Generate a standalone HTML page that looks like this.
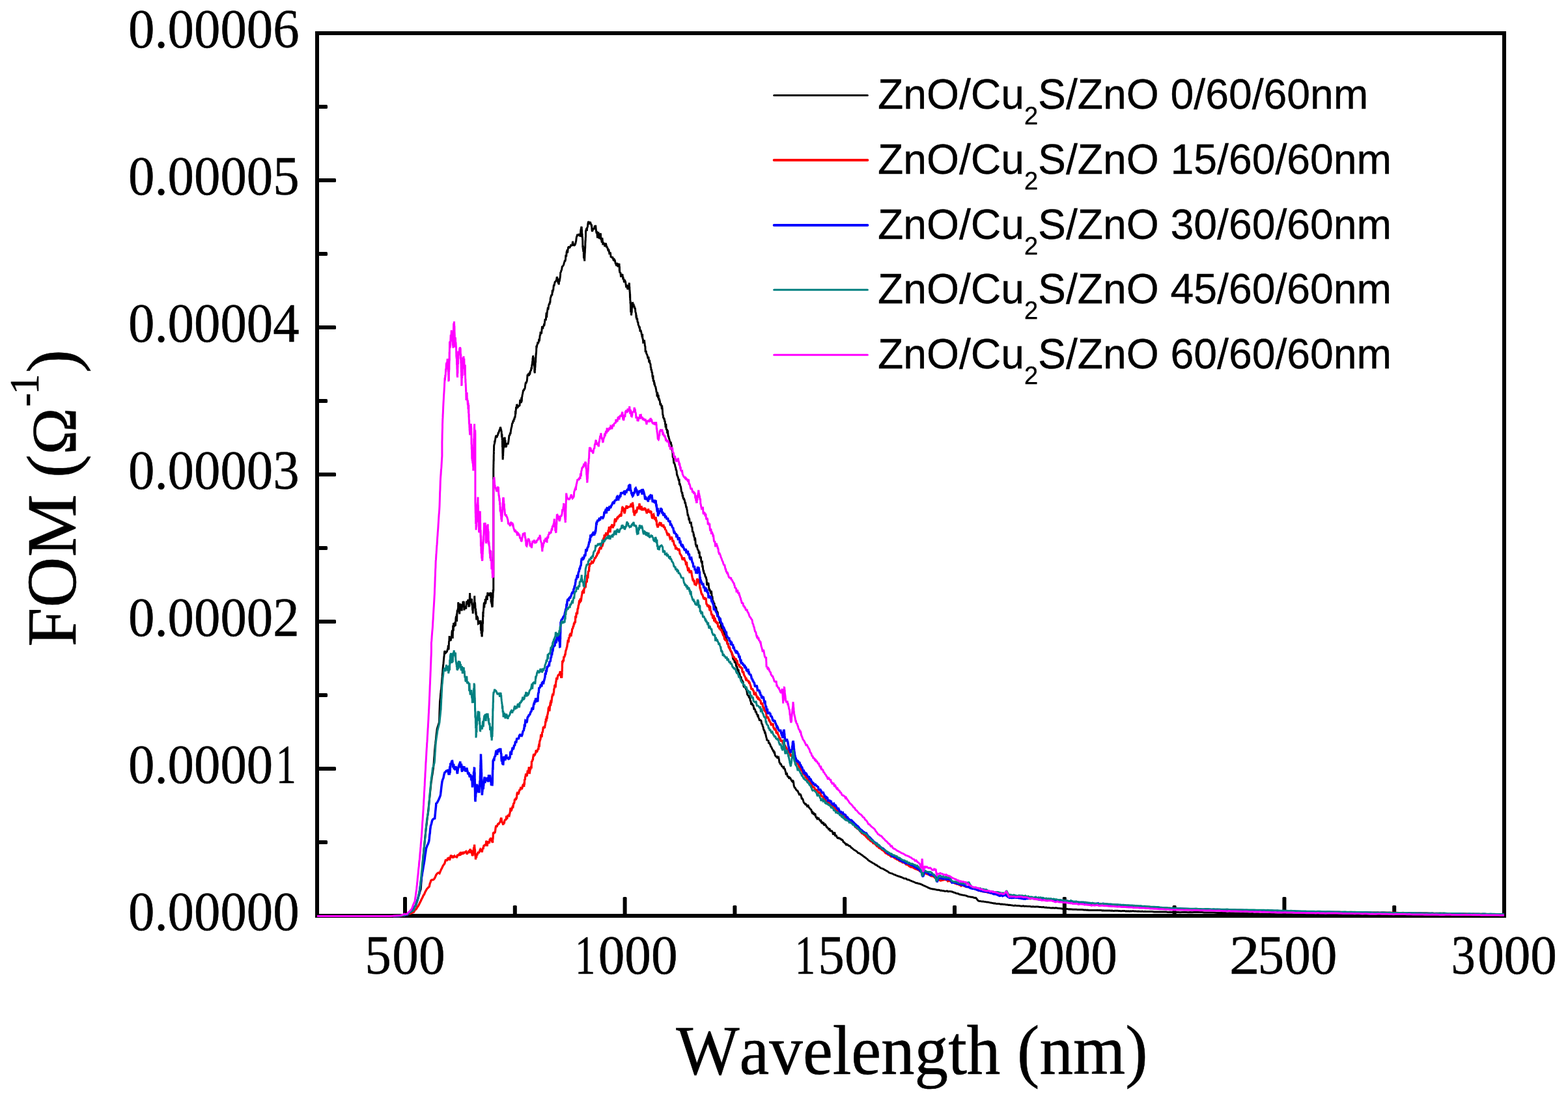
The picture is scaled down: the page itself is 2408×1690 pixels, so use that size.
<!DOCTYPE html>
<html lang="en"><head><meta charset="utf-8"><title>FOM vs Wavelength</title>
<style>html,body{margin:0;padding:0;background:#fff}body{width:2408px;height:1690px}svg{display:block}</style></head>
<body>
<svg width="2408" height="1690" viewBox="0 0 2408 1690">
<rect width="2408" height="1690" fill="#fff"/>
<rect x="487" y="51" width="1823" height="1356" fill="none" stroke="#000" stroke-width="6"/>
<g fill="#000"><rect x="487" y="1291" width="16" height="6" rx="1.6"/><rect x="487" y="1178" width="29" height="6" rx="1.6"/><rect x="487" y="1065" width="16" height="6" rx="1.6"/><rect x="487" y="952" width="29" height="6" rx="1.6"/><rect x="487" y="839" width="16" height="6" rx="1.6"/><rect x="487" y="726" width="29" height="6" rx="1.6"/><rect x="487" y="613" width="16" height="6" rx="1.6"/><rect x="487" y="500" width="29" height="6" rx="1.6"/><rect x="487" y="387" width="16" height="6" rx="1.6"/><rect x="487" y="274" width="29" height="6" rx="1.6"/><rect x="487" y="161" width="16" height="6" rx="1.6"/><rect x="619.0" y="1378" width="6" height="29" rx="1.6"/><rect x="787.8" y="1391" width="6" height="16" rx="1.6"/><rect x="956.6" y="1378" width="6" height="29" rx="1.6"/><rect x="1125.4" y="1391" width="6" height="16" rx="1.6"/><rect x="1294.2" y="1378" width="6" height="29" rx="1.6"/><rect x="1463.0" y="1391" width="6" height="16" rx="1.6"/><rect x="1631.8" y="1378" width="6" height="29" rx="1.6"/><rect x="1800.6" y="1391" width="6" height="16" rx="1.6"/><rect x="1969.4" y="1378" width="6" height="29" rx="1.6"/><rect x="2138.2" y="1391" width="6" height="16" rx="1.6"/></g>
<clipPath id="c"><rect x="487" y="51" width="1824.5" height="1359"/></clipPath>
<g clip-path="url(#c)" fill="none" stroke-linejoin="miter" stroke-miterlimit="2" stroke-linecap="butt">
<path d="M604.0,1407.5 L612.0,1407.5 L613.5,1407.2 L615.1,1406.9 L616.6,1406.7 L618.1,1406.0 L619.7,1406.1 L621.2,1405.4 L622.7,1405.2 L624.2,1404.8 L625.7,1404.0 L627.2,1403.3 L628.7,1401.9 L630.2,1401.5 L631.7,1400.6 L633.2,1399.4 L634.8,1396.8 L636.4,1393.4 L638.1,1391.0 L639.7,1386.8 L640.6,1383.7 L641.6,1381.3 L642.5,1377.9 L643.4,1375.2 L644.4,1371.7 L645.3,1368.9 L646.2,1366.1 L646.5,1362.9 L646.7,1359.4 L647.0,1355.6 L647.2,1353.0 L647.5,1349.5 L647.7,1346.5 L648.0,1343.1 L648.2,1340.2 L648.4,1336.4 L648.7,1333.3 L648.9,1330.2 L649.2,1326.2 L649.4,1323.2 L649.7,1319.9 L649.9,1317.6 L650.2,1313.6 L650.5,1310.6 L650.8,1307.3 L651.1,1303.7 L651.5,1299.9 L651.8,1297.6 L652.1,1293.8 L652.4,1291.0 L652.8,1286.9 L653.1,1284.0 L653.4,1281.4 L653.7,1278.2 L654.1,1274.0 L654.5,1270.7 L654.9,1268.1 L655.3,1265.3 L655.6,1261.9 L656.0,1258.8 L656.4,1255.2 L656.8,1252.7 L657.2,1249.7 L657.6,1246.0 L658.0,1242.6 L658.3,1239.5 L658.6,1236.8 L659.0,1232.5 L659.3,1229.9 L659.6,1226.3 L660.0,1223.4 L660.3,1220.1 L660.6,1216.9 L660.9,1214.2 L661.3,1210.5 L661.6,1207.6 L661.9,1203.8 L662.4,1200.4 L662.9,1197.4 L663.4,1192.9 L663.9,1190.7 L664.4,1187.6 L664.9,1183.7 L665.3,1181.2 L665.8,1177.5 L666.1,1173.4 L666.3,1171.1 L666.5,1167.5 L666.7,1164.4 L667.0,1161.3 L667.2,1158.6 L667.4,1154.9 L667.7,1151.6 L668.0,1148.6 L668.3,1144.6 L668.7,1142.7 L669.0,1138.6 L669.4,1136.1 L669.7,1132.3 L670.0,1129.2 L670.4,1126.3 L670.7,1124.1 L671.1,1120.4 L672.2,1116.5 L673.3,1113.1 L674.5,1109.4 L674.6,1106.6 L674.7,1103.3 L674.8,1100.6 L674.9,1096.7 L675.0,1093.9 L675.1,1090.6 L675.2,1087.5 L675.3,1085.0 L675.4,1081.6 L675.5,1078.6 L675.8,1075.6 L676.2,1072.3 L676.5,1068.0 L676.8,1065.5 L677.1,1061.4 L677.5,1058.8 L677.8,1056.3 L678.1,1052.2 L678.4,1048.9 L678.6,1045.8 L678.9,1042.5 L679.2,1039.2 L679.4,1035.6 L679.7,1033.1 L679.9,1029.8 L680.2,1026.1 L680.5,1023.0 L680.9,1019.9 L681.2,1016.7 L681.5,1013.2 L681.8,1010.1 L682.2,1006.4 L682.5,1002.8 L682.8,999.9 L684.6,1003.0 L686.3,1001.3 L688.0,995.8 L688.3,991.3 L688.6,993.8 L688.9,998.4 L689.2,995.6 L689.5,985.0 L689.8,986.4 L690.1,978.6 L690.4,978.6 L690.7,982.8 L691.2,980.8 L691.8,983.6 L692.3,983.5 L692.9,980.0 L693.5,980.7 L694.0,970.8 L694.6,968.2 L694.9,972.6 L695.2,980.9 L695.5,969.0 L695.7,960.8 L696.0,965.6 L696.3,969.5 L696.6,957.0 L696.9,963.8 L697.2,956.8 L697.8,962.9 L698.3,959.3 L698.9,955.6 L699.4,961.7 L700.0,949.4 L700.6,946.7 L701.1,954.1 L701.4,942.7 L701.6,955.0 L701.9,943.4 L702.2,937.3 L702.4,940.4 L702.7,939.4 L702.9,938.2 L703.2,934.8 L703.5,939.0 L703.7,925.3 L704.4,931.0 L705.0,933.1 L705.7,943.4 L706.3,927.1 L707.0,935.4 L707.6,934.2 L708.0,933.4 L708.4,937.8 L708.8,935.3 L709.2,938.5 L709.5,927.8 L709.9,930.3 L710.3,932.9 L710.7,930.3 L711.0,923.7 L711.7,931.4 L712.3,923.7 L712.9,937.6 L713.6,931.7 L714.2,932.2 L714.7,932.2 L715.2,933.3 L715.7,935.7 L716.3,925.7 L716.8,923.6 L717.6,928.7 L718.4,923.4 L719.1,921.0 L719.9,932.6 L720.4,926.8 L720.8,932.1 L721.2,920.9 L721.6,911.1 L722.1,923.9 L722.5,921.8 L722.9,926.9 L723.3,919.9 L723.6,921.1 L723.8,923.9 L724.0,921.2 L724.3,924.7 L724.5,919.8 L724.8,929.8 L725.0,925.4 L725.2,928.6 L725.5,935.3 L725.7,937.8 L725.9,932.0 L726.2,942.8 L726.5,929.6 L726.8,934.6 L727.1,933.7 L727.4,928.9 L727.7,927.3 L728.0,933.1 L728.3,927.6 L728.6,923.5 L728.7,915.4 L728.9,921.7 L729.1,931.8 L729.3,929.0 L729.5,925.3 L729.7,928.2 L729.9,931.2 L730.0,937.2 L730.2,937.3 L730.4,941.5 L730.6,934.9 L730.8,944.5 L731.0,939.3 L731.2,942.1 L731.7,952.4 L732.2,946.5 L732.7,947.1 L733.3,948.4 L733.8,949.7 L734.4,958.3 L735.1,957.9 L735.7,955.4 L736.4,953.4 L737.0,957.7 L737.7,953.2 L737.9,957.0 L738.1,958.3 L738.3,958.4 L738.4,966.9 L738.6,968.8 L738.8,968.4 L739.0,955.3 L739.2,973.7 L739.4,970.1 L739.6,966.4 L739.8,969.8 L739.9,976.5 L740.1,978.2 L740.3,977.1 L740.4,973.5 L740.5,971.4 L740.6,973.4 L740.6,967.7 L740.7,962.5 L740.8,962.2 L740.9,962.8 L741.0,963.3 L741.1,970.5 L741.1,952.5 L741.2,959.3 L741.3,955.2 L741.4,955.4 L741.5,958.5 L741.6,956.5 L741.6,948.6 L741.7,945.2 L741.8,940.0 L741.9,944.3 L742.0,948.6 L742.1,940.3 L742.2,943.1 L742.2,941.5 L742.3,938.5 L742.4,938.6 L742.8,933.2 L743.1,928.6 L743.4,925.6 L743.8,933.6 L744.1,926.3 L744.5,925.1 L744.8,928.8 L745.2,920.0 L745.5,927.7 L746.2,923.8 L746.8,917.1 L747.5,915.4 L748.2,921.8 L748.8,910.3 L749.5,912.3 L750.1,913.9 L750.8,914.3 L751.4,913.0 L752.1,914.3 L752.7,910.5 L753.4,911.3 L753.6,918.9 L753.8,917.6 L753.9,914.1 L754.1,925.4 L754.3,910.2 L754.5,921.0 L754.7,925.1 L754.9,928.0 L755.1,925.6 L755.2,924.9 L755.4,930.7 L755.6,928.7 L755.8,933.2 L756.0,923.6 L756.1,932.7 L756.2,925.9 L756.3,932.1 L756.3,929.7 L756.4,928.0 L756.5,921.3 L756.6,923.6 L756.7,918.5 L756.8,919.4 L756.9,916.3 L756.9,911.4 L757.0,918.5 L757.1,913.9 L757.2,905.7 L757.3,910.6 L757.8,906.7 L757.8,719.9 L757.9,717.6 L757.9,715.1 L757.9,713.4 L758.0,713.5 L758.0,710.4 L758.1,706.0 L758.1,707.7 L758.2,706.8 L758.2,708.5 L758.2,701.5 L758.3,697.9 L758.3,698.1 L758.4,698.8 L758.4,693.4 L758.4,692.0 L758.5,693.3 L758.5,690.2 L758.6,689.0 L758.6,685.7 L758.9,683.1 L759.1,682.7 L759.4,681.5 L759.6,679.4 L759.9,679.6 L760.2,678.3 L760.4,676.6 L760.7,674.5 L761.4,670.5 L762.2,668.8 L762.9,672.3 L763.7,669.4 L764.4,668.5 L765.1,665.2 L765.8,665.1 L766.4,662.6 L767.1,660.5 L767.8,659.5 L768.4,655.9 L769.1,658.2 L769.3,662.4 L769.6,659.6 L769.8,663.1 L770.1,661.9 L770.4,667.8 L770.6,672.3 L770.9,666.5 L771.1,670.7 L771.2,676.3 L771.3,675.5 L771.3,676.7 L771.4,673.3 L771.4,679.7 L771.5,684.0 L771.5,687.0 L771.6,686.9 L771.6,685.8 L771.7,687.3 L771.8,686.4 L771.8,690.0 L771.9,697.0 L771.9,695.8 L772.0,694.7 L772.0,702.9 L772.1,697.5 L772.1,706.3 L772.2,704.5 L772.3,704.1 L772.4,703.1 L772.5,700.3 L772.6,700.9 L772.7,696.1 L772.9,693.5 L773.0,690.9 L773.1,687.3 L773.2,687.3 L773.3,689.5 L773.4,687.4 L773.5,686.9 L773.6,688.4 L773.7,681.7 L773.8,679.4 L774.0,673.3 L774.1,674.1 L774.2,678.1 L774.3,672.0 L774.6,672.5 L774.9,675.3 L775.2,671.8 L775.4,676.0 L775.7,676.6 L776.0,676.4 L776.3,685.1 L776.6,687.3 L776.9,686.5 L777.6,685.8 L778.2,680.9 L778.9,682.6 L779.5,681.6 L780.2,681.7 L780.8,678.9 L781.2,675.8 L781.6,672.6 L781.9,669.3 L782.3,668.1 L782.7,669.4 L783.1,667.6 L783.4,664.6 L783.9,666.7 L784.4,662.5 L784.9,659.2 L785.4,656.9 L785.9,655.7 L786.4,651.5 L786.9,649.6 L787.3,650.8 L787.8,647.1 L788.3,646.3 L788.8,648.2 L789.3,643.2 L789.8,645.2 L790.3,640.4 L790.8,642.4 L791.3,637.9 L791.6,631.1 L791.9,636.5 L792.2,631.2 L792.6,625.2 L792.9,628.4 L793.2,626.7 L793.6,621.4 L793.9,621.7 L794.7,623.6 L795.5,625.1 L796.3,624.0 L797.1,623.7 L798.0,623.0 L798.8,613.8 L799.6,617.6 L800.4,619.1 L800.7,610.6 L801.0,617.2 L801.3,615.7 L801.6,610.0 L801.9,609.2 L802.2,606.1 L802.4,606.6 L802.7,604.8 L803.0,603.1 L803.7,598.9 L804.3,600.6 L805.0,597.1 L805.6,598.4 L806.3,595.2 L806.9,590.2 L807.4,587.5 L807.8,589.4 L808.3,586.3 L808.7,586.8 L809.1,585.9 L809.6,582.3 L810.0,576.4 L810.4,575.9 L810.9,578.0 L811.6,573.4 L812.4,577.4 L813.1,573.4 L813.9,573.8 L814.6,569.3 L815.3,570.0 L816.1,564.2 L816.3,566.9 L816.5,567.1 L816.7,561.8 L817.0,560.2 L817.2,560.3 L817.4,558.9 L817.6,555.0 L817.8,556.8 L818.1,549.5 L818.3,554.4 L818.5,546.6 L818.7,546.9 L818.9,553.3 L819.1,549.5 L819.3,549.7 L819.5,555.7 L819.7,555.1 L819.9,556.4 L820.1,559.2 L820.3,560.9 L820.5,562.2 L820.7,563.9 L820.9,572.0 L821.1,568.4 L821.3,573.4 L821.4,566.7 L821.6,569.6 L821.7,563.5 L821.8,563.7 L821.9,564.6 L822.1,560.0 L822.2,554.9 L822.3,556.5 L822.4,555.7 L822.6,555.7 L822.7,550.2 L822.8,550.2 L822.9,549.3 L823.1,543.4 L823.2,545.4 L823.3,541.9 L823.4,543.2 L823.6,540.2 L823.7,538.3 L823.8,531.1 L823.9,535.0 L824.4,532.6 L824.9,529.6 L825.4,529.0 L825.8,525.5 L826.3,527.3 L826.8,526.8 L827.3,525.0 L827.7,520.6 L828.2,524.3 L828.7,520.6 L829.2,515.3 L829.7,514.9 L830.1,509.7 L830.6,511.7 L831.1,512.1 L831.6,511.8 L832.1,506.1 L832.6,501.2 L833.1,503.5 L833.7,505.4 L834.2,500.7 L834.8,501.7 L835.4,498.8 L836.0,498.9 L836.6,494.8 L837.1,490.0 L837.7,491.0 L838.3,492.4 L838.7,485.2 L839.2,480.2 L839.6,488.0 L840.0,482.2 L840.5,477.9 L840.9,476.2 L841.4,472.3 L841.8,475.9 L842.2,472.7 L842.7,469.2 L843.1,468.0 L843.5,466.2 L844.0,468.1 L844.4,463.3 L844.8,465.3 L845.3,458.3 L845.7,457.1 L846.1,456.0 L846.6,453.8 L847.0,453.1 L847.5,454.0 L847.9,452.7 L848.3,445.5 L848.8,449.4 L849.2,444.8 L849.6,446.7 L850.1,440.7 L850.5,437.4 L850.9,439.5 L851.4,436.9 L852.2,433.2 L852.9,432.8 L853.7,431.5 L854.5,430.4 L855.3,425.2 L855.8,426.7 L856.3,431.3 L856.9,433.4 L857.4,433.1 L857.9,432.9 L858.2,437.4 L858.6,431.7 L858.9,428.1 L859.2,432.7 L859.5,429.9 L859.9,427.9 L860.2,425.7 L860.5,423.3 L860.8,417.9 L861.2,418.5 L861.5,417.6 L861.8,416.0 L862.6,414.6 L863.3,409.6 L864.1,409.1 L864.8,408.2 L865.6,407.0 L866.3,403.9 L867.1,401.5 L867.4,399.9 L867.8,401.9 L868.2,399.5 L868.5,399.2 L868.9,391.6 L869.3,393.5 L869.7,394.3 L870.2,386.3 L870.6,386.6 L871.1,383.4 L871.6,388.5 L872.1,383.9 L872.6,380.6 L873.1,380.6 L873.6,378.2 L874.3,380.0 L875.1,380.1 L875.8,378.9 L876.6,377.0 L877.3,377.4 L878.1,377.0 L878.8,376.4 L879.6,370.6 L880.4,376.4 L881.2,376.2 L881.9,377.0 L882.7,376.7 L883.2,375.1 L883.7,374.7 L884.2,372.2 L884.7,370.2 L885.2,365.5 L885.7,363.3 L886.2,362.7 L886.7,359.7 L887.4,361.8 L888.2,361.3 L889.0,359.4 L889.8,360.8 L890.2,361.1 L890.6,359.0 L891.1,363.9 L891.5,358.9 L891.9,353.2 L892.3,352.0 L892.8,349.0 L893.2,348.3 L893.3,350.6 L893.4,353.0 L893.6,353.4 L893.7,358.6 L893.8,359.9 L893.9,364.8 L894.1,358.7 L894.2,365.2 L894.3,364.4 L894.4,363.2 L894.6,368.1 L894.7,366.6 L894.8,372.2 L894.9,380.6 L895.1,378.9 L895.2,381.9 L895.3,382.1 L895.4,377.3 L895.5,383.7 L895.7,384.8 L895.8,387.0 L896.0,385.5 L896.3,385.1 L896.5,396.7 L896.7,396.3 L896.9,396.0 L897.2,395.8 L897.4,399.3 L897.6,398.5 L897.7,401.1 L897.8,397.5 L897.9,394.9 L898.0,392.5 L898.0,391.6 L898.1,390.3 L898.2,387.2 L898.3,388.7 L898.4,385.1 L898.5,382.6 L898.5,379.0 L898.6,382.2 L898.7,380.6 L898.8,377.4 L898.9,369.5 L899.0,371.3 L899.0,372.8 L899.1,368.7 L899.2,369.9 L899.3,364.0 L899.4,365.2 L899.5,362.8 L899.6,353.9 L899.6,357.0 L899.7,355.8 L900.2,352.9 L900.8,350.6 L901.3,354.8 L901.8,348.9 L902.3,349.4 L902.9,343.5 L903.7,340.0 L904.5,343.0 L905.4,344.4 L906.2,340.9 L907.0,342.7 L907.4,345.4 L907.8,344.0 L908.2,346.6 L908.6,346.6 L909.0,352.6 L909.4,355.9 L909.8,354.4 L910.2,354.0 L911.0,351.6 L911.7,351.1 L912.5,352.3 L913.3,346.8 L914.1,349.5 L914.6,345.9 L915.1,350.6 L915.6,355.6 L916.1,358.5 L916.5,355.0 L917.0,359.7 L917.5,365.7 L918.0,363.4 L918.8,356.2 L919.6,362.1 L920.4,367.1 L921.1,358.6 L921.9,362.9 L922.4,358.2 L922.9,368.8 L923.4,364.8 L923.9,370.5 L924.4,372.6 L924.9,365.5 L925.4,370.6 L925.9,376.3 L926.6,372.1 L927.3,375.7 L928.1,373.5 L928.8,379.0 L929.6,374.6 L930.3,373.6 L931.1,376.9 L931.7,380.5 L932.4,378.9 L933.0,381.7 L933.7,383.9 L934.3,383.3 L935.0,384.2 L935.8,389.1 L936.6,388.5 L937.3,387.7 L938.1,394.6 L938.9,394.8 L939.7,395.5 L940.5,394.4 L941.3,396.7 L942.1,399.7 L942.8,400.1 L943.6,398.9 L944.4,400.3 L945.2,404.8 L946.0,406.0 L946.8,408.6 L947.5,403.8 L948.3,408.3 L949.1,409.8 L949.9,407.3 L950.7,404.7 L950.8,408.4 L951.0,404.9 L951.1,408.7 L951.3,416.4 L951.4,409.3 L951.5,412.2 L951.7,418.7 L951.8,416.9 L952.0,419.3 L952.8,418.3 L953.6,425.8 L954.3,421.1 L955.1,422.7 L955.9,421.1 L956.6,427.5 L957.2,427.2 L957.9,429.9 L958.5,434.0 L959.2,432.1 L959.8,431.3 L960.5,432.6 L961.1,437.0 L961.8,441.7 L962.4,437.4 L963.1,441.4 L963.7,443.5 L964.3,443.5 L964.8,437.9 L965.3,439.0 L965.8,438.3 L966.4,434.5 L966.5,436.1 L966.5,439.5 L966.6,441.1 L966.7,444.5 L966.8,440.6 L966.9,447.8 L967.0,446.1 L967.1,445.6 L967.2,448.7 L967.3,448.8 L967.4,453.0 L967.5,457.7 L967.6,451.5 L967.7,455.8 L967.8,462.2 L967.9,461.4 L968.0,465.7 L968.1,462.3 L968.2,467.2 L968.3,462.7 L968.4,468.7 L968.5,474.2 L968.6,477.1 L968.8,479.9 L968.9,477.6 L969.0,477.3 L969.1,480.3 L969.2,479.7 L969.5,484.5 L969.7,482.4 L969.9,475.6 L970.2,480.5 L970.4,471.2 L970.6,474.1 L970.9,469.1 L971.1,465.2 L971.3,468.6 L971.6,464.0 L972.2,470.3 L972.9,466.8 L973.5,470.8 L974.2,470.9 L974.8,473.9 L975.5,474.0 L975.8,478.8 L976.1,480.0 L976.4,480.5 L976.7,481.7 L977.0,488.5 L977.2,483.9 L977.5,486.2 L977.8,490.9 L978.1,490.7 L978.6,488.6 L979.0,493.9 L979.4,495.1 L979.9,495.3 L980.3,499.9 L980.7,499.3 L981.5,502.2 L982.3,501.6 L983.1,509.7 L983.9,506.8 L984.6,509.8 L985.0,511.4 L985.3,514.0 L985.6,513.6 L986.0,517.4 L986.3,517.5 L986.6,513.0 L986.9,521.2 L987.3,520.0 L987.8,526.0 L988.3,525.8 L988.8,525.9 L989.4,522.3 L989.9,526.4 L990.2,528.8 L990.5,532.3 L990.9,531.6 L991.2,541.3 L991.5,539.2 L991.8,539.6 L992.2,539.0 L992.5,542.5 L993.2,544.0 L993.8,545.1 L994.5,547.5 L995.2,551.2 L995.9,547.9 L996.4,553.2 L996.9,557.0 L997.5,552.8 L998.0,557.4 L998.5,558.7 L999.0,559.4 L999.3,565.2 L999.7,563.8 L1000.0,569.0 L1000.3,568.8 L1000.7,568.8 L1001.0,571.8 L1001.3,571.9 L1001.6,571.6 L1002.0,579.4 L1002.3,578.5 L1002.6,582.1 L1002.9,576.6 L1003.3,585.1 L1003.6,586.2 L1003.9,585.7 L1004.2,583.9 L1004.7,589.3 L1005.2,589.1 L1005.7,591.9 L1006.2,594.1 L1006.7,593.4 L1007.2,596.9 L1007.7,598.9 L1008.2,603.0 L1008.7,601.9 L1009.1,609.4 L1009.6,602.6 L1010.1,606.7 L1010.6,611.7 L1011.1,606.5 L1011.6,613.4 L1012.1,614.2 L1012.7,613.9 L1013.4,616.5 L1014.0,622.5 L1014.7,619.5 L1015.4,623.0 L1016.0,624.8 L1016.3,628.7 L1016.6,622.6 L1016.9,625.7 L1017.2,627.8 L1017.5,632.1 L1017.7,636.0 L1018.0,638.2 L1018.3,637.3 L1018.6,642.3 L1019.1,641.1 L1019.7,644.5 L1020.2,642.6 L1020.7,648.0 L1021.2,646.3 L1021.6,652.0 L1021.9,652.9 L1022.2,656.9 L1022.5,653.1 L1022.9,652.9 L1023.2,659.3 L1023.5,659.8 L1023.8,659.7 L1024.3,659.0 L1024.8,665.8 L1025.3,660.8 L1025.8,666.0 L1026.3,671.4 L1026.8,669.8 L1027.3,673.2 L1027.8,674.5 L1028.3,676.7 L1028.7,679.5 L1029.2,680.2 L1029.7,679.3 L1030.2,678.9 L1030.7,682.8 L1031.2,683.5 L1031.7,687.4 L1031.9,691.5 L1032.1,692.1 L1032.3,690.3 L1032.6,694.2 L1032.8,695.5 L1033.0,696.1 L1033.2,702.1 L1033.4,702.2 L1033.6,703.3 L1033.9,701.2 L1034.1,699.6 L1034.3,706.4 L1034.9,712.2 L1035.4,710.7 L1036.0,712.9 L1036.5,714.0 L1037.1,717.6 L1037.7,718.2 L1038.2,722.8 L1038.2,720.9 L1038.7,722.4 L1039.1,723.8 L1039.5,729.5 L1040.0,729.7 L1040.4,731.3 L1040.8,732.6 L1041.3,733.0 L1041.7,735.6 L1042.1,737.5 L1042.6,738.6 L1043.0,735.6 L1043.4,745.1 L1043.9,742.4 L1044.3,743.9 L1044.8,746.2 L1045.2,747.0 L1045.6,748.4 L1046.1,752.1 L1046.5,756.1 L1046.9,755.0 L1047.4,758.6 L1047.8,756.0 L1048.2,762.8 L1048.7,760.0 L1049.1,766.1 L1049.5,764.4 L1050.0,766.9 L1050.6,766.7 L1051.3,768.4 L1051.9,772.6 L1052.6,772.6 L1053.2,776.1 L1053.9,780.3 L1054.2,778.0 L1054.6,780.9 L1054.9,783.1 L1055.2,783.4 L1055.5,786.5 L1055.9,788.8 L1056.2,792.3 L1056.5,790.2 L1057.0,792.6 L1057.5,794.3 L1058.0,799.3 L1058.5,795.6 L1059.0,800.0 L1059.5,803.1 L1059.9,804.3 L1060.4,803.3 L1060.9,803.7 L1061.4,803.4 L1061.9,808.1 L1062.4,810.4 L1062.9,809.1 L1063.4,816.4 L1063.9,816.4 L1064.4,817.2 L1064.8,818.1 L1065.2,822.2 L1065.7,822.1 L1066.1,825.8 L1066.5,825.2 L1067.0,830.6 L1067.4,825.9 L1067.8,829.0 L1068.3,836.3 L1068.9,837.5 L1069.6,840.7 L1070.2,836.6 L1070.9,842.0 L1071.5,844.4 L1072.2,845.3 L1072.7,844.9 L1073.2,850.5 L1073.7,849.6 L1074.2,847.2 L1074.6,857.8 L1075.1,853.8 L1075.6,858.2 L1076.1,855.6 L1076.4,856.2 L1076.8,862.2 L1077.1,863.7 L1077.4,861.5 L1077.7,865.6 L1078.1,863.4 L1078.4,863.3 L1078.7,871.7 L1079.2,868.7 L1079.7,874.9 L1080.2,877.3 L1080.7,877.3 L1081.2,881.7 L1081.7,880.5 L1082.2,882.0 L1082.6,882.9 L1083.1,885.6 L1083.6,887.0 L1084.1,885.6 L1084.6,889.3 L1085.1,890.2 L1085.6,899.5 L1086.1,897.3 L1086.6,894.7 L1087.2,899.2 L1087.9,895.3 L1088.5,901.4 L1089.2,907.3 L1089.8,904.9 L1090.5,908.6 L1091.0,907.2 L1091.5,910.8 L1092.0,912.2 L1092.4,907.7 L1092.9,912.7 L1093.4,920.8 L1093.9,915.9 L1094.4,921.5 L1094.9,925.3 L1095.4,922.7 L1095.9,926.8 L1096.4,926.9 L1096.9,926.2 L1097.3,930.7 L1097.8,932.0 L1098.3,930.9 L1099.0,933.3 L1099.6,932.8 L1100.3,937.3 L1100.9,939.5 L1101.6,939.7 L1102.2,940.9 L1102.7,945.7 L1103.2,948.3 L1103.7,946.5 L1104.2,949.7 L1104.7,950.1 L1105.2,948.6 L1105.7,957.8 L1106.2,956.4 L1106.7,955.5 L1107.1,961.4 L1107.6,962.2 L1108.1,964.9 L1108.6,965.4 L1109.1,966.7 L1109.6,969.8 L1110.1,968.9 L1110.7,971.2 L1111.4,970.7 L1112.0,972.2 L1112.7,976.0 L1113.3,977.7 L1114.0,976.4 L1114.7,981.2 L1115.3,983.4 L1116.0,982.0 L1116.6,985.2 L1117.3,990.2 L1117.9,987.8 L1118.6,991.9 L1119.2,993.6 L1120.0,994.8 L1120.7,996.6 L1121.5,999.1 L1122.2,1000.3 L1122.9,1002.0 L1123.5,1001.1 L1124.2,1005.6 L1124.8,1005.7 L1125.5,1011.1 L1126.1,1012.9 L1126.8,1014.0 L1127.4,1010.5 L1128.1,1017.3 L1128.7,1017.6 L1129.4,1017.4 L1130.1,1019.5 L1130.7,1024.3 L1131.4,1023.4 L1132.0,1026.0 L1132.7,1028.0 L1133.3,1031.1 L1134.0,1028.4 L1134.6,1035.1 L1135.3,1033.5 L1135.9,1035.9 L1136.6,1039.3 L1137.2,1040.7 L1137.9,1039.2 L1138.5,1044.5 L1139.2,1045.1 L1139.9,1045.4 L1140.5,1047.8 L1141.2,1048.0 L1141.8,1053.1 L1142.6,1056.1 L1143.3,1054.2 L1144.1,1056.0 L1144.8,1055.9 L1145.5,1058.6 L1146.3,1059.6 L1147.0,1062.7 L1147.7,1067.1 L1148.3,1067.7 L1149.0,1069.2 L1149.7,1067.7 L1150.3,1072.2 L1151.0,1071.4 L1151.6,1072.7 L1152.3,1076.6 L1153.0,1077.1 L1153.8,1082.7 L1154.5,1080.6 L1155.3,1081.3 L1156.0,1084.4 L1156.7,1082.9 L1157.5,1087.0 L1158.2,1090.4 L1159.0,1089.4 L1159.7,1090.5 L1160.5,1094.8 L1161.2,1092.8 L1162.0,1096.9 L1162.7,1097.4 L1163.5,1099.8 L1164.2,1099.4 L1165.0,1102.9 L1165.7,1104.1 L1166.5,1107.3 L1167.2,1105.3 L1167.9,1107.6 L1168.6,1106.1 L1169.3,1109.4 L1169.9,1112.8 L1170.6,1111.9 L1171.2,1115.7 L1171.9,1116.6 L1172.5,1120.1 L1173.2,1122.0 L1173.8,1122.1 L1174.5,1125.6 L1175.1,1125.4 L1175.8,1128.2 L1176.3,1130.7 L1176.8,1132.6 L1177.4,1134.5 L1177.9,1138.1 L1178.4,1136.5 L1179.1,1138.3 L1179.9,1136.9 L1180.6,1142.5 L1181.4,1140.6 L1182.1,1142.8 L1182.9,1144.2 L1183.6,1146.8 L1184.4,1147.4 L1185.1,1148.9 L1185.9,1150.9 L1186.6,1151.8 L1187.4,1153.8 L1188.1,1153.7 L1188.8,1156.2 L1189.6,1156.0 L1190.3,1160.4 L1191.1,1161.6 L1191.8,1162.3 L1192.6,1162.9 L1193.3,1162.5 L1194.1,1165.3 L1194.8,1163.5 L1195.6,1163.2 L1196.3,1166.7 L1197.1,1172.3 L1197.8,1171.6 L1198.6,1175.0 L1199.3,1173.0 L1200.0,1175.8 L1200.8,1177.4 L1201.5,1177.7 L1202.3,1177.8 L1203.0,1179.6 L1203.8,1178.9 L1204.5,1181.7 L1205.1,1180.6 L1205.6,1182.6 L1206.1,1185.0 L1206.6,1185.7 L1207.1,1189.5 L1207.9,1189.8 L1208.6,1189.2 L1209.4,1192.8 L1210.1,1193.4 L1210.9,1192.4 L1211.6,1195.5 L1212.4,1195.6 L1213.1,1194.9 L1213.9,1195.6 L1214.6,1197.3 L1215.4,1198.9 L1216.1,1200.1 L1216.8,1200.8 L1217.6,1199.5 L1218.1,1199.8 L1218.6,1201.7 L1219.2,1207.1 L1219.7,1208.4 L1220.2,1210.0 L1221.0,1210.2 L1221.7,1211.4 L1222.4,1213.0 L1223.2,1214.0 L1223.9,1214.7 L1224.7,1214.7 L1225.4,1215.8 L1226.2,1218.2 L1226.9,1219.0 L1227.7,1221.8 L1228.4,1220.2 L1229.2,1220.3 L1229.9,1221.5 L1230.7,1224.7 L1231.4,1227.9 L1232.2,1227.0 L1232.9,1227.9 L1233.6,1230.4 L1234.4,1233.0 L1235.1,1233.8 L1235.9,1234.6 L1236.7,1235.7 L1237.5,1235.2 L1238.3,1236.4 L1239.2,1237.6 L1240.0,1240.0 L1240.8,1236.4 L1241.6,1239.0 L1242.4,1240.7 L1243.2,1241.3 L1244.1,1242.6 L1244.9,1243.6 L1245.7,1243.9 L1246.5,1246.7 L1247.3,1248.7 L1248.1,1248.0 L1249.0,1249.9 L1249.7,1251.6 L1250.5,1250.4 L1251.3,1251.8 L1252.1,1251.3 L1252.9,1255.2 L1253.7,1256.2 L1254.4,1254.8 L1255.2,1258.0 L1256.0,1257.6 L1256.8,1256.0 L1257.6,1258.7 L1258.4,1259.2 L1259.1,1260.3 L1259.9,1261.3 L1260.7,1260.8 L1261.5,1263.4 L1262.3,1263.2 L1263.1,1265.8 L1263.8,1264.3 L1264.6,1263.3 L1265.4,1268.1 L1266.2,1267.4 L1267.0,1265.6 L1267.8,1267.7 L1268.6,1268.3 L1269.3,1271.0 L1270.1,1270.0 L1270.9,1272.8 L1271.7,1271.7 L1272.5,1273.8 L1273.3,1273.2 L1274.0,1273.3 L1274.8,1276.1 L1275.6,1276.0 L1276.4,1277.6 L1277.2,1276.0 L1278.0,1277.4 L1278.7,1279.0 L1279.5,1282.3 L1280.3,1281.2 L1281.1,1279.7 L1281.9,1278.8 L1282.7,1284.9 L1283.4,1283.9 L1284.2,1282.8 L1285.0,1285.9 L1285.8,1286.4 L1286.6,1288.5 L1287.4,1287.0 L1288.2,1287.1 L1288.9,1289.0 L1289.7,1287.3 L1290.5,1288.9 L1291.3,1289.0 L1292.1,1290.1 L1292.9,1290.0 L1293.6,1290.4 L1294.4,1291.5 L1295.2,1293.8 L1296.0,1294.0 L1296.8,1294.4 L1297.6,1295.6 L1298.3,1296.4 L1299.1,1296.6 L1299.9,1298.9 L1300.7,1297.2 L1301.5,1297.7 L1302.3,1298.1 L1303.0,1299.0 L1303.8,1299.5 L1305.4,1299.8 L1307.0,1302.0 L1308.5,1302.9 L1310.1,1304.5 L1311.7,1305.8 L1313.2,1306.5 L1314.8,1307.5 L1316.4,1308.8 L1317.9,1310.6 L1319.5,1310.8 L1321.1,1311.9 L1322.6,1313.0 L1324.2,1314.0 L1325.8,1315.4 L1327.3,1316.5 L1328.9,1317.5 L1330.5,1318.9 L1332.1,1320.0 L1333.6,1321.8 L1335.2,1322.7 L1336.8,1323.8 L1338.3,1324.6 L1339.9,1325.8 L1341.5,1326.5 L1343.0,1327.3 L1344.6,1328.9 L1346.2,1329.0 L1347.7,1330.5 L1349.3,1331.3 L1350.9,1332.2 L1352.4,1333.7 L1354.0,1334.1 L1355.6,1334.7 L1357.1,1335.3 L1358.7,1336.4 L1360.3,1337.3 L1361.8,1338.1 L1363.4,1339.0 L1365.0,1340.5 L1366.5,1341.1 L1368.1,1341.6 L1369.7,1342.0 L1371.3,1342.7 L1372.8,1343.7 L1374.4,1344.0 L1376.0,1344.9 L1377.5,1345.3 L1379.1,1346.0 L1380.7,1346.5 L1382.2,1347.0 L1383.8,1347.5 L1385.4,1348.1 L1386.9,1348.8 L1388.5,1349.7 L1390.1,1349.8 L1391.6,1350.0 L1393.2,1351.4 L1394.8,1351.5 L1396.3,1352.0 L1397.9,1352.8 L1399.5,1353.4 L1401.0,1354.1 L1402.6,1354.7 L1404.2,1355.3 L1405.7,1356.1 L1407.3,1356.7 L1408.9,1356.8 L1410.5,1357.6 L1412.0,1357.8 L1413.6,1358.2 L1415.2,1358.9 L1416.7,1359.6 L1418.3,1360.6 L1419.9,1360.9 L1421.4,1361.9 L1423.0,1362.3 L1424.6,1363.5 L1426.1,1364.0 L1427.7,1364.8 L1429.3,1365.3 L1430.8,1365.4 L1432.3,1366.1 L1433.7,1366.0 L1435.2,1366.3 L1436.7,1366.6 L1438.2,1367.0 L1439.7,1367.2 L1441.2,1367.2 L1442.7,1367.4 L1444.2,1368.2 L1445.7,1368.1 L1447.2,1368.4 L1448.7,1368.5 L1450.2,1369.1 L1451.7,1369.2 L1453.2,1369.1 L1454.7,1368.9 L1456.1,1369.9 L1457.6,1369.4 L1459.1,1369.4 L1460.6,1369.7 L1462.2,1370.0 L1463.8,1370.8 L1465.3,1371.2 L1466.9,1371.6 L1468.5,1372.5 L1470.0,1372.7 L1471.6,1373.0 L1473.2,1374.0 L1474.7,1374.3 L1476.3,1374.8 L1477.9,1374.9 L1479.4,1375.4 L1481.0,1375.6 L1482.6,1375.9 L1484.1,1376.2 L1485.7,1377.0 L1487.3,1377.4 L1488.8,1377.6 L1490.4,1378.1 L1492.0,1378.3 L1493.6,1378.3 L1495.2,1379.0 L1496.9,1379.5 L1498.5,1379.3 L1499.8,1380.8 L1501.1,1382.5 L1502.4,1384.0 L1503.9,1384.4 L1505.4,1384.4 L1506.9,1384.9 L1508.4,1385.1 L1509.9,1385.1 L1511.4,1385.3 L1512.9,1385.4 L1514.4,1385.8 L1515.9,1386.0 L1517.4,1386.0 L1518.9,1386.4 L1520.4,1386.8 L1521.8,1386.9 L1523.3,1387.3 L1524.8,1387.5 L1526.3,1387.9 L1527.8,1387.8 L1529.3,1388.2 L1530.8,1388.4 L1532.3,1388.6 L1533.8,1388.6 L1535.3,1388.8 L1536.8,1389.3 L1538.3,1389.1 L1539.8,1389.2 L1541.3,1389.5 L1542.8,1389.5 L1544.2,1389.8 L1545.7,1390.0 L1547.2,1390.1 L1548.6,1390.5 L1550.1,1390.3 L1551.5,1390.6 L1553.0,1390.8 L1554.4,1390.9 L1555.9,1391.2 L1557.3,1391.4 L1558.8,1391.1 L1560.2,1391.3 L1561.7,1391.4 L1563.1,1391.5 L1564.6,1391.6 L1566.0,1391.8 L1567.5,1392.1 L1568.9,1392.2 L1570.4,1392.0 L1571.8,1391.8 L1573.3,1392.4 L1574.7,1392.2 L1576.2,1392.3 L1577.6,1392.6 L1579.1,1392.5 L1580.5,1392.6 L1582.0,1392.6 L1583.4,1392.9 L1584.9,1392.9 L1586.3,1392.8 L1587.8,1392.9 L1589.3,1393.2 L1590.7,1393.0 L1592.2,1393.1 L1593.6,1393.1 L1595.1,1393.2 L1596.5,1393.4 L1598.0,1393.4 L1599.4,1393.7 L1600.9,1393.8 L1602.3,1393.6 L1603.8,1394.0 L1605.2,1394.2 L1606.7,1394.1 L1608.1,1394.6 L1609.6,1394.6 L1611.0,1394.6 L1612.5,1394.8 L1613.9,1394.9 L1615.4,1394.9 L1616.8,1394.8 L1618.3,1394.9 L1619.7,1395.3 L1621.2,1394.9 L1622.6,1395.1 L1624.1,1395.3 L1625.5,1395.6 L1627.0,1395.6 L1628.5,1395.7 L1629.9,1395.8 L1631.4,1396.2 L1632.8,1396.1 L1634.3,1396.3 L1635.7,1396.4 L1637.2,1396.6 L1638.6,1396.6 L1640.1,1396.7 L1641.5,1396.9 L1643.0,1396.8 L1644.4,1396.9 L1645.9,1397.0 L1647.3,1397.2 L1648.8,1397.3 L1650.2,1397.2 L1651.7,1397.2 L1653.1,1397.3 L1654.6,1397.4 L1656.0,1397.6 L1657.5,1397.6 L1658.9,1397.6 L1660.4,1397.5 L1661.8,1397.6 L1663.3,1397.8 L1664.7,1398.0 L1666.2,1398.0 L1667.6,1398.0 L1669.1,1398.2 L1670.6,1398.0 L1672.0,1398.5 L1673.5,1398.6 L1674.9,1398.5 L1676.4,1398.5 L1677.8,1398.5 L1679.3,1398.6 L1680.7,1398.4 L1682.2,1398.4 L1683.6,1398.6 L1685.1,1398.3 L1686.5,1398.6 L1688.0,1398.6 L1689.5,1398.6 L1691.0,1398.6 L1692.5,1399.0 L1694.0,1398.7 L1695.5,1398.9 L1697.0,1399.0 L1698.5,1399.0 L1700.0,1399.1 L1701.5,1399.1 L1703.0,1399.1 L1704.5,1399.1 L1706.0,1399.3 L1707.5,1399.1 L1709.0,1399.3 L1710.5,1399.4 L1712.0,1399.2 L1713.5,1399.2 L1715.0,1399.2 L1716.5,1399.3 L1718.0,1399.5 L1719.5,1399.5 L1721.0,1399.7 L1722.5,1399.7 L1724.0,1399.4 L1725.5,1399.6 L1727.0,1399.6 L1728.5,1399.9 L1730.0,1399.8 L1731.5,1399.9 L1733.0,1399.7 L1734.5,1400.1 L1736.0,1399.7 L1737.5,1399.9 L1739.0,1399.8 L1740.5,1399.8 L1742.0,1400.0 L1743.5,1399.9 L1745.0,1400.1 L1746.5,1400.2 L1748.0,1400.1 L1749.5,1400.2 L1751.0,1400.3 L1752.5,1400.4 L1754.0,1400.1 L1755.5,1400.4 L1757.0,1400.4 L1758.5,1400.3 L1760.0,1400.4 L1763.1,1400.6 L1766.2,1400.6 L1769.2,1400.6 L1772.3,1400.9 L1775.4,1400.9 L1778.5,1401.1 L1781.5,1400.9 L1784.6,1401.1 L1787.7,1400.9 L1790.8,1401.1 L1793.8,1401.4 L1796.9,1401.2 L1800.0,1401.4 L1803.1,1401.4 L1806.2,1401.5 L1809.2,1401.6 L1812.3,1401.7 L1815.4,1401.5 L1818.5,1401.5 L1821.5,1401.6 L1824.6,1401.7 L1827.7,1401.5 L1830.8,1401.7 L1833.8,1401.4 L1836.9,1401.6 L1840.0,1401.5 L1843.0,1401.6 L1846.0,1401.6 L1849.0,1402.0 L1852.0,1402.1 L1855.0,1402.0 L1858.0,1402.0 L1861.0,1401.9 L1864.0,1402.0 L1867.0,1402.3 L1870.0,1402.4 L1873.0,1402.4 L1876.0,1402.4 L1879.0,1402.4 L1882.0,1402.6 L1885.0,1402.9 L1888.0,1402.8 L1891.0,1402.8 L1894.0,1402.8 L1897.0,1403.0 L1900.0,1403.0 L1902.9,1402.9 L1905.9,1403.4 L1908.8,1403.3 L1911.8,1403.4 L1914.7,1403.4 L1917.6,1403.7 L1920.6,1403.7 L1923.5,1403.6 L1926.5,1403.9 L1929.4,1403.8 L1932.4,1403.7 L1935.3,1404.2 L1938.2,1404.0 L1941.2,1404.2 L1944.1,1404.2 L1947.1,1404.4 L1950.0,1404.5 L1953.0,1404.5 L1956.1,1404.6 L1959.1,1404.8 L1962.1,1404.7 L1965.2,1404.7 L1968.2,1404.7 L1971.2,1404.8 L1974.2,1404.9 L1977.3,1404.8 L1980.3,1404.7 L1983.3,1404.7 L1986.4,1404.9 L1989.4,1404.9 L1992.4,1404.9 L1995.5,1404.9 L1998.5,1404.9 L2001.5,1405.1 L2004.5,1405.1 L2007.6,1404.9 L2010.6,1405.1 L2013.6,1405.1 L2016.7,1405.1 L2019.7,1405.3 L2022.7,1405.3 L2025.8,1405.3 L2028.8,1405.2 L2031.8,1405.4 L2034.8,1405.4 L2037.9,1405.4 L2040.9,1405.3 L2043.9,1405.6 L2047.0,1405.1 L2050.0,1405.4 L2053.0,1405.3 L2056.0,1405.4 L2059.0,1405.4 L2062.0,1405.5 L2064.9,1405.5 L2067.9,1405.6 L2070.9,1405.8 L2073.9,1405.7 L2076.9,1405.7 L2079.9,1405.7 L2082.9,1405.7 L2085.9,1405.8 L2088.9,1405.6 L2091.8,1406.0 L2094.8,1405.8 L2097.8,1405.9 L2100.8,1405.5 L2103.8,1405.8 L2106.8,1405.8 L2109.8,1406.0 L2112.8,1406.0 L2115.7,1405.9 L2118.7,1406.0 L2121.7,1405.9 L2124.7,1405.8 L2127.7,1406.1 L2130.7,1405.8 L2133.7,1405.9 L2136.7,1405.9 L2139.7,1405.9 L2142.6,1406.0 L2145.6,1406.2 L2148.6,1406.0 L2151.6,1406.2 L2154.6,1405.9 L2157.6,1406.0 L2160.6,1406.0 L2163.6,1406.2 L2166.6,1406.3 L2169.5,1405.9 L2172.5,1406.2 L2175.5,1406.4 L2178.5,1406.2 L2181.5,1406.5 L2184.5,1406.4 L2187.5,1406.3 L2190.5,1406.1 L2193.4,1406.2 L2196.4,1406.5 L2199.4,1406.3 L2202.4,1406.2 L2205.4,1406.3 L2208.4,1406.6 L2211.4,1406.4 L2214.4,1406.3 L2217.4,1406.4 L2220.3,1406.6 L2223.3,1406.6 L2226.3,1406.7 L2229.3,1406.6 L2232.3,1406.6 L2235.3,1406.5 L2238.3,1406.5 L2241.3,1406.4 L2244.3,1406.6 L2247.2,1406.7 L2250.2,1406.7 L2253.2,1406.6 L2256.2,1406.8 L2259.2,1406.8 L2262.2,1406.9 L2265.2,1406.5 L2268.2,1406.5 L2271.1,1406.6 L2274.1,1406.9 L2277.1,1406.9 L2280.1,1406.9 L2283.1,1406.8 L2286.1,1406.9 L2289.1,1406.8 L2292.1,1406.8 L2295.1,1406.8 L2298.0,1407.3 L2301.0,1406.9 L2304.0,1407.0 L2307.0,1407.0 L2310.0,1407.0" stroke="#000" stroke-width="3.0"/>
<path d="M604.0,1407.5 L615.0,1407.5 L616.5,1407.2 L618.0,1406.9 L619.4,1406.7 L620.9,1406.7 L622.4,1405.6 L623.9,1405.7 L625.3,1405.4 L626.8,1404.5 L628.3,1404.0 L629.8,1403.5 L631.3,1402.9 L632.8,1402.0 L634.3,1401.9 L635.8,1401.0 L637.4,1397.6 L639.0,1397.0 L640.7,1394.1 L642.3,1391.8 L643.6,1389.5 L644.9,1386.8 L646.2,1384.2 L647.5,1381.3 L648.8,1379.0 L650.2,1375.7 L651.5,1374.1 L652.8,1370.6 L654.1,1368.4 L655.4,1365.9 L656.7,1364.6 L658.0,1363.1 L659.3,1362.1 L660.2,1357.4 L661.0,1355.7 L661.9,1352.7 L663.7,1351.7 L665.4,1351.6 L667.1,1349.9 L668.4,1347.5 L669.8,1344.1 L671.1,1342.4 L672.4,1341.2 L673.7,1340.8 L675.0,1341.7 L676.3,1338.6 L677.6,1335.7 L678.9,1333.2 L680.2,1330.4 L681.5,1328.4 L682.8,1326.7 L684.6,1320.4 L686.3,1322.6 L688.0,1317.7 L688.8,1319.6 L689.5,1316.9 L690.3,1321.6 L691.0,1319.8 L691.8,1316.5 L692.5,1313.5 L693.3,1315.6 L694.0,1316.3 L694.8,1314.5 L695.5,1316.8 L696.3,1318.0 L697.0,1316.0 L697.8,1315.2 L698.5,1317.0 L699.2,1315.2 L700.0,1317.1 L700.7,1314.8 L701.5,1318.2 L702.2,1314.5 L703.0,1312.9 L703.7,1314.9 L704.5,1313.1 L705.2,1312.2 L706.0,1313.3 L706.7,1314.5 L707.5,1308.8 L708.2,1312.3 L709.0,1311.9 L709.7,1311.4 L710.4,1312.8 L711.2,1308.5 L711.9,1311.8 L712.7,1309.8 L713.4,1310.0 L714.2,1309.2 L714.9,1308.7 L715.7,1308.1 L716.4,1309.6 L717.2,1312.6 L717.9,1310.5 L718.7,1309.9 L719.4,1308.9 L720.1,1306.9 L720.7,1308.4 L721.4,1310.7 L722.0,1304.1 L722.7,1307.5 L723.3,1306.9 L723.8,1307.4 L724.4,1309.6 L724.9,1312.0 L725.4,1314.9 L725.9,1313.8 L726.2,1313.6 L726.5,1309.5 L726.8,1308.9 L727.1,1306.1 L727.4,1304.7 L727.7,1301.7 L728.0,1302.2 L728.3,1302.0 L728.6,1297.6 L728.7,1299.8 L728.8,1301.9 L728.9,1302.3 L729.1,1305.5 L729.2,1305.7 L729.3,1304.6 L729.5,1306.4 L729.6,1311.1 L729.7,1312.4 L729.9,1314.8 L730.0,1314.7 L730.1,1316.1 L730.3,1314.4 L730.4,1320.5 L730.9,1315.8 L731.5,1318.0 L732.1,1312.8 L732.6,1312.3 L733.2,1312.5 L733.8,1310.4 L734.4,1308.8 L735.1,1310.8 L735.7,1309.5 L736.4,1308.2 L737.0,1306.0 L737.7,1304.7 L738.4,1305.5 L739.0,1306.1 L739.7,1307.6 L740.3,1309.3 L740.7,1306.5 L741.2,1303.8 L741.6,1302.6 L742.1,1304.5 L742.5,1301.0 L742.9,1299.5 L743.6,1299.0 L744.2,1299.0 L744.9,1297.5 L745.5,1298.7 L746.2,1297.4 L746.8,1291.7 L747.5,1294.8 L748.2,1300.2 L748.8,1292.3 L749.5,1294.6 L750.1,1296.1 L750.8,1294.0 L751.4,1295.5 L752.1,1289.9 L752.7,1289.1 L753.4,1290.2 L754.0,1288.3 L754.7,1287.4 L755.1,1291.4 L755.6,1292.5 L756.1,1293.7 L756.5,1294.8 L756.6,1294.2 L756.7,1291.9 L756.8,1289.3 L756.9,1289.9 L757.0,1288.3 L757.1,1286.1 L757.2,1286.0 L757.4,1280.1 L757.5,1280.8 L757.6,1278.7 L758.3,1281.2 L759.0,1277.7 L759.8,1280.0 L760.5,1277.1 L761.2,1271.2 L762.0,1268.1 L762.8,1270.8 L763.6,1268.0 L764.4,1267.2 L765.1,1264.8 L765.9,1266.7 L766.7,1264.4 L767.5,1263.6 L768.3,1262.1 L769.1,1258.5 L769.8,1256.3 L770.6,1262.6 L771.4,1263.4 L772.2,1265.7 L772.9,1267.3 L773.6,1263.2 L774.2,1265.5 L774.9,1260.7 L775.6,1259.9 L776.3,1259.2 L777.1,1259.1 L777.8,1253.4 L778.6,1258.3 L779.3,1255.2 L780.1,1251.9 L780.8,1254.5 L781.5,1252.6 L782.1,1253.1 L782.8,1250.0 L783.4,1247.4 L784.1,1240.9 L784.7,1245.8 L785.5,1245.0 L786.3,1241.8 L787.1,1239.4 L787.9,1239.7 L788.7,1233.7 L789.3,1235.1 L790.0,1231.8 L790.6,1227.6 L791.3,1229.1 L791.9,1227.3 L792.6,1227.6 L793.4,1226.0 L794.1,1218.8 L794.9,1216.9 L795.7,1220.4 L796.5,1219.2 L797.3,1215.7 L798.1,1212.9 L798.8,1214.3 L799.6,1210.5 L800.4,1210.5 L801.2,1212.7 L802.0,1210.2 L802.8,1206.7 L803.6,1204.8 L804.3,1206.1 L804.7,1209.0 L805.0,1202.0 L805.3,1205.7 L805.6,1198.0 L806.0,1197.8 L806.3,1198.3 L806.6,1193.2 L806.9,1193.5 L807.7,1188.6 L808.5,1191.8 L809.3,1191.5 L810.1,1185.5 L810.9,1185.9 L811.7,1183.5 L812.4,1178.3 L813.2,1189.0 L814.0,1182.9 L814.8,1181.7 L815.2,1179.5 L815.7,1177.2 L816.1,1180.8 L816.5,1169.0 L817.0,1170.8 L817.4,1168.8 L817.8,1167.6 L818.3,1168.0 L818.7,1163.4 L819.4,1159.7 L820.0,1158.4 L820.7,1160.5 L821.3,1159.9 L822.0,1157.9 L822.6,1156.9 L823.4,1152.4 L824.2,1155.5 L825.0,1154.3 L825.8,1151.7 L826.5,1150.3 L826.9,1152.0 L827.2,1146.7 L827.5,1146.0 L827.9,1142.7 L828.2,1147.6 L828.5,1141.6 L828.8,1138.9 L829.2,1138.1 L829.7,1136.3 L830.1,1135.4 L830.6,1129.5 L831.1,1129.2 L831.6,1131.5 L832.1,1131.3 L832.6,1124.6 L833.1,1125.6 L833.7,1122.3 L834.4,1116.5 L835.0,1119.5 L835.7,1115.9 L836.3,1118.8 L837.0,1114.6 L837.4,1113.2 L837.7,1108.1 L838.1,1110.3 L838.4,1103.7 L838.8,1107.2 L839.1,1108.3 L839.5,1100.4 L839.9,1103.7 L840.2,1103.4 L840.6,1097.9 L840.9,1098.6 L841.4,1095.3 L841.9,1092.2 L842.4,1087.0 L842.9,1087.6 L843.4,1084.9 L843.9,1092.6 L844.4,1085.9 L844.8,1083.3 L845.3,1078.6 L845.7,1084.3 L846.1,1075.6 L846.6,1080.2 L847.0,1077.5 L847.5,1073.3 L847.9,1069.8 L848.3,1069.6 L848.8,1065.7 L849.2,1067.8 L849.6,1068.5 L850.1,1064.9 L850.5,1063.5 L850.9,1057.6 L851.4,1058.2 L851.8,1053.3 L852.2,1052.9 L852.7,1054.0 L853.1,1056.5 L853.6,1048.9 L854.0,1047.1 L854.8,1040.9 L855.6,1044.3 L856.3,1040.1 L857.1,1037.4 L857.9,1036.7 L858.4,1038.0 L859.0,1035.1 L859.5,1036.1 L860.0,1032.4 L860.5,1031.4 L860.8,1036.6 L861.1,1036.7 L861.4,1038.2 L861.7,1041.6 L862.0,1040.3 L862.3,1039.1 L862.6,1041.8 L862.7,1037.6 L862.8,1040.4 L862.8,1036.8 L862.9,1037.3 L863.0,1036.3 L863.1,1030.5 L863.1,1031.1 L863.2,1032.0 L863.3,1027.4 L863.4,1027.6 L863.4,1023.1 L863.5,1019.5 L863.6,1019.5 L863.7,1015.1 L864.2,1018.3 L864.8,1013.6 L865.4,1016.3 L865.9,1008.4 L866.5,1009.9 L867.1,1008.4 L867.6,1005.8 L868.1,1005.6 L868.6,1001.3 L869.1,999.0 L869.7,997.6 L870.0,996.8 L870.3,994.4 L870.6,995.1 L871.0,992.1 L871.4,989.3 L871.8,987.4 L872.3,982.9 L872.7,984.8 L873.2,985.0 L873.6,979.0 L874.0,979.9 L874.5,980.4 L874.9,975.8 L875.5,975.7 L876.2,972.5 L876.9,977.7 L877.5,973.4 L878.2,971.2 L878.8,965.4 L879.5,966.4 L880.1,962.7 L880.8,962.2 L881.4,958.2 L882.1,958.2 L882.7,954.8 L883.1,955.2 L883.4,957.1 L883.7,947.9 L884.0,946.4 L884.4,949.2 L884.7,948.2 L885.0,943.8 L885.3,944.0 L885.8,942.3 L886.2,940.9 L886.7,941.2 L887.1,934.5 L887.5,935.9 L888.0,933.1 L888.4,929.2 L888.8,930.3 L889.3,925.1 L889.9,922.0 L890.6,926.5 L891.2,919.4 L891.9,924.5 L892.5,921.2 L893.2,916.0 L893.8,913.0 L894.5,908.0 L895.1,911.5 L895.8,905.9 L896.5,912.0 L897.1,903.6 L897.6,905.0 L898.1,896.5 L898.6,900.7 L899.1,903.1 L899.6,897.2 L900.0,894.6 L900.5,893.8 L901.0,894.0 L901.3,893.8 L901.6,889.3 L901.9,883.1 L902.2,887.2 L902.5,887.0 L902.8,888.6 L903.1,881.6 L903.3,879.9 L903.6,876.8 L904.1,877.8 L904.5,878.5 L904.9,870.0 L905.4,870.9 L905.8,866.4 L906.3,866.1 L907.0,866.0 L907.8,866.9 L908.6,862.8 L909.4,863.4 L910.2,865.7 L911.0,863.2 L911.7,862.4 L912.5,860.4 L913.3,857.6 L914.1,857.5 L914.9,856.5 L915.7,853.6 L916.4,854.6 L917.2,850.5 L918.0,850.5 L918.8,847.7 L919.6,848.1 L920.4,843.4 L921.1,842.3 L921.9,840.4 L922.7,844.1 L923.5,841.0 L924.3,839.0 L925.1,838.7 L925.9,834.5 L926.2,834.5 L926.5,831.4 L926.8,826.4 L927.2,828.7 L927.5,825.6 L927.8,829.6 L928.1,822.6 L928.5,821.7 L929.2,824.7 L930.0,821.7 L930.8,818.0 L931.6,821.3 L932.4,818.9 L933.2,823.3 L934.0,815.5 L934.7,815.2 L935.5,809.3 L936.3,813.8 L937.0,818.0 L937.6,811.6 L938.3,808.0 L938.9,809.6 L939.6,806.6 L940.2,805.8 L941.0,811.2 L941.7,809.3 L942.5,807.5 L943.2,806.9 L944.0,799.8 L944.7,796.5 L945.4,801.9 L946.2,800.0 L947.0,797.6 L947.8,795.6 L948.6,796.1 L949.4,793.7 L950.2,793.1 L950.9,793.4 L951.7,791.5 L952.5,790.8 L953.3,793.9 L953.7,789.2 L954.0,793.0 L954.4,788.0 L954.8,784.9 L955.2,785.8 L955.5,780.2 L955.9,779.4 L956.7,779.9 L957.5,781.8 L958.3,784.5 L959.0,789.0 L959.8,785.8 L960.6,781.0 L961.4,780.3 L962.2,776.6 L963.0,781.5 L963.7,779.9 L964.5,778.9 L965.3,778.8 L966.1,778.9 L966.9,778.4 L967.7,778.2 L968.4,777.1 L969.2,773.6 L970.0,777.8 L970.8,778.3 L971.6,771.7 L971.8,775.6 L972.1,775.1 L972.4,780.8 L972.6,780.6 L972.9,786.5 L973.1,787.4 L973.4,785.2 L973.7,786.9 L973.9,788.3 L974.2,792.4 L975.0,787.6 L975.8,789.4 L976.5,783.3 L977.3,787.8 L978.1,784.4 L978.9,779.7 L979.7,779.6 L980.5,780.8 L981.3,780.1 L982.0,773.5 L982.8,779.4 L983.5,783.2 L984.3,779.0 L985.0,777.3 L985.8,784.2 L986.5,782.3 L987.3,782.6 L988.0,784.2 L988.8,780.0 L989.5,781.8 L990.2,781.0 L991.0,781.4 L991.7,783.8 L992.5,783.1 L993.2,789.1 L994.0,786.5 L994.7,787.5 L995.5,781.6 L996.2,785.3 L997.0,785.7 L997.7,786.5 L998.5,788.1 L999.2,785.8 L1000.0,786.2 L1000.7,791.6 L1001.4,795.5 L1002.2,795.8 L1002.9,791.0 L1003.7,790.3 L1004.5,793.5 L1005.3,795.0 L1006.1,798.9 L1006.9,795.0 L1007.2,795.3 L1007.6,801.4 L1007.9,798.8 L1008.3,800.2 L1008.6,805.4 L1009.0,805.3 L1009.3,805.0 L1009.6,808.7 L1010.0,810.3 L1010.7,808.9 L1011.4,806.1 L1012.0,807.8 L1012.7,803.9 L1013.4,802.2 L1014.2,806.6 L1015.0,802.5 L1015.7,807.4 L1016.5,807.8 L1017.3,806.6 L1018.1,808.8 L1018.8,805.7 L1019.6,811.1 L1020.3,809.1 L1021.0,810.6 L1021.8,814.5 L1022.5,813.7 L1023.3,816.4 L1024.0,818.2 L1024.8,820.9 L1025.5,820.4 L1026.3,823.1 L1027.0,819.9 L1027.8,822.2 L1028.5,825.5 L1029.3,827.9 L1030.0,827.3 L1030.8,826.0 L1031.5,825.8 L1032.2,827.2 L1033.0,832.6 L1033.8,829.8 L1034.6,833.2 L1035.3,836.9 L1036.1,838.0 L1036.9,837.3 L1037.7,844.3 L1038.4,840.8 L1039.2,842.0 L1039.9,844.2 L1040.6,842.4 L1041.4,845.8 L1042.1,844.8 L1042.8,844.4 L1043.4,845.8 L1044.1,850.5 L1044.8,851.4 L1045.4,852.3 L1046.1,853.4 L1046.8,854.7 L1047.6,858.3 L1048.3,860.2 L1049.0,858.0 L1049.8,860.4 L1050.5,856.4 L1051.3,860.1 L1052.1,861.9 L1052.9,862.9 L1053.6,868.4 L1054.4,863.2 L1055.2,870.7 L1056.0,872.6 L1056.7,877.4 L1057.4,872.0 L1058.2,875.4 L1058.9,879.0 L1059.7,878.8 L1060.4,876.1 L1061.1,878.6 L1061.7,878.4 L1062.4,883.1 L1063.0,886.3 L1063.7,889.7 L1064.4,889.1 L1064.9,892.0 L1065.5,894.1 L1066.0,891.2 L1066.6,896.5 L1067.2,898.9 L1067.7,897.8 L1068.3,898.3 L1068.8,898.6 L1069.4,896.9 L1070.0,896.5 L1070.5,888.9 L1071.1,890.6 L1071.6,894.7 L1072.2,890.3 L1072.5,889.5 L1072.8,890.9 L1073.2,892.7 L1073.5,892.8 L1073.8,895.8 L1074.2,898.5 L1074.5,897.4 L1074.8,901.9 L1075.1,904.5 L1075.5,902.5 L1075.8,906.2 L1076.1,906.4 L1077.0,910.9 L1077.9,913.1 L1078.7,913.4 L1079.5,916.0 L1080.3,918.7 L1081.1,920.6 L1081.9,917.3 L1082.6,921.6 L1083.4,919.8 L1084.1,919.8 L1084.9,927.9 L1085.6,928.4 L1086.4,930.8 L1087.1,930.7 L1087.9,929.1 L1088.5,932.1 L1089.2,931.9 L1089.8,938.1 L1090.5,930.8 L1091.1,939.1 L1091.8,938.4 L1092.4,943.1 L1093.1,945.1 L1093.8,943.0 L1094.6,949.3 L1095.3,950.1 L1096.1,945.2 L1096.8,954.9 L1097.6,949.1 L1098.3,951.2 L1099.1,956.9 L1099.8,954.0 L1100.6,957.2 L1101.3,957.9 L1102.1,957.4 L1102.8,962.8 L1103.5,963.0 L1104.3,962.9 L1105.0,966.8 L1105.8,965.8 L1106.5,967.7 L1107.3,968.3 L1108.0,968.2 L1108.8,971.4 L1109.5,971.7 L1110.3,975.4 L1111.0,976.5 L1111.8,976.8 L1112.5,981.3 L1113.3,981.3 L1114.0,984.3 L1114.7,983.1 L1115.5,984.6 L1116.2,985.5 L1117.0,988.6 L1117.7,989.4 L1118.5,991.2 L1119.2,994.7 L1120.0,995.8 L1120.7,995.3 L1121.5,998.8 L1122.2,999.7 L1123.0,1001.0 L1123.7,1002.6 L1124.5,1004.6 L1125.2,1007.0 L1125.9,1009.1 L1126.7,1009.0 L1127.4,1009.5 L1128.2,1011.6 L1128.9,1012.4 L1129.7,1013.4 L1130.4,1013.0 L1131.2,1015.8 L1131.9,1014.3 L1132.7,1019.7 L1133.4,1020.6 L1134.2,1021.7 L1134.9,1020.2 L1135.7,1023.2 L1136.4,1025.9 L1137.1,1024.7 L1137.9,1024.9 L1138.6,1027.4 L1139.4,1025.5 L1140.1,1032.1 L1140.9,1032.8 L1141.6,1031.4 L1142.4,1036.2 L1143.1,1037.9 L1143.9,1039.2 L1144.7,1040.8 L1145.5,1043.8 L1146.3,1043.2 L1147.0,1046.0 L1147.8,1045.2 L1148.5,1045.6 L1149.3,1047.3 L1150.0,1047.2 L1150.8,1050.7 L1151.5,1050.0 L1152.3,1052.7 L1153.0,1054.3 L1153.8,1057.9 L1154.5,1059.6 L1155.3,1057.4 L1156.0,1059.5 L1156.7,1061.0 L1157.5,1062.0 L1158.2,1066.7 L1159.0,1066.9 L1159.7,1065.7 L1160.5,1065.0 L1161.2,1067.3 L1162.0,1069.5 L1162.7,1072.3 L1163.5,1069.6 L1164.2,1075.1 L1165.0,1071.6 L1165.7,1075.6 L1166.5,1074.3 L1167.2,1076.6 L1167.9,1075.7 L1168.7,1080.9 L1169.4,1081.4 L1170.2,1081.2 L1170.9,1081.0 L1171.7,1085.7 L1172.4,1087.3 L1173.2,1087.2 L1173.8,1091.4 L1174.5,1092.1 L1175.1,1092.2 L1175.8,1094.5 L1176.4,1093.6 L1177.1,1100.1 L1177.9,1102.4 L1178.7,1102.1 L1179.4,1102.0 L1180.2,1103.8 L1181.0,1106.8 L1181.8,1106.8 L1182.5,1109.8 L1183.2,1109.1 L1184.0,1113.0 L1184.7,1114.6 L1185.5,1112.9 L1186.2,1114.1 L1187.0,1111.3 L1187.7,1117.3 L1188.5,1118.9 L1189.2,1117.9 L1190.0,1122.3 L1190.7,1120.6 L1191.5,1121.5 L1192.2,1125.7 L1193.0,1126.7 L1193.8,1124.2 L1194.6,1128.0 L1195.4,1129.2 L1196.2,1131.6 L1197.0,1133.5 L1197.7,1133.8 L1198.5,1136.1 L1199.3,1138.2 L1200.1,1137.9 L1200.9,1137.9 L1201.7,1139.2 L1202.4,1142.3 L1203.2,1143.7 L1204.0,1143.5 L1204.8,1145.4 L1205.6,1145.4 L1206.4,1147.0 L1207.1,1149.7 L1207.9,1149.5 L1208.6,1151.4 L1209.4,1152.4 L1210.1,1154.7 L1210.9,1154.8 L1211.6,1155.6 L1212.4,1156.5 L1213.1,1157.1 L1213.9,1159.8 L1214.6,1161.9 L1215.4,1158.8 L1216.1,1162.6 L1216.8,1161.3 L1217.6,1162.8 L1218.3,1163.9 L1219.1,1164.7 L1219.8,1165.7 L1220.6,1166.4 L1221.3,1169.9 L1222.1,1167.3 L1222.8,1169.3 L1223.6,1170.1 L1224.3,1172.3 L1225.1,1171.8 L1225.8,1174.3 L1226.6,1175.6 L1227.3,1178.7 L1228.0,1178.2 L1228.8,1179.1 L1229.5,1180.8 L1230.3,1184.2 L1231.0,1183.5 L1231.8,1184.4 L1232.5,1186.0 L1233.3,1187.9 L1234.0,1190.0 L1234.8,1188.9 L1235.5,1190.3 L1236.3,1191.8 L1237.0,1191.8 L1237.8,1194.4 L1238.5,1194.4 L1239.2,1196.1 L1240.0,1197.1 L1240.7,1199.1 L1241.5,1200.3 L1242.2,1198.4 L1243.0,1198.8 L1243.7,1200.3 L1244.5,1202.8 L1245.2,1204.0 L1246.0,1204.6 L1246.7,1205.6 L1247.5,1208.5 L1248.2,1208.9 L1249.0,1209.2 L1249.7,1210.5 L1250.5,1209.0 L1251.3,1212.7 L1252.1,1214.4 L1252.9,1213.1 L1253.7,1213.3 L1254.4,1215.9 L1255.2,1214.8 L1256.0,1216.2 L1256.8,1217.4 L1257.6,1217.6 L1258.4,1219.5 L1259.2,1217.5 L1260.1,1217.8 L1260.9,1222.2 L1261.7,1222.9 L1262.5,1223.4 L1263.3,1223.7 L1264.1,1225.0 L1265.0,1226.4 L1265.8,1225.5 L1266.6,1227.9 L1267.4,1227.7 L1268.2,1231.8 L1269.0,1230.8 L1269.9,1231.5 L1270.7,1233.1 L1271.5,1233.8 L1272.3,1234.5 L1273.1,1233.5 L1273.9,1235.1 L1274.8,1236.6 L1275.6,1236.7 L1276.4,1237.3 L1277.2,1237.3 L1278.0,1238.8 L1278.8,1240.9 L1279.7,1238.8 L1280.5,1239.3 L1281.3,1240.2 L1282.1,1240.6 L1282.9,1244.0 L1283.7,1245.8 L1284.6,1245.0 L1285.4,1245.3 L1286.2,1247.5 L1287.0,1247.9 L1287.8,1245.0 L1288.6,1248.1 L1289.5,1251.6 L1290.3,1249.2 L1291.1,1249.6 L1291.9,1250.4 L1292.7,1253.6 L1293.5,1252.1 L1294.4,1253.8 L1295.2,1255.4 L1296.0,1254.9 L1296.8,1255.5 L1297.6,1255.0 L1298.4,1255.4 L1299.3,1258.6 L1300.1,1257.3 L1300.9,1259.3 L1301.7,1260.1 L1302.5,1260.9 L1303.3,1260.6 L1304.2,1260.8 L1305.0,1262.0 L1305.8,1263.4 L1306.6,1263.6 L1307.4,1264.2 L1308.2,1264.5 L1309.1,1265.6 L1310.5,1265.5 L1312.0,1267.4 L1313.4,1270.5 L1314.9,1271.3 L1316.3,1272.9 L1317.8,1272.8 L1319.2,1274.9 L1320.7,1276.6 L1322.1,1278.3 L1323.6,1280.3 L1325.0,1280.6 L1326.5,1282.3 L1327.9,1283.1 L1329.4,1284.7 L1330.8,1286.4 L1332.3,1287.7 L1333.7,1289.4 L1335.2,1289.5 L1336.6,1291.7 L1338.1,1292.7 L1339.5,1293.1 L1341.0,1295.5 L1342.4,1295.5 L1343.9,1296.8 L1345.4,1298.5 L1346.8,1300.2 L1348.3,1300.4 L1349.7,1302.6 L1351.2,1303.1 L1352.6,1303.6 L1354.1,1305.6 L1355.5,1306.4 L1357.0,1307.1 L1358.4,1308.6 L1359.9,1310.6 L1361.3,1311.1 L1362.8,1311.7 L1364.2,1313.2 L1365.7,1312.8 L1367.1,1314.8 L1368.6,1316.1 L1370.0,1315.5 L1371.5,1316.4 L1372.9,1317.4 L1374.4,1318.7 L1375.8,1319.1 L1377.3,1320.3 L1378.7,1320.4 L1380.2,1321.9 L1381.6,1322.8 L1383.1,1323.4 L1384.6,1323.6 L1386.0,1325.1 L1387.5,1324.7 L1388.9,1325.7 L1390.4,1326.8 L1391.8,1328.3 L1393.3,1328.0 L1394.7,1329.3 L1396.2,1330.7 L1397.6,1331.6 L1399.1,1332.2 L1400.5,1331.6 L1402.0,1332.8 L1403.4,1333.6 L1404.9,1334.5 L1406.3,1335.1 L1407.8,1335.4 L1409.2,1336.3 L1410.7,1336.2 L1412.1,1338.1 L1413.6,1338.5 L1415.0,1338.7 L1416.5,1340.6 L1417.9,1340.2 L1419.4,1340.4 L1420.8,1341.7 L1422.3,1342.2 L1423.7,1342.9 L1425.2,1343.0 L1426.7,1344.0 L1428.1,1344.4 L1429.6,1345.8 L1431.0,1346.0 L1432.5,1346.1 L1433.9,1346.7 L1435.4,1348.3 L1436.8,1349.3 L1438.3,1348.6 L1439.7,1350.4 L1441.5,1351.2 L1443.2,1352.4 L1444.9,1353.0 L1446.5,1352.3 L1448.1,1352.2 L1449.6,1351.7 L1451.2,1351.6 L1452.8,1351.5 L1454.2,1352.1 L1455.7,1353.8 L1457.1,1352.7 L1458.6,1353.5 L1460.0,1354.4 L1461.5,1355.3 L1462.9,1354.9 L1464.4,1355.3 L1465.9,1356.8 L1467.3,1357.4 L1468.8,1357.9 L1470.2,1358.4 L1471.7,1357.5 L1473.1,1359.5 L1474.6,1359.3 L1476.0,1361.0 L1477.5,1360.0 L1478.9,1359.7 L1480.4,1361.0 L1481.8,1361.6 L1483.3,1362.1 L1484.7,1362.5 L1486.2,1362.5 L1487.6,1362.3 L1489.1,1363.6 L1490.5,1363.9 L1492.0,1364.3 L1493.6,1365.0 L1495.1,1365.3 L1496.7,1364.7 L1498.3,1365.8 L1499.8,1366.3 L1501.4,1367.1 L1503.0,1368.2 L1504.5,1368.1 L1506.1,1368.7 L1507.7,1368.5 L1509.2,1369.7 L1510.6,1369.4 L1512.1,1370.1 L1513.6,1369.8 L1515.1,1370.5 L1516.6,1371.1 L1518.1,1371.1 L1519.6,1371.5 L1521.1,1371.6 L1522.6,1372.0 L1524.1,1372.7 L1525.6,1372.9 L1527.1,1373.4 L1528.6,1373.5 L1530.1,1373.7 L1531.7,1374.2 L1533.3,1374.6 L1534.8,1374.1 L1536.4,1374.1 L1538.0,1374.5 L1539.5,1374.9 L1541.1,1374.8 L1542.7,1375.2 L1544.2,1375.0 L1545.8,1375.0 L1547.4,1375.0 L1549.0,1376.3 L1550.5,1376.4 L1552.1,1376.5 L1553.7,1377.2 L1555.2,1377.0 L1556.8,1378.1 L1558.4,1378.4 L1559.9,1378.7 L1561.4,1378.4 L1562.9,1379.2 L1564.4,1379.1 L1565.9,1379.5 L1567.4,1378.6 L1568.9,1379.6 L1570.4,1379.8 L1571.8,1379.4 L1573.3,1379.9 L1574.7,1379.7 L1576.2,1380.3 L1577.6,1379.8 L1579.1,1380.0 L1580.5,1379.7 L1582.0,1380.8 L1583.4,1380.0 L1584.9,1380.0 L1586.3,1380.2 L1587.8,1380.7 L1589.3,1380.8 L1590.7,1381.1 L1592.2,1381.6 L1593.6,1381.6 L1595.1,1380.9 L1596.5,1381.6 L1598.0,1381.6 L1599.4,1382.0 L1600.9,1381.8 L1602.3,1382.3 L1603.8,1382.0 L1605.2,1382.7 L1606.7,1381.8 L1608.1,1382.6 L1609.6,1382.5 L1611.0,1382.2 L1612.5,1382.0 L1613.9,1382.4 L1615.4,1382.8 L1616.8,1383.3 L1618.3,1382.3 L1619.7,1382.8 L1621.2,1382.6 L1622.6,1383.3 L1624.1,1383.3 L1625.5,1383.3 L1627.0,1383.7 L1628.5,1383.7 L1629.9,1384.2 L1631.4,1383.7 L1632.8,1383.7 L1634.3,1384.0 L1635.7,1384.1 L1637.2,1384.8 L1638.6,1384.4 L1640.1,1384.5 L1641.5,1384.6 L1643.0,1384.8 L1644.4,1384.5 L1645.9,1385.4 L1647.3,1385.7 L1648.8,1385.8 L1650.2,1385.6 L1651.7,1386.3 L1653.1,1386.3 L1654.6,1386.3 L1656.0,1386.5 L1657.5,1386.4 L1658.9,1386.7 L1660.4,1386.8 L1661.8,1386.5 L1663.3,1386.7 L1664.7,1386.8 L1666.2,1387.3 L1667.6,1386.5 L1669.1,1387.6 L1670.6,1387.6 L1672.0,1387.7 L1673.5,1388.1 L1674.9,1387.7 L1676.4,1388.2 L1677.8,1388.0 L1679.3,1388.1 L1680.7,1388.9 L1682.2,1388.4 L1683.6,1389.0 L1685.1,1388.7 L1686.5,1388.7 L1688.0,1388.8 L1689.5,1388.4 L1691.0,1388.9 L1692.5,1389.1 L1694.0,1389.6 L1695.5,1389.4 L1697.0,1389.5 L1698.5,1389.0 L1700.0,1389.2 L1701.5,1389.5 L1703.0,1389.6 L1704.5,1389.5 L1706.0,1389.9 L1707.5,1389.8 L1709.0,1390.0 L1710.5,1390.0 L1712.0,1390.2 L1713.5,1390.4 L1715.0,1390.5 L1716.5,1390.3 L1718.0,1390.6 L1719.5,1390.9 L1721.0,1390.7 L1722.5,1390.9 L1724.0,1391.0 L1725.5,1391.0 L1727.0,1391.3 L1728.5,1391.4 L1730.0,1391.3 L1731.5,1391.5 L1733.0,1391.8 L1734.5,1391.7 L1736.0,1391.7 L1737.5,1391.9 L1739.0,1392.0 L1740.5,1391.9 L1742.0,1392.0 L1743.5,1392.4 L1745.0,1392.3 L1746.5,1392.4 L1748.0,1392.4 L1749.5,1392.8 L1751.0,1392.6 L1752.5,1392.8 L1754.0,1392.9 L1755.5,1393.0 L1757.0,1393.0 L1758.5,1393.1 L1760.0,1393.3 L1763.1,1393.5 L1766.2,1393.5 L1769.2,1393.9 L1772.3,1394.0 L1775.4,1394.3 L1778.5,1394.5 L1781.5,1394.7 L1784.6,1394.9 L1787.7,1395.2 L1790.8,1395.4 L1793.8,1395.4 L1796.9,1395.5 L1800.0,1395.9 L1803.1,1396.1 L1806.2,1396.0 L1809.2,1396.2 L1812.3,1396.6 L1815.4,1396.4 L1818.5,1396.5 L1821.5,1396.7 L1824.6,1396.8 L1827.7,1396.8 L1830.8,1396.9 L1833.8,1396.8 L1836.9,1397.1 L1840.0,1397.2 L1843.0,1397.1 L1845.9,1397.4 L1848.9,1397.6 L1851.9,1397.1 L1854.9,1397.5 L1857.8,1397.7 L1860.8,1397.7 L1863.8,1397.6 L1866.8,1397.7 L1869.7,1397.8 L1872.7,1398.0 L1875.7,1397.8 L1878.6,1397.8 L1881.6,1398.1 L1884.6,1398.0 L1887.6,1398.4 L1890.5,1398.1 L1893.5,1398.4 L1896.5,1398.4 L1899.5,1398.3 L1902.4,1398.4 L1905.4,1398.3 L1908.4,1398.7 L1911.4,1398.6 L1914.3,1398.6 L1917.3,1398.6 L1920.3,1399.0 L1923.2,1399.0 L1926.2,1398.9 L1929.2,1399.0 L1932.2,1399.2 L1935.1,1399.3 L1938.1,1399.3 L1941.1,1399.1 L1944.1,1399.6 L1947.0,1399.4 L1950.0,1399.6 L1952.9,1399.4 L1955.9,1399.7 L1958.8,1399.9 L1961.8,1399.9 L1964.7,1399.7 L1967.6,1399.9 L1970.6,1400.2 L1973.5,1400.0 L1976.5,1400.3 L1979.4,1400.2 L1982.4,1400.2 L1985.3,1400.5 L1988.2,1400.6 L1991.2,1400.6 L1994.1,1400.7 L1997.1,1400.8 L2000.0,1400.6 L2003.0,1400.8 L2006.0,1401.1 L2008.9,1401.0 L2011.9,1401.1 L2014.9,1400.9 L2017.9,1401.0 L2020.9,1400.9 L2023.8,1401.1 L2026.8,1401.1 L2029.8,1401.1 L2032.8,1401.1 L2035.7,1401.2 L2038.7,1401.2 L2041.7,1401.3 L2044.7,1401.4 L2047.7,1401.1 L2050.6,1401.4 L2053.6,1401.5 L2056.6,1401.3 L2059.6,1401.4 L2062.6,1401.8 L2065.5,1401.4 L2068.5,1401.7 L2071.5,1401.6 L2074.5,1401.4 L2077.4,1401.6 L2080.4,1401.4 L2083.4,1401.7 L2086.4,1401.8 L2089.4,1401.8 L2092.3,1401.8 L2095.3,1401.8 L2098.3,1401.9 L2101.3,1402.0 L2104.3,1402.0 L2107.2,1402.1 L2110.2,1402.0 L2113.2,1402.1 L2116.2,1401.9 L2119.1,1402.3 L2122.1,1402.0 L2125.1,1402.0 L2128.1,1402.1 L2131.1,1402.1 L2134.0,1402.4 L2137.0,1402.2 L2140.0,1402.3 L2143.0,1402.3 L2146.0,1402.4 L2148.9,1402.6 L2151.9,1402.7 L2154.9,1402.5 L2157.9,1402.8 L2160.9,1402.7 L2163.9,1402.7 L2166.8,1402.9 L2169.8,1402.8 L2172.8,1402.9 L2175.8,1402.9 L2178.8,1402.8 L2181.8,1402.8 L2184.7,1402.9 L2187.7,1403.0 L2190.7,1403.0 L2193.7,1403.1 L2196.7,1403.3 L2199.6,1403.2 L2202.6,1403.4 L2205.6,1403.4 L2208.6,1403.3 L2211.6,1403.4 L2214.6,1403.3 L2217.5,1403.3 L2220.5,1403.6 L2223.5,1403.6 L2226.5,1403.7 L2229.5,1403.8 L2232.5,1403.6 L2235.4,1403.8 L2238.4,1403.6 L2241.4,1403.8 L2244.4,1404.0 L2247.4,1403.8 L2250.4,1403.9 L2253.3,1404.1 L2256.3,1404.3 L2259.3,1404.3 L2262.3,1404.2 L2265.3,1404.4 L2268.2,1404.3 L2271.2,1404.3 L2274.2,1404.4 L2277.2,1404.5 L2280.2,1404.5 L2283.2,1404.7 L2286.1,1404.6 L2289.1,1404.8 L2292.1,1404.7 L2295.1,1404.9 L2298.1,1404.9 L2301.1,1404.8 L2304.0,1405.2 L2307.0,1405.0 L2310.0,1405.0" stroke="#f00" stroke-width="3.3"/>
<path d="M604.0,1407.5 L612.0,1407.5 L613.5,1407.2 L615.0,1407.0 L616.4,1406.7 L617.9,1406.4 L619.4,1406.0 L620.9,1406.6 L622.4,1405.7 L623.8,1405.3 L625.3,1405.3 L626.8,1404.0 L628.2,1402.1 L629.7,1400.9 L631.1,1398.9 L632.6,1397.6 L634.0,1396.2 L635.5,1394.4 L636.9,1392.8 L638.4,1391.5 L639.3,1388.8 L640.1,1385.8 L641.0,1382.7 L641.9,1379.8 L642.8,1376.2 L643.6,1373.7 L644.1,1370.5 L644.6,1367.5 L645.1,1363.6 L645.6,1360.5 L646.1,1356.6 L646.6,1353.9 L647.1,1349.9 L647.5,1347.2 L648.1,1344.6 L648.7,1340.0 L649.2,1337.8 L649.8,1334.2 L650.3,1330.6 L650.9,1327.6 L651.5,1324.2 L652.0,1321.0 L652.5,1317.0 L653.0,1313.3 L653.6,1309.9 L654.1,1306.2 L654.6,1303.1 L656.0,1299.3 L657.4,1296.6 L658.8,1292.2 L659.2,1288.9 L659.5,1285.6 L659.9,1281.8 L660.3,1280.0 L660.6,1274.9 L661.0,1272.4 L661.4,1269.0 L662.4,1266.3 L663.5,1261.4 L664.5,1259.0 L666.1,1257.8 L667.7,1257.4 L668.0,1254.0 L668.3,1251.3 L668.6,1247.4 L668.9,1244.7 L669.2,1241.7 L669.5,1239.1 L669.8,1234.5 L671.1,1233.6 L672.4,1231.2 L673.7,1228.5 L675.0,1225.5 L676.3,1222.0 L676.7,1219.3 L677.2,1215.2 L677.6,1211.6 L678.0,1208.1 L678.5,1204.6 L678.9,1201.2 L679.9,1197.6 L680.9,1195.5 L681.8,1190.7 L682.8,1187.1 L684.1,1186.0 L685.4,1184.2 L686.7,1183.8 L687.4,1183.5 L688.0,1185.0 L688.7,1188.0 L689.4,1190.5 L689.6,1185.1 L689.9,1183.9 L690.2,1190.6 L690.5,1184.2 L690.8,1177.4 L691.1,1187.6 L691.4,1180.7 L691.7,1174.5 L692.0,1172.2 L692.6,1175.5 L693.3,1170.9 L693.9,1169.4 L694.6,1169.3 L695.1,1172.3 L695.6,1179.5 L696.1,1175.7 L696.7,1173.7 L697.2,1182.0 L697.8,1179.9 L698.5,1182.0 L699.2,1182.6 L699.8,1177.3 L700.3,1178.8 L700.9,1180.7 L701.4,1178.4 L701.9,1186.3 L702.4,1188.9 L702.9,1184.7 L703.4,1181.8 L703.9,1180.2 L704.4,1176.9 L704.9,1175.4 L705.4,1175.3 L705.9,1172.3 L706.3,1172.7 L706.8,1169.8 L707.2,1178.1 L707.6,1178.5 L708.1,1175.8 L708.5,1173.4 L709.0,1182.9 L709.6,1185.8 L710.3,1178.4 L710.9,1178.3 L711.6,1177.6 L712.2,1181.9 L712.9,1177.1 L713.5,1184.4 L714.2,1180.6 L714.8,1185.5 L715.5,1183.0 L716.1,1183.0 L716.8,1179.5 L717.4,1183.1 L718.1,1185.5 L718.8,1189.6 L719.4,1188.8 L720.1,1186.6 L720.7,1191.3 L721.4,1194.2 L722.0,1191.1 L722.7,1191.0 L723.3,1192.4 L723.6,1197.7 L723.9,1198.2 L724.2,1194.5 L724.5,1200.5 L724.8,1199.0 L725.1,1199.5 L725.4,1207.9 L725.6,1207.9 L725.9,1204.7 L726.1,1205.2 L726.2,1205.1 L726.4,1199.6 L726.6,1199.9 L726.7,1201.1 L726.9,1191.0 L727.0,1196.8 L727.2,1196.7 L727.3,1194.4 L727.5,1186.4 L727.6,1190.7 L727.8,1185.0 L727.9,1188.5 L728.1,1187.0 L728.2,1184.1 L728.4,1179.2 L728.6,1178.9 L728.6,1184.8 L728.6,1180.2 L728.7,1186.6 L728.7,1188.2 L728.8,1186.9 L728.8,1197.8 L728.8,1191.2 L728.9,1200.0 L728.9,1186.9 L729.0,1187.6 L729.0,1200.4 L729.1,1200.7 L729.1,1198.9 L729.1,1201.4 L729.2,1196.4 L729.2,1202.4 L729.3,1202.5 L729.3,1206.8 L729.4,1212.2 L729.4,1210.8 L729.4,1213.5 L729.5,1211.3 L729.5,1213.7 L729.6,1217.1 L729.6,1217.3 L729.6,1224.2 L729.7,1218.2 L729.7,1229.4 L729.8,1220.9 L729.8,1229.5 L729.9,1225.5 L730.0,1231.6 L730.2,1224.8 L730.4,1224.2 L730.6,1223.9 L730.7,1217.5 L730.9,1214.6 L731.1,1209.6 L731.3,1219.4 L731.4,1211.2 L731.6,1210.0 L731.8,1210.5 L731.9,1213.9 L732.6,1204.6 L733.2,1213.1 L733.8,1212.4 L734.5,1217.2 L735.1,1212.5 L735.3,1214.1 L735.6,1216.9 L735.8,1218.0 L736.0,1216.7 L736.2,1206.6 L736.5,1208.4 L736.7,1206.3 L736.9,1200.5 L737.2,1200.3 L737.2,1204.9 L737.3,1201.6 L737.3,1198.7 L737.4,1201.9 L737.4,1192.6 L737.5,1196.4 L737.5,1193.1 L737.5,1191.3 L737.6,1191.7 L737.6,1189.0 L737.7,1187.8 L737.7,1186.3 L737.8,1190.6 L737.8,1181.2 L737.9,1184.3 L737.9,1181.3 L738.0,1176.4 L738.0,1178.9 L738.1,1171.6 L738.1,1177.1 L738.2,1168.7 L738.2,1168.2 L738.2,1169.5 L738.3,1169.8 L738.3,1168.5 L738.4,1166.9 L738.4,1161.5 L738.5,1158.4 L738.5,1164.2 L738.6,1164.9 L738.6,1162.0 L738.7,1170.3 L738.7,1169.1 L738.8,1166.6 L738.8,1173.1 L738.9,1168.5 L738.9,1171.6 L739.0,1177.6 L739.0,1172.3 L739.1,1179.4 L739.1,1176.1 L739.2,1185.0 L739.2,1181.4 L739.3,1186.1 L739.3,1181.8 L739.3,1187.4 L739.4,1193.4 L739.4,1193.3 L739.5,1186.8 L739.5,1198.0 L739.6,1199.4 L739.6,1196.5 L739.7,1204.4 L739.7,1197.2 L739.8,1202.2 L739.8,1207.9 L739.9,1210.2 L739.9,1211.6 L740.0,1204.8 L740.0,1204.0 L740.1,1213.1 L740.1,1208.3 L740.2,1214.4 L740.2,1211.9 L740.3,1221.7 L740.3,1221.5 L740.5,1219.9 L740.7,1216.5 L741.0,1215.1 L741.2,1212.4 L741.4,1213.2 L741.6,1211.2 L741.8,1210.4 L742.1,1205.8 L742.3,1212.4 L742.5,1205.3 L742.7,1207.6 L742.9,1204.5 L743.6,1197.3 L744.2,1193.6 L744.9,1203.0 L745.5,1196.4 L746.2,1197.1 L746.8,1195.4 L747.5,1197.8 L748.2,1194.4 L748.8,1199.5 L749.5,1200.1 L750.0,1199.9 L750.5,1190.4 L751.0,1200.2 L751.5,1197.2 L752.1,1190.5 L752.6,1193.6 L753.1,1197.7 L753.5,1201.3 L754.0,1200.6 L754.5,1206.9 L755.0,1203.6 L755.5,1201.5 L756.0,1204.8 L756.0,1207.5 L756.1,1201.2 L756.1,1204.7 L756.2,1203.7 L756.3,1200.7 L756.3,1200.6 L756.4,1194.9 L756.4,1193.9 L756.5,1190.3 L756.5,1188.6 L756.6,1183.7 L756.6,1185.7 L756.7,1182.3 L756.7,1179.5 L756.8,1183.4 L756.8,1182.9 L756.9,1178.6 L756.9,1183.0 L757.0,1179.9 L757.0,1177.6 L757.1,1172.1 L757.1,1168.4 L757.2,1171.7 L757.2,1169.6 L757.3,1168.5 L758.1,1166.7 L758.9,1167.1 L759.6,1161.9 L760.4,1162.6 L761.2,1157.9 L762.0,1152.8 L762.8,1156.2 L763.6,1159.9 L764.4,1151.2 L765.1,1155.9 L766.0,1151.6 L766.8,1151.3 L767.7,1151.3 L768.5,1150.6 L768.8,1149.7 L769.0,1154.0 L769.3,1156.6 L769.5,1159.2 L769.8,1157.2 L770.0,1164.4 L770.2,1167.0 L770.5,1170.0 L770.7,1162.7 L771.0,1168.1 L771.2,1165.0 L771.5,1172.1 L771.7,1174.2 L771.9,1171.9 L772.2,1173.7 L772.5,1175.2 L772.8,1174.5 L773.1,1169.5 L773.4,1169.0 L773.7,1161.9 L774.0,1164.6 L774.3,1164.9 L775.1,1165.0 L775.9,1168.4 L776.7,1161.9 L777.6,1159.2 L778.4,1165.7 L779.2,1163.2 L780.0,1165.3 L780.8,1165.8 L781.6,1164.5 L782.4,1165.0 L783.2,1163.2 L784.0,1154.4 L784.7,1156.7 L785.3,1160.0 L785.8,1152.7 L786.3,1154.4 L786.8,1150.4 L787.3,1148.2 L788.1,1151.4 L788.9,1148.8 L789.7,1144.4 L790.5,1145.9 L791.3,1140.2 L791.9,1139.2 L792.6,1141.5 L793.2,1137.9 L793.9,1133.8 L794.5,1135.9 L795.2,1133.8 L795.9,1135.6 L796.7,1134.1 L797.4,1130.4 L798.2,1129.1 L798.9,1129.2 L799.7,1128.2 L800.4,1130.5 L801.2,1130.6 L802.0,1128.7 L802.8,1125.0 L803.6,1122.2 L804.3,1123.0 L804.7,1119.0 L805.1,1118.7 L805.5,1112.5 L805.8,1113.8 L806.2,1116.6 L806.6,1109.0 L806.9,1107.2 L807.7,1107.8 L808.5,1110.6 L809.3,1108.5 L810.1,1102.6 L810.9,1101.1 L811.7,1100.6 L812.4,1097.6 L813.2,1098.9 L814.0,1097.0 L814.8,1094.2 L815.4,1093.6 L816.1,1092.6 L816.7,1089.4 L817.4,1087.0 L818.1,1090.2 L818.7,1089.4 L819.3,1083.9 L819.8,1081.9 L820.4,1082.4 L820.9,1079.0 L821.5,1076.0 L822.1,1079.5 L822.6,1072.7 L823.5,1074.5 L824.4,1076.4 L825.2,1078.2 L825.4,1077.4 L825.6,1077.7 L825.8,1078.0 L826.0,1074.5 L826.2,1071.2 L826.4,1066.4 L826.6,1067.6 L826.8,1063.8 L827.1,1064.1 L827.3,1065.0 L827.5,1061.4 L827.7,1058.7 L827.9,1056.2 L828.6,1056.7 L829.4,1056.2 L830.2,1052.9 L831.0,1053.1 L831.8,1055.1 L832.4,1048.1 L833.1,1049.5 L833.7,1046.2 L834.4,1051.2 L835.0,1047.4 L835.7,1045.3 L836.1,1043.6 L836.6,1041.6 L837.0,1039.9 L837.4,1033.7 L837.9,1036.3 L838.3,1035.4 L838.7,1028.8 L839.2,1032.5 L839.6,1029.9 L840.4,1023.5 L841.2,1024.5 L842.0,1023.3 L842.8,1021.2 L843.5,1021.6 L844.0,1016.1 L844.4,1016.9 L844.8,1016.2 L845.3,1015.7 L845.7,1012.3 L846.1,1009.9 L846.6,1010.4 L847.0,1002.2 L847.5,1006.8 L848.0,1002.7 L848.6,998.6 L849.1,998.8 L849.7,993.7 L850.3,991.4 L850.8,993.7 L851.4,991.4 L851.9,992.8 L852.5,987.2 L853.1,984.5 L853.6,983.7 L854.2,988.4 L854.7,982.7 L855.3,979.9 L856.2,977.2 L857.0,975.7 L857.9,976.7 L858.1,979.9 L858.3,983.4 L858.5,985.2 L858.7,985.0 L859.0,984.6 L859.2,985.9 L859.4,984.3 L859.6,989.2 L859.8,994.5 L860.0,994.7 L860.0,994.4 L860.1,988.6 L860.1,992.2 L860.2,989.0 L860.2,986.7 L860.3,985.8 L860.3,977.7 L860.4,980.0 L860.4,977.5 L860.5,982.2 L860.5,975.7 L860.6,973.2 L860.6,974.7 L860.7,968.4 L860.7,972.6 L860.8,965.7 L860.8,965.5 L860.9,961.7 L860.9,964.1 L861.0,955.2 L861.0,959.9 L861.6,955.0 L862.2,955.3 L862.7,950.7 L863.3,952.3 L863.9,950.4 L864.4,949.2 L865.2,947.4 L866.0,946.6 L866.8,945.9 L867.6,941.1 L868.4,938.4 L868.7,935.6 L868.9,938.6 L869.2,934.3 L869.5,936.0 L869.8,931.8 L870.1,927.5 L870.4,930.4 L870.7,931.1 L871.0,924.4 L871.7,921.4 L872.5,920.5 L873.2,923.5 L874.0,918.9 L874.7,918.2 L875.5,919.7 L876.2,916.9 L877.0,915.6 L877.8,912.5 L878.6,910.7 L879.3,911.0 L880.1,909.3 L880.6,908.7 L881.0,904.4 L881.4,904.7 L881.9,903.2 L882.3,900.5 L882.7,900.0 L883.2,899.3 L883.6,895.6 L884.0,893.5 L884.5,889.4 L885.0,890.9 L885.5,888.3 L886.0,886.1 L886.5,883.2 L887.0,885.0 L887.5,888.1 L888.0,881.0 L888.6,878.8 L889.3,877.9 L889.9,873.7 L890.6,873.6 L891.2,870.0 L891.9,868.8 L892.1,868.7 L892.3,866.9 L892.5,864.4 L892.7,861.0 L893.0,861.8 L893.2,857.6 L893.9,860.5 L894.7,857.1 L895.4,857.2 L896.2,858.3 L896.9,857.0 L897.7,851.8 L898.4,853.8 L898.9,853.4 L899.4,848.3 L899.9,843.5 L900.4,847.5 L900.9,845.9 L901.4,845.4 L901.8,842.9 L902.3,841.3 L902.8,840.1 L903.3,841.1 L903.8,837.4 L904.3,835.9 L904.8,832.0 L905.3,834.0 L905.8,829.2 L906.3,829.3 L906.9,821.5 L907.6,825.6 L908.2,823.2 L908.9,820.8 L909.5,823.5 L910.2,819.6 L911.0,818.3 L911.7,817.1 L912.5,822.6 L913.3,819.6 L914.1,818.7 L914.4,814.0 L914.7,817.2 L915.0,813.7 L915.3,810.0 L915.5,808.6 L915.8,803.2 L916.1,807.0 L916.4,801.0 L916.7,803.3 L917.5,800.1 L918.2,798.9 L918.9,800.6 L919.7,799.4 L920.4,795.5 L921.2,797.3 L921.9,797.7 L922.7,796.1 L923.5,793.5 L924.3,796.1 L925.1,794.4 L925.9,795.7 L926.4,795.1 L927.0,793.2 L927.5,791.1 L928.1,786.0 L928.7,789.1 L929.2,786.1 L929.8,784.2 L930.5,784.9 L931.3,788.8 L932.0,780.7 L932.8,779.6 L933.5,784.9 L934.3,780.8 L935.0,784.5 L935.8,778.7 L936.6,778.5 L937.3,780.4 L938.1,779.3 L938.9,776.5 L939.7,775.9 L940.4,773.6 L941.2,771.9 L941.9,771.6 L942.6,774.2 L943.4,771.9 L944.1,769.3 L944.9,768.7 L945.7,768.6 L946.5,768.2 L947.3,763.7 L948.1,762.6 L948.8,763.5 L949.6,768.9 L950.4,763.3 L951.2,765.7 L952.0,760.2 L952.7,763.8 L953.5,757.5 L954.2,757.3 L955.0,757.5 L955.7,757.7 L956.5,757.5 L957.2,756.8 L958.0,756.2 L958.7,754.0 L959.4,760.7 L960.2,754.9 L960.9,755.0 L961.7,757.6 L962.4,753.9 L963.2,752.8 L964.0,751.3 L964.8,754.1 L965.6,746.2 L966.4,745.6 L967.1,747.3 L967.6,743.9 L968.0,748.6 L968.5,754.8 L968.9,752.7 L969.4,755.9 L969.8,758.9 L970.2,756.2 L970.7,761.3 L971.1,760.8 L971.6,762.2 L972.1,761.7 L972.6,760.6 L973.1,758.2 L973.5,755.9 L974.0,758.1 L974.5,757.0 L975.0,753.9 L975.5,750.8 L976.3,750.0 L977.1,752.1 L977.9,753.0 L978.6,757.7 L979.4,760.3 L980.2,760.0 L980.9,756.9 L981.7,755.1 L982.4,755.5 L983.2,754.4 L983.9,754.6 L984.6,754.7 L985.4,751.9 L986.1,759.9 L986.9,751.2 L987.6,753.3 L988.4,755.2 L989.1,757.7 L989.9,761.0 L990.7,767.6 L991.4,762.4 L992.2,768.0 L993.0,765.8 L993.8,768.2 L994.5,764.4 L995.3,771.1 L996.0,764.5 L996.8,762.0 L997.5,767.7 L998.3,761.7 L999.0,760.8 L999.7,761.3 L1000.3,761.2 L1001.0,761.3 L1001.6,765.8 L1002.3,771.6 L1002.9,770.0 L1003.7,769.1 L1004.5,772.3 L1005.3,767.8 L1006.1,773.6 L1006.9,770.5 L1007.2,770.4 L1007.6,775.7 L1007.9,777.1 L1008.3,776.9 L1008.6,780.0 L1009.0,783.6 L1009.4,786.4 L1009.7,782.8 L1010.1,780.3 L1010.4,793.2 L1010.8,789.7 L1011.6,787.6 L1012.3,788.0 L1013.1,784.4 L1013.9,786.4 L1014.7,780.2 L1015.4,782.9 L1016.2,781.6 L1016.9,789.3 L1017.7,786.2 L1018.4,790.5 L1019.2,792.3 L1019.9,788.2 L1020.7,790.6 L1021.4,793.7 L1022.2,793.1 L1022.9,793.6 L1023.7,796.8 L1024.4,797.9 L1025.2,795.7 L1025.9,797.5 L1026.6,800.5 L1027.4,800.6 L1028.1,801.5 L1028.9,799.6 L1029.6,807.6 L1030.4,804.1 L1031.0,806.7 L1031.7,807.5 L1032.3,809.3 L1033.0,811.0 L1033.6,810.2 L1034.3,814.3 L1035.1,817.8 L1035.9,817.2 L1036.7,819.3 L1037.4,820.1 L1038.2,820.3 L1039.0,825.8 L1039.7,821.2 L1040.5,825.0 L1041.2,827.9 L1042.0,827.4 L1042.7,825.5 L1043.4,827.5 L1044.1,834.8 L1044.8,830.6 L1045.4,834.6 L1046.1,837.6 L1046.7,838.3 L1047.4,836.8 L1048.1,836.2 L1048.9,841.4 L1049.6,840.8 L1050.4,842.9 L1051.1,844.7 L1051.8,845.8 L1052.6,844.1 L1053.3,843.3 L1054.1,850.4 L1054.8,847.6 L1055.6,847.3 L1056.3,846.3 L1057.1,853.2 L1057.8,850.8 L1058.5,851.9 L1059.1,857.4 L1059.8,858.2 L1060.4,860.3 L1061.1,857.5 L1061.7,857.2 L1062.5,861.2 L1063.3,864.4 L1064.1,865.1 L1064.9,870.4 L1065.7,870.5 L1066.3,869.1 L1067.0,874.7 L1067.6,874.7 L1068.3,875.7 L1068.9,881.2 L1069.6,877.5 L1070.2,881.2 L1070.8,879.8 L1071.5,870.7 L1072.1,873.6 L1072.7,872.2 L1073.0,871.5 L1073.3,874.6 L1073.6,875.8 L1073.8,879.6 L1074.1,879.8 L1074.4,877.8 L1074.7,887.5 L1075.0,888.6 L1075.3,886.2 L1075.5,892.0 L1075.8,896.5 L1076.1,890.8 L1076.9,893.7 L1077.7,894.8 L1078.5,898.6 L1079.2,897.9 L1080.0,897.6 L1080.8,903.9 L1081.5,901.0 L1082.3,904.5 L1083.0,909.1 L1083.8,902.8 L1084.5,904.5 L1085.3,908.0 L1086.0,907.7 L1086.8,910.7 L1087.5,910.9 L1088.2,919.1 L1089.0,915.4 L1089.7,916.2 L1090.5,917.1 L1091.1,919.5 L1091.8,916.3 L1092.4,921.1 L1093.1,925.2 L1093.7,922.2 L1094.4,926.8 L1095.1,928.1 L1095.7,929.1 L1096.4,937.7 L1097.0,935.2 L1097.7,936.0 L1098.3,935.0 L1099.0,938.9 L1099.6,939.9 L1100.4,941.3 L1101.2,942.9 L1102.0,947.6 L1102.8,946.7 L1103.5,947.6 L1104.2,949.6 L1104.9,953.6 L1105.5,949.8 L1106.2,950.6 L1106.8,954.7 L1107.5,956.4 L1108.3,957.7 L1109.0,958.2 L1109.8,961.9 L1110.6,965.1 L1111.4,964.2 L1112.0,965.2 L1112.7,969.1 L1113.3,968.4 L1114.0,969.9 L1114.7,972.6 L1115.3,970.1 L1116.0,978.4 L1116.6,976.9 L1117.4,979.0 L1118.1,979.8 L1118.9,981.0 L1119.6,979.3 L1120.3,985.4 L1121.1,984.6 L1121.8,985.2 L1122.6,991.4 L1123.3,985.8 L1124.1,990.5 L1124.8,990.7 L1125.6,989.9 L1126.3,996.9 L1127.1,993.6 L1127.6,997.1 L1128.2,998.3 L1128.7,1000.2 L1129.5,999.2 L1130.2,1003.7 L1131.0,1002.7 L1131.7,1001.0 L1132.5,1001.8 L1133.2,1004.9 L1134.0,1003.9 L1134.5,1007.8 L1135.0,1009.4 L1135.5,1009.8 L1136.1,1009.5 L1136.6,1012.9 L1137.3,1015.9 L1138.1,1015.4 L1138.8,1020.2 L1139.6,1017.4 L1140.3,1019.7 L1141.1,1021.1 L1141.8,1021.0 L1142.6,1022.5 L1143.4,1024.6 L1144.2,1023.8 L1144.9,1025.6 L1145.7,1025.7 L1146.5,1030.9 L1147.3,1029.6 L1148.1,1032.2 L1148.9,1027.6 L1149.7,1033.4 L1150.4,1033.2 L1151.2,1036.1 L1152.0,1036.4 L1152.8,1036.5 L1153.6,1038.9 L1154.2,1042.0 L1154.9,1044.0 L1155.5,1042.9 L1156.2,1047.0 L1156.8,1045.8 L1157.5,1049.0 L1158.2,1048.1 L1159.0,1052.3 L1159.7,1055.4 L1160.5,1052.4 L1161.2,1055.9 L1162.0,1052.7 L1162.7,1055.5 L1163.5,1062.0 L1164.3,1059.2 L1165.1,1061.7 L1165.9,1059.9 L1166.6,1064.0 L1167.4,1064.1 L1168.2,1068.6 L1169.0,1067.1 L1169.8,1073.3 L1170.6,1069.3 L1171.3,1072.4 L1172.1,1070.0 L1172.9,1073.8 L1173.7,1077.7 L1174.5,1077.0 L1174.9,1076.7 L1175.2,1081.2 L1175.6,1083.7 L1176.0,1084.5 L1176.3,1087.1 L1176.7,1084.9 L1177.1,1090.9 L1177.7,1091.6 L1178.4,1088.7 L1179.0,1096.8 L1179.7,1094.9 L1180.5,1097.0 L1181.3,1093.8 L1182.1,1096.7 L1182.8,1095.6 L1183.6,1100.2 L1184.4,1100.5 L1185.2,1101.0 L1186.0,1103.4 L1186.8,1107.4 L1187.5,1106.3 L1188.3,1109.1 L1189.1,1107.3 L1189.9,1107.6 L1190.7,1110.5 L1191.5,1112.0 L1192.2,1114.2 L1193.0,1117.0 L1193.8,1116.4 L1194.6,1118.1 L1195.4,1121.1 L1196.2,1121.9 L1197.0,1122.2 L1197.7,1123.7 L1198.5,1120.9 L1199.3,1124.8 L1199.8,1124.4 L1200.3,1128.2 L1200.9,1131.1 L1201.4,1129.9 L1201.9,1134.0 L1202.2,1131.0 L1202.5,1129.7 L1202.8,1127.7 L1203.1,1127.3 L1203.4,1124.1 L1203.7,1120.9 L1204.0,1121.8 L1204.2,1123.0 L1204.4,1125.6 L1204.6,1127.3 L1204.7,1127.0 L1204.9,1130.2 L1205.1,1131.8 L1205.3,1133.3 L1205.5,1135.2 L1205.7,1137.1 L1205.8,1138.1 L1206.7,1137.5 L1207.6,1137.8 L1208.4,1135.1 L1208.9,1137.5 L1209.3,1138.3 L1209.8,1139.9 L1210.2,1142.4 L1210.6,1144.8 L1211.1,1147.5 L1211.5,1147.9 L1211.9,1150.9 L1212.4,1152.2 L1212.8,1153.4 L1213.2,1151.6 L1213.7,1156.9 L1214.5,1155.1 L1215.4,1152.2 L1216.3,1151.7 L1216.5,1151.4 L1216.7,1146.7 L1217.0,1145.6 L1217.2,1145.4 L1217.4,1140.6 L1217.7,1139.7 L1217.9,1139.3 L1218.1,1137.9 L1218.3,1140.2 L1218.4,1141.4 L1218.6,1144.8 L1218.7,1144.4 L1218.9,1144.3 L1219.1,1147.2 L1219.2,1149.8 L1219.4,1151.2 L1219.5,1150.4 L1219.7,1154.5 L1220.0,1155.0 L1220.3,1157.4 L1220.6,1161.0 L1220.9,1161.0 L1221.2,1162.2 L1221.5,1164.5 L1222.3,1165.0 L1223.1,1169.0 L1223.9,1168.7 L1224.7,1169.8 L1225.4,1169.3 L1226.2,1170.2 L1227.0,1172.2 L1227.8,1170.6 L1228.6,1175.2 L1229.4,1174.1 L1230.1,1176.8 L1230.9,1178.6 L1231.7,1178.9 L1232.5,1181.7 L1233.3,1183.5 L1234.0,1185.9 L1234.8,1185.2 L1235.5,1187.7 L1236.3,1187.2 L1237.0,1187.4 L1237.8,1189.5 L1238.5,1189.1 L1239.2,1190.6 L1240.0,1192.0 L1240.7,1193.5 L1241.5,1193.5 L1242.2,1192.5 L1243.0,1196.5 L1243.7,1196.1 L1244.5,1196.8 L1245.2,1197.3 L1246.0,1200.0 L1246.7,1200.8 L1247.5,1202.3 L1248.2,1202.6 L1249.0,1205.0 L1249.7,1204.1 L1250.4,1205.4 L1251.2,1205.7 L1251.9,1207.2 L1252.7,1205.9 L1253.4,1206.9 L1254.2,1207.6 L1254.9,1208.0 L1255.7,1208.9 L1256.4,1209.2 L1257.2,1212.3 L1257.9,1214.1 L1258.7,1212.3 L1259.4,1214.9 L1260.2,1213.8 L1260.9,1214.9 L1261.6,1216.2 L1262.4,1217.4 L1263.1,1218.5 L1263.9,1216.6 L1264.6,1218.5 L1265.4,1220.7 L1266.1,1221.5 L1266.9,1225.2 L1267.6,1223.7 L1268.4,1224.4 L1269.1,1227.6 L1269.9,1225.3 L1270.7,1226.0 L1271.5,1231.6 L1272.3,1228.6 L1273.1,1230.0 L1273.9,1230.4 L1274.8,1230.3 L1275.6,1231.8 L1276.4,1231.6 L1277.2,1234.4 L1278.0,1235.1 L1278.8,1235.8 L1279.7,1234.8 L1280.5,1234.5 L1281.3,1236.9 L1282.1,1237.1 L1282.9,1239.4 L1283.7,1238.1 L1284.6,1239.7 L1285.4,1241.7 L1286.2,1242.8 L1287.0,1243.3 L1287.8,1242.6 L1288.6,1244.1 L1289.5,1247.2 L1290.3,1247.3 L1291.1,1246.0 L1291.9,1249.7 L1292.7,1248.1 L1293.5,1248.9 L1294.4,1248.6 L1295.2,1251.9 L1296.0,1250.9 L1296.8,1251.6 L1297.6,1251.5 L1298.4,1251.9 L1299.3,1254.3 L1300.1,1255.0 L1300.9,1256.7 L1301.7,1256.0 L1302.5,1257.2 L1304.2,1259.0 L1305.8,1259.8 L1307.4,1259.9 L1309.1,1261.9 L1310.7,1263.2 L1312.3,1265.1 L1314.0,1266.4 L1315.6,1268.3 L1317.2,1269.2 L1318.9,1271.0 L1320.5,1273.4 L1322.1,1274.6 L1323.8,1275.9 L1325.4,1277.7 L1327.0,1278.4 L1328.7,1279.8 L1330.3,1279.9 L1331.9,1282.6 L1333.6,1285.0 L1335.2,1285.8 L1336.8,1287.6 L1338.5,1289.5 L1340.1,1291.0 L1341.7,1293.0 L1343.4,1294.3 L1345.0,1295.2 L1346.6,1297.2 L1348.3,1297.8 L1349.9,1298.8 L1351.5,1300.7 L1353.2,1302.2 L1354.8,1303.1 L1356.4,1303.8 L1358.1,1305.4 L1359.7,1307.2 L1361.3,1308.6 L1363.0,1310.7 L1364.6,1310.9 L1366.2,1312.1 L1367.9,1312.7 L1369.5,1315.1 L1371.1,1315.7 L1372.8,1315.9 L1374.4,1316.4 L1376.0,1316.0 L1377.7,1318.9 L1379.3,1318.8 L1380.9,1320.7 L1382.6,1321.6 L1384.2,1322.8 L1385.8,1323.0 L1387.5,1324.5 L1389.1,1323.8 L1390.7,1326.2 L1392.4,1326.0 L1394.0,1326.2 L1395.6,1327.2 L1397.3,1327.6 L1398.9,1329.2 L1400.5,1329.5 L1402.2,1329.9 L1403.8,1331.3 L1405.4,1332.2 L1407.1,1333.3 L1408.8,1334.5 L1410.5,1335.7 L1412.3,1336.0 L1413.6,1338.7 L1414.9,1338.7 L1415.8,1342.3 L1416.6,1345.5 L1417.5,1347.0 L1418.4,1344.4 L1419.2,1341.6 L1420.1,1337.8 L1421.8,1339.0 L1423.4,1340.7 L1425.0,1341.2 L1426.7,1343.0 L1428.3,1344.4 L1429.9,1343.6 L1431.6,1343.6 L1433.2,1344.9 L1434.5,1345.5 L1435.8,1345.8 L1437.1,1347.4 L1438.0,1351.2 L1438.9,1355.2 L1440.0,1352.7 L1441.0,1349.3 L1442.5,1349.3 L1444.1,1349.1 L1445.6,1349.8 L1447.1,1349.7 L1448.6,1350.1 L1450.2,1349.8 L1451.7,1348.5 L1453.2,1351.1 L1454.7,1350.5 L1456.3,1350.7 L1457.8,1351.2 L1459.3,1351.5 L1460.6,1353.3 L1461.9,1356.0 L1463.6,1355.8 L1465.2,1356.2 L1466.8,1355.8 L1468.5,1356.7 L1470.0,1357.5 L1471.6,1357.7 L1473.2,1358.5 L1474.7,1358.2 L1476.3,1359.5 L1477.9,1359.2 L1479.4,1360.1 L1481.0,1360.4 L1482.6,1361.5 L1484.1,1362.4 L1485.7,1362.6 L1487.3,1362.5 L1488.8,1363.6 L1490.4,1364.6 L1492.0,1364.8 L1493.6,1365.4 L1495.1,1364.9 L1496.7,1365.8 L1498.3,1366.2 L1499.8,1367.0 L1501.4,1367.6 L1503.0,1367.9 L1504.5,1368.1 L1506.1,1368.8 L1507.7,1368.8 L1509.2,1369.2 L1510.6,1369.6 L1512.1,1369.4 L1513.6,1369.9 L1515.1,1370.0 L1516.6,1370.4 L1518.1,1371.0 L1519.6,1371.4 L1521.1,1371.9 L1522.6,1372.3 L1524.1,1372.2 L1525.6,1373.6 L1527.1,1373.8 L1528.6,1373.4 L1530.2,1374.1 L1531.8,1374.8 L1533.5,1375.7 L1535.1,1376.5 L1536.6,1376.1 L1538.1,1375.0 L1539.7,1376.6 L1541.2,1375.7 L1542.7,1375.5 L1544.2,1374.8 L1546.0,1376.3 L1547.7,1377.9 L1549.5,1378.8 L1551.0,1379.3 L1552.5,1378.9 L1554.0,1379.5 L1555.4,1378.9 L1556.9,1379.4 L1558.4,1378.4 L1559.9,1379.3 L1561.4,1379.3 L1562.9,1379.2 L1564.4,1379.8 L1565.9,1379.6 L1567.4,1380.1 L1568.9,1380.4 L1570.4,1380.5 L1571.8,1381.0 L1573.3,1380.7 L1574.7,1381.1 L1576.2,1380.5 L1577.6,1380.3 L1579.1,1380.4 L1580.5,1380.2 L1582.0,1379.8 L1583.4,1380.3 L1584.9,1380.0 L1586.3,1380.4 L1587.8,1380.6 L1589.3,1380.6 L1590.7,1380.6 L1592.2,1381.1 L1593.6,1381.2 L1595.1,1381.9 L1596.5,1381.7 L1598.0,1381.9 L1599.4,1381.5 L1600.9,1381.7 L1602.3,1381.4 L1603.8,1381.7 L1605.2,1382.3 L1606.7,1382.1 L1608.1,1382.2 L1609.6,1382.2 L1611.0,1382.9 L1612.5,1382.5 L1613.9,1383.0 L1615.4,1382.6 L1616.8,1383.1 L1618.3,1382.5 L1619.7,1382.5 L1621.2,1383.4 L1622.6,1383.0 L1624.1,1383.3 L1625.5,1383.6 L1627.0,1383.7 L1628.5,1383.7 L1629.9,1383.3 L1631.4,1383.6 L1632.8,1383.9 L1634.3,1384.2 L1635.7,1384.3 L1637.2,1384.4 L1638.6,1384.2 L1640.1,1384.7 L1641.5,1385.2 L1643.0,1384.7 L1644.4,1385.0 L1645.9,1385.7 L1647.3,1386.1 L1648.8,1385.8 L1650.2,1385.8 L1651.7,1385.6 L1653.1,1386.0 L1654.6,1385.9 L1656.0,1386.3 L1657.5,1386.7 L1658.9,1386.7 L1660.4,1387.1 L1661.8,1386.5 L1663.3,1386.5 L1664.7,1387.5 L1666.2,1387.6 L1667.6,1387.0 L1669.1,1387.5 L1670.6,1387.3 L1672.0,1387.8 L1673.5,1388.0 L1674.9,1388.3 L1676.4,1387.8 L1677.8,1387.8 L1679.3,1388.5 L1680.7,1388.3 L1682.2,1389.0 L1683.6,1388.2 L1685.1,1388.4 L1686.5,1387.8 L1688.0,1389.1 L1689.5,1389.4 L1691.0,1389.1 L1692.5,1388.9 L1694.0,1388.4 L1695.5,1388.7 L1697.0,1389.1 L1698.5,1390.0 L1700.0,1389.6 L1701.5,1389.4 L1703.0,1389.6 L1704.5,1389.7 L1706.0,1389.8 L1707.5,1389.8 L1709.0,1389.9 L1710.5,1390.2 L1712.0,1390.2 L1713.5,1390.2 L1715.0,1390.6 L1716.5,1390.5 L1718.0,1390.5 L1719.5,1390.8 L1721.0,1390.8 L1722.5,1390.8 L1724.0,1391.2 L1725.5,1391.2 L1727.0,1391.1 L1728.5,1391.3 L1730.0,1391.4 L1731.5,1391.4 L1733.0,1391.6 L1734.5,1391.6 L1736.0,1391.7 L1737.5,1391.9 L1739.0,1391.8 L1740.5,1392.0 L1742.0,1392.0 L1743.5,1392.3 L1745.0,1392.2 L1746.5,1392.6 L1748.0,1392.7 L1749.5,1392.5 L1751.0,1392.7 L1752.5,1392.8 L1754.0,1392.9 L1755.5,1393.1 L1757.0,1393.3 L1758.5,1393.5 L1760.0,1393.5 L1763.1,1393.4 L1766.2,1393.7 L1769.2,1393.9 L1772.3,1394.1 L1775.4,1394.4 L1778.5,1394.6 L1781.5,1394.7 L1784.6,1394.9 L1787.7,1395.5 L1790.8,1395.5 L1793.8,1395.8 L1796.9,1395.7 L1800.0,1396.1 L1803.1,1396.3 L1806.2,1396.3 L1809.2,1396.2 L1812.3,1396.4 L1815.4,1396.4 L1818.5,1396.4 L1821.5,1396.6 L1824.6,1396.8 L1827.7,1396.8 L1830.8,1396.9 L1833.8,1397.1 L1836.9,1397.0 L1840.0,1397.2 L1843.0,1397.4 L1845.9,1397.4 L1848.9,1397.5 L1851.9,1397.3 L1854.9,1397.5 L1857.8,1397.5 L1860.8,1397.7 L1863.8,1397.5 L1866.8,1397.8 L1869.7,1397.6 L1872.7,1398.0 L1875.7,1397.9 L1878.6,1398.0 L1881.6,1398.2 L1884.6,1398.3 L1887.6,1398.1 L1890.5,1398.3 L1893.5,1398.1 L1896.5,1398.4 L1899.5,1398.4 L1902.4,1398.6 L1905.4,1398.6 L1908.4,1398.6 L1911.4,1398.6 L1914.3,1398.7 L1917.3,1398.7 L1920.3,1398.9 L1923.2,1398.8 L1926.2,1399.0 L1929.2,1399.2 L1932.2,1399.4 L1935.1,1399.4 L1938.1,1399.4 L1941.1,1399.4 L1944.1,1399.6 L1947.0,1399.4 L1950.0,1399.5 L1952.9,1399.4 L1955.9,1399.6 L1958.8,1399.9 L1961.8,1399.6 L1964.7,1399.9 L1967.6,1400.0 L1970.6,1400.0 L1973.5,1400.2 L1976.5,1400.2 L1979.4,1400.1 L1982.4,1400.3 L1985.3,1400.2 L1988.2,1400.7 L1991.2,1400.6 L1994.1,1400.8 L1997.1,1400.6 L2000.0,1401.0 L2003.0,1401.0 L2006.0,1400.9 L2008.9,1401.0 L2011.9,1401.0 L2014.9,1400.9 L2017.9,1401.1 L2020.9,1401.1 L2023.8,1401.2 L2026.8,1401.4 L2029.8,1401.4 L2032.8,1401.3 L2035.7,1401.4 L2038.7,1401.3 L2041.7,1401.4 L2044.7,1401.3 L2047.7,1401.4 L2050.6,1401.4 L2053.6,1401.6 L2056.6,1401.6 L2059.6,1401.7 L2062.6,1401.9 L2065.5,1401.9 L2068.5,1401.8 L2071.5,1401.8 L2074.5,1401.9 L2077.4,1402.0 L2080.4,1401.9 L2083.4,1401.9 L2086.4,1402.1 L2089.4,1402.3 L2092.3,1402.3 L2095.3,1402.3 L2098.3,1402.0 L2101.3,1402.3 L2104.3,1402.4 L2107.2,1402.5 L2110.2,1402.7 L2113.2,1402.4 L2116.2,1402.6 L2119.1,1402.4 L2122.1,1402.6 L2125.1,1402.6 L2128.1,1402.8 L2131.1,1402.8 L2134.0,1402.6 L2137.0,1402.8 L2140.0,1402.9 L2143.0,1403.1 L2146.0,1402.9 L2148.9,1402.9 L2151.9,1403.0 L2154.9,1403.2 L2157.9,1403.1 L2160.9,1403.2 L2163.9,1403.2 L2166.8,1403.1 L2169.8,1403.4 L2172.8,1403.1 L2175.8,1403.6 L2178.8,1403.3 L2181.8,1403.3 L2184.7,1403.4 L2187.7,1403.4 L2190.7,1403.4 L2193.7,1403.5 L2196.7,1403.5 L2199.6,1403.6 L2202.6,1403.7 L2205.6,1403.6 L2208.6,1403.8 L2211.6,1403.7 L2214.6,1403.8 L2217.5,1403.8 L2220.5,1403.8 L2223.5,1403.9 L2226.5,1403.9 L2229.5,1403.9 L2232.5,1404.0 L2235.4,1404.1 L2238.4,1404.0 L2241.4,1404.1 L2244.4,1404.3 L2247.4,1404.2 L2250.4,1404.4 L2253.3,1404.6 L2256.3,1404.2 L2259.3,1404.4 L2262.3,1404.4 L2265.3,1404.6 L2268.2,1404.6 L2271.2,1404.4 L2274.2,1404.7 L2277.2,1404.6 L2280.2,1404.6 L2283.2,1404.7 L2286.1,1404.7 L2289.1,1404.6 L2292.1,1404.7 L2295.1,1405.0 L2298.1,1404.7 L2301.1,1404.8 L2304.0,1405.0 L2307.0,1404.9 L2310.0,1405.0" stroke="#00f" stroke-width="3.5"/>
<path d="M604.0,1407.5 L612.0,1407.5 L613.5,1407.2 L615.0,1407.0 L616.4,1406.7 L617.9,1406.4 L619.4,1406.3 L620.9,1406.5 L622.4,1405.2 L623.8,1405.3 L625.3,1404.9 L626.8,1403.6 L628.3,1402.7 L629.8,1401.8 L631.3,1400.7 L632.8,1399.7 L634.3,1399.2 L635.8,1397.5 L637.1,1393.3 L638.4,1390.8 L639.7,1387.2 L641.0,1384.0 L641.7,1381.6 L642.3,1378.0 L643.0,1374.2 L643.6,1372.1 L644.3,1368.8 L644.9,1365.5 L645.3,1362.2 L645.6,1359.1 L645.9,1356.0 L646.2,1352.6 L646.6,1349.5 L646.9,1347.0 L647.2,1342.7 L647.5,1339.4 L647.9,1336.4 L648.2,1333.6 L648.5,1329.6 L648.8,1327.1 L649.2,1322.9 L649.5,1319.7 L649.8,1316.8 L650.2,1313.2 L650.5,1310.1 L650.8,1307.2 L651.1,1304.1 L651.5,1300.6 L651.8,1297.1 L652.1,1294.5 L652.4,1290.9 L652.8,1287.4 L653.1,1284.7 L653.4,1280.6 L653.7,1277.7 L654.1,1274.7 L654.4,1271.1 L654.7,1267.6 L655.1,1264.7 L655.4,1261.2 L655.9,1257.9 L656.4,1254.6 L657.0,1252.4 L657.5,1248.6 L658.0,1246.0 L658.3,1242.7 L658.5,1239.3 L658.8,1236.5 L659.0,1233.2 L659.3,1230.0 L659.6,1226.3 L659.8,1223.7 L660.1,1220.9 L660.3,1217.6 L660.6,1214.6 L660.9,1211.8 L661.2,1208.4 L661.5,1205.9 L661.8,1201.5 L662.1,1198.9 L662.4,1195.3 L662.9,1193.2 L663.3,1189.8 L663.7,1187.3 L664.1,1183.3 L664.5,1179.7 L665.4,1178.2 L666.3,1174.5 L667.1,1172.1 L667.4,1169.3 L667.6,1166.5 L667.8,1162.9 L668.0,1160.0 L668.2,1156.0 L668.4,1154.3 L668.6,1150.5 L668.8,1147.4 L669.0,1144.5 L669.2,1141.2 L669.7,1138.1 L670.1,1134.6 L670.5,1131.9 L671.0,1129.1 L671.4,1126.3 L671.8,1122.8 L672.6,1119.6 L673.4,1116.4 L674.2,1113.3 L675.0,1109.8 L675.3,1106.2 L675.7,1102.6 L676.0,1099.8 L676.4,1095.9 L676.7,1092.3 L677.1,1089.8 L677.2,1085.9 L677.4,1082.5 L677.6,1078.9 L677.7,1075.1 L677.9,1072.7 L678.1,1068.9 L678.2,1065.6 L678.4,1062.7 L678.6,1059.3 L678.7,1055.7 L678.9,1052.3 L679.3,1049.7 L679.6,1045.8 L680.0,1041.8 L680.4,1039.1 L680.8,1035.5 L681.1,1032.1 L681.5,1028.9 L682.8,1026.2 L684.1,1031.5 L685.4,1021.5 L686.0,1023.4 L686.6,1028.5 L687.1,1023.1 L687.7,1030.9 L688.2,1028.1 L688.8,1034.6 L689.4,1029.0 L689.5,1031.5 L689.7,1021.8 L689.9,1024.9 L690.1,1025.2 L690.2,1025.5 L690.4,1029.8 L690.6,1027.7 L690.7,1013.5 L690.9,1014.2 L691.1,1020.7 L691.3,1015.9 L691.4,1007.1 L691.6,1012.9 L691.8,1004.9 L692.0,1005.4 L692.6,1003.5 L693.3,1008.1 L693.9,1018.8 L694.6,1011.5 L695.0,1008.5 L695.3,1017.5 L695.7,1004.1 L696.1,1003.9 L696.4,1001.9 L696.8,1003.2 L697.2,999.1 L697.5,1007.3 L697.8,1001.7 L698.1,1006.6 L698.4,1006.7 L698.6,1003.8 L698.9,1004.8 L699.2,1010.0 L699.5,1002.5 L699.8,1013.1 L700.1,1015.0 L700.3,1016.8 L700.6,1017.5 L700.9,1020.8 L701.1,1019.5 L701.4,1025.0 L701.6,1017.5 L701.9,1029.3 L702.2,1023.7 L702.4,1030.1 L702.7,1025.4 L703.1,1024.1 L703.4,1021.2 L703.7,1028.2 L704.1,1017.1 L704.4,1015.1 L704.7,1019.3 L705.0,1017.7 L705.5,1018.6 L706.0,1016.1 L706.5,1018.8 L707.0,1026.5 L707.5,1020.2 L708.0,1028.2 L708.5,1030.2 L709.0,1029.1 L709.6,1023.3 L710.3,1035.0 L710.9,1027.3 L711.6,1026.7 L711.9,1026.2 L712.2,1025.4 L712.5,1029.7 L712.9,1033.0 L713.2,1030.4 L713.5,1035.8 L713.9,1041.4 L714.2,1040.1 L714.5,1039.5 L714.8,1045.6 L715.2,1046.6 L715.5,1046.9 L716.1,1042.1 L716.8,1038.9 L717.4,1050.2 L718.1,1048.2 L718.8,1047.3 L719.4,1051.0 L719.8,1049.4 L720.2,1050.3 L720.6,1061.6 L721.0,1049.6 L721.4,1060.8 L721.8,1063.1 L722.2,1067.7 L722.5,1063.2 L722.9,1065.8 L723.3,1062.8 L723.6,1066.9 L723.9,1059.9 L724.2,1067.4 L724.5,1071.0 L724.8,1072.2 L725.1,1072.1 L725.4,1080.1 L725.6,1070.6 L725.9,1078.8 L726.1,1075.3 L726.3,1075.5 L726.4,1074.0 L726.6,1079.9 L726.8,1066.4 L726.9,1074.4 L727.1,1073.1 L727.2,1065.5 L727.4,1062.0 L727.6,1058.0 L727.7,1057.9 L727.9,1067.9 L728.1,1049.6 L728.2,1058.5 L728.4,1052.4 L728.6,1058.9 L728.6,1056.4 L728.6,1051.3 L728.7,1056.1 L728.7,1060.5 L728.8,1061.8 L728.8,1059.1 L728.9,1063.2 L728.9,1064.1 L729.0,1069.4 L729.0,1070.1 L729.1,1071.4 L729.1,1069.7 L729.2,1076.7 L729.2,1072.9 L729.3,1073.4 L729.3,1076.5 L729.3,1078.5 L729.4,1080.1 L729.4,1075.2 L729.5,1089.8 L729.5,1088.4 L729.6,1092.7 L729.6,1087.4 L729.7,1093.5 L729.7,1092.9 L729.8,1093.7 L729.8,1102.3 L729.9,1095.0 L729.9,1100.5 L730.0,1092.9 L730.1,1103.6 L730.1,1102.3 L730.2,1100.5 L730.3,1103.7 L730.3,1099.2 L730.4,1105.0 L730.4,1111.5 L730.5,1101.9 L730.6,1118.2 L730.6,1119.4 L730.7,1114.1 L730.8,1112.7 L730.8,1114.6 L730.9,1116.7 L731.0,1120.4 L731.0,1133.6 L731.1,1122.0 L731.2,1130.2 L731.3,1131.5 L731.4,1121.1 L731.5,1122.3 L731.7,1124.5 L731.8,1117.6 L731.9,1123.6 L732.0,1125.6 L732.1,1115.3 L732.3,1110.7 L732.4,1114.7 L732.5,1112.1 L732.6,1106.3 L732.8,1107.1 L732.9,1106.4 L733.0,1105.9 L733.3,1107.6 L733.6,1099.7 L733.9,1095.0 L734.2,1092.3 L734.4,1104.7 L734.7,1094.2 L735.0,1092.7 L735.3,1102.7 L735.6,1094.6 L735.7,1102.0 L735.8,1093.9 L735.9,1093.4 L736.0,1095.6 L736.1,1101.9 L736.2,1102.5 L736.3,1104.0 L736.4,1113.0 L736.5,1111.0 L736.7,1102.8 L736.8,1110.5 L736.9,1112.7 L737.0,1108.9 L737.1,1122.7 L737.2,1118.6 L737.3,1122.6 L737.4,1116.0 L737.5,1115.1 L737.6,1124.3 L737.7,1122.3 L738.1,1119.0 L738.4,1119.5 L738.8,1119.2 L739.2,1117.4 L739.6,1114.5 L739.9,1115.7 L740.3,1120.5 L741.0,1115.8 L741.6,1107.7 L742.3,1116.6 L742.9,1105.8 L743.7,1100.3 L744.5,1100.3 L745.3,1097.0 L746.1,1107.8 L746.7,1098.8 L747.4,1096.2 L748.0,1098.3 L748.7,1098.7 L749.0,1095.9 L749.4,1100.1 L749.7,1104.0 L750.0,1108.1 L750.4,1103.3 L750.7,1110.9 L751.1,1111.3 L751.4,1114.0 L751.7,1111.2 L752.1,1111.7 L752.5,1120.4 L752.9,1120.4 L753.2,1117.0 L753.6,1118.1 L754.0,1125.6 L754.4,1132.4 L754.8,1127.4 L755.2,1137.6 L755.6,1130.3 L756.0,1131.6 L756.0,1131.0 L756.1,1131.9 L756.1,1120.0 L756.1,1125.1 L756.2,1128.0 L756.2,1115.1 L756.3,1120.8 L756.3,1121.3 L756.3,1123.7 L756.4,1121.6 L756.4,1113.6 L756.5,1120.5 L756.5,1106.2 L756.5,1103.5 L756.6,1112.9 L756.6,1108.7 L756.6,1099.9 L756.7,1107.3 L756.7,1104.9 L756.8,1102.8 L756.8,1096.6 L756.8,1091.7 L756.9,1088.5 L756.9,1092.9 L757.0,1091.6 L757.0,1088.6 L757.0,1087.8 L757.1,1089.8 L757.1,1083.3 L757.1,1082.7 L757.2,1087.8 L757.2,1079.9 L757.3,1078.4 L757.3,1080.2 L757.4,1072.3 L757.5,1078.9 L757.5,1070.2 L757.6,1069.6 L757.7,1066.8 L757.8,1065.9 L757.8,1064.7 L757.9,1067.0 L758.0,1062.9 L758.1,1063.7 L758.8,1063.5 L759.6,1058.8 L760.3,1062.1 L761.0,1060.8 L761.8,1061.4 L762.5,1062.9 L763.4,1065.3 L764.3,1067.2 L765.1,1064.3 L765.9,1067.0 L766.7,1065.8 L767.5,1070.8 L768.3,1065.2 L769.1,1065.3 L769.3,1067.2 L769.5,1070.9 L769.7,1068.0 L769.9,1072.3 L770.1,1074.2 L770.3,1076.2 L770.5,1077.5 L770.7,1078.6 L770.9,1082.0 L771.1,1081.4 L771.4,1089.3 L771.6,1087.1 L771.8,1084.4 L772.0,1089.9 L772.2,1094.6 L772.4,1093.6 L772.6,1095.4 L772.8,1092.0 L773.0,1101.7 L773.8,1099.7 L774.5,1095.0 L775.3,1099.0 L776.1,1103.9 L776.9,1101.2 L777.6,1096.8 L778.4,1098.9 L779.1,1100.6 L779.9,1104.8 L780.6,1100.2 L781.4,1101.2 L782.1,1098.7 L782.9,1098.3 L783.7,1094.8 L784.5,1093.0 L785.3,1091.8 L786.0,1093.1 L786.8,1095.5 L787.6,1090.8 L788.4,1092.2 L789.2,1089.6 L790.0,1086.5 L790.7,1084.3 L791.5,1089.9 L792.2,1086.7 L792.9,1086.2 L793.7,1088.5 L794.4,1085.4 L795.2,1081.4 L796.0,1082.2 L796.8,1082.9 L797.5,1087.2 L798.3,1079.6 L799.1,1079.2 L799.7,1079.5 L800.2,1079.0 L800.8,1075.9 L801.3,1077.8 L801.9,1075.4 L802.5,1072.1 L803.0,1070.7 L803.8,1074.6 L804.5,1074.3 L805.3,1073.1 L806.0,1067.4 L806.8,1070.7 L807.5,1064.4 L808.3,1063.5 L809.0,1070.0 L809.8,1067.2 L810.6,1065.9 L811.4,1067.0 L812.2,1065.5 L813.0,1061.8 L813.7,1060.3 L814.5,1059.5 L815.3,1058.5 L816.1,1055.2 L816.8,1050.5 L817.6,1058.7 L818.3,1049.7 L819.1,1049.0 L819.8,1050.7 L820.6,1048.1 L821.3,1048.0 L821.8,1051.2 L822.2,1047.0 L822.6,1040.7 L823.1,1040.9 L823.5,1038.2 L823.9,1038.7 L824.7,1033.5 L825.4,1032.4 L826.2,1029.8 L826.9,1034.1 L827.7,1032.9 L828.4,1032.8 L829.2,1031.5 L829.9,1027.2 L830.7,1029.2 L831.4,1027.5 L832.1,1033.1 L832.9,1032.2 L833.6,1026.6 L834.4,1031.0 L835.0,1028.6 L835.7,1026.9 L836.3,1026.6 L837.0,1021.7 L837.7,1020.6 L838.3,1018.5 L838.8,1016.2 L839.3,1013.5 L839.8,1017.1 L840.3,1013.9 L840.8,1010.1 L841.2,1004.9 L841.7,1012.6 L842.2,1005.3 L843.0,1004.3 L843.8,1003.9 L844.6,1005.0 L845.4,998.7 L846.1,994.0 L846.6,995.6 L847.1,994.7 L847.6,991.7 L848.1,995.0 L848.6,988.7 L849.1,988.9 L849.6,984.6 L850.1,986.2 L850.6,981.5 L851.2,983.5 L851.7,980.2 L852.3,978.6 L852.9,977.3 L853.4,971.0 L854.0,972.4 L854.8,973.9 L855.6,972.7 L856.3,976.8 L857.1,976.3 L857.9,973.2 L858.3,975.5 L858.8,970.4 L859.2,970.6 L859.6,970.4 L860.1,963.1 L860.5,962.6 L861.0,962.0 L861.6,959.8 L862.1,954.5 L862.6,958.3 L863.1,955.1 L863.9,955.6 L864.7,956.1 L865.5,957.4 L866.3,953.9 L867.1,956.7 L867.3,953.3 L867.6,951.3 L867.8,948.6 L868.1,951.8 L868.4,941.1 L868.6,943.5 L868.9,945.0 L869.1,940.7 L869.4,938.1 L869.7,939.6 L870.5,934.8 L871.2,935.6 L872.0,936.5 L872.8,933.5 L873.6,933.0 L874.3,932.8 L875.1,933.7 L875.8,927.8 L876.6,930.0 L877.3,927.2 L878.1,925.3 L878.8,922.5 L879.4,927.2 L880.0,922.7 L880.6,920.2 L881.1,917.1 L881.7,920.0 L882.3,912.8 L882.9,910.2 L883.5,909.0 L884.0,909.0 L884.8,908.4 L885.5,901.3 L886.3,905.3 L887.0,903.8 L887.8,904.2 L888.5,899.4 L889.3,901.1 L889.8,901.8 L890.2,894.1 L890.7,893.1 L891.2,894.5 L891.7,893.4 L892.2,888.9 L892.7,890.0 L893.2,883.0 L893.6,889.6 L894.1,890.1 L894.5,893.0 L894.9,893.7 L895.4,895.9 L895.8,895.0 L896.2,901.1 L896.7,894.5 L897.1,901.7 L897.3,898.0 L897.4,902.4 L897.6,893.2 L897.8,894.4 L897.9,892.2 L898.1,892.4 L898.2,888.7 L898.4,884.3 L898.6,884.8 L898.7,886.1 L898.9,883.3 L899.1,878.0 L899.2,874.9 L899.4,873.0 L899.6,874.1 L899.7,872.2 L900.4,869.9 L901.0,867.8 L901.7,867.8 L902.3,868.7 L903.0,866.2 L903.6,861.3 L904.4,862.4 L905.2,858.3 L906.0,860.5 L906.8,858.3 L907.6,855.8 L908.3,858.8 L909.1,855.2 L909.9,854.1 L910.7,854.5 L911.5,848.6 L912.1,847.8 L912.8,846.0 L913.4,847.2 L914.1,843.5 L914.7,838.6 L915.4,838.6 L916.1,839.0 L916.9,838.0 L917.6,837.7 L918.4,834.9 L919.1,838.3 L919.9,834.5 L920.6,836.6 L921.4,835.4 L922.1,835.8 L922.9,839.6 L923.6,834.7 L924.4,834.4 L925.1,829.0 L925.9,833.1 L926.6,833.9 L927.3,831.3 L928.1,832.6 L928.8,828.7 L929.6,830.0 L930.3,827.4 L931.1,827.3 L931.8,824.8 L932.6,827.7 L933.3,824.4 L934.1,823.6 L934.8,828.2 L935.6,822.2 L936.3,823.9 L937.0,828.7 L937.8,824.4 L938.5,824.2 L939.3,823.1 L940.0,821.7 L940.8,825.8 L941.5,820.3 L942.3,823.0 L943.0,818.8 L943.8,816.4 L944.5,816.6 L945.3,816.7 L946.0,822.0 L946.8,814.0 L947.5,816.6 L948.3,812.4 L949.1,818.0 L949.9,816.8 L950.7,818.3 L951.3,816.3 L952.0,813.5 L952.6,813.2 L953.3,811.6 L953.9,812.5 L954.6,808.4 L955.3,808.6 L956.1,806.1 L956.8,811.7 L957.6,809.6 L958.3,808.2 L959.1,813.6 L959.8,812.7 L960.6,810.0 L961.4,809.2 L962.2,804.8 L963.0,801.3 L963.7,806.1 L964.5,803.1 L965.3,809.0 L966.1,807.4 L966.9,809.6 L967.7,808.9 L968.4,809.5 L969.2,809.1 L970.0,806.2 L970.8,806.4 L971.6,804.5 L972.4,804.2 L973.1,801.8 L973.9,808.7 L974.7,807.0 L975.5,808.0 L976.3,806.9 L977.1,808.7 L977.9,817.7 L978.6,820.3 L979.4,819.9 L980.1,821.0 L980.7,810.0 L981.4,814.9 L982.0,808.2 L982.7,806.5 L983.3,809.5 L984.1,812.0 L984.8,808.9 L985.6,808.4 L986.3,809.9 L987.1,814.5 L987.8,818.4 L988.6,821.0 L989.3,819.4 L990.1,816.6 L990.8,817.2 L991.6,820.7 L992.3,822.9 L993.0,817.2 L993.8,823.3 L994.5,821.1 L995.3,824.4 L996.0,818.2 L996.8,824.4 L997.5,825.3 L998.3,825.1 L999.0,824.1 L999.8,822.9 L1000.5,824.0 L1001.3,822.2 L1002.0,825.9 L1002.8,825.2 L1003.5,829.7 L1004.2,830.6 L1005.0,828.7 L1005.8,832.5 L1006.6,825.1 L1007.4,827.1 L1007.8,833.9 L1008.1,830.9 L1008.5,834.9 L1008.9,828.9 L1009.3,840.3 L1009.6,836.8 L1010.0,838.6 L1010.4,844.3 L1010.8,843.8 L1011.5,838.8 L1012.3,845.4 L1013.0,839.2 L1013.8,839.8 L1014.5,838.4 L1015.3,838.1 L1016.0,837.8 L1016.8,839.2 L1017.6,840.4 L1018.4,849.2 L1019.1,845.4 L1019.9,847.3 L1020.7,846.0 L1021.4,852.8 L1022.2,850.9 L1022.9,851.0 L1023.7,850.6 L1024.4,854.9 L1025.2,851.3 L1025.9,853.2 L1026.6,854.8 L1027.4,857.2 L1028.1,857.5 L1028.9,854.3 L1029.6,860.0 L1030.4,858.6 L1031.1,859.6 L1031.9,862.7 L1032.6,863.1 L1033.4,864.3 L1034.1,865.9 L1034.9,869.9 L1035.6,869.9 L1036.4,871.5 L1037.1,870.5 L1037.8,876.0 L1038.6,874.6 L1039.3,873.6 L1040.1,879.1 L1040.8,875.4 L1041.6,877.1 L1042.3,881.8 L1043.1,880.0 L1043.8,881.4 L1044.6,882.4 L1045.3,884.4 L1046.1,886.3 L1046.8,888.4 L1047.6,886.9 L1048.3,888.8 L1049.0,886.7 L1049.8,891.8 L1050.5,895.6 L1051.3,896.0 L1052.0,899.9 L1052.8,897.5 L1053.5,899.9 L1054.3,902.5 L1055.0,898.8 L1055.8,905.9 L1056.5,901.5 L1057.3,904.6 L1058.0,902.4 L1058.8,907.6 L1059.5,907.4 L1060.2,913.5 L1061.0,907.9 L1061.7,915.0 L1062.4,916.7 L1063.0,918.7 L1063.7,921.3 L1064.4,922.5 L1065.0,919.9 L1065.7,925.1 L1066.3,923.4 L1067.0,925.2 L1067.6,927.7 L1068.3,929.1 L1069.1,927.4 L1069.8,930.3 L1070.6,926.9 L1071.4,921.2 L1072.2,923.4 L1072.6,925.2 L1073.1,933.6 L1073.5,930.5 L1073.9,930.4 L1074.4,934.5 L1074.8,929.7 L1075.2,940.5 L1075.7,937.8 L1076.1,938.8 L1076.9,943.4 L1077.7,940.6 L1078.5,940.9 L1079.2,946.5 L1080.0,948.9 L1080.8,946.2 L1081.5,948.4 L1082.3,949.8 L1083.0,952.5 L1083.8,952.1 L1084.5,954.9 L1085.3,954.8 L1086.0,956.9 L1086.8,960.2 L1087.5,955.8 L1088.2,962.2 L1089.0,965.7 L1089.7,961.2 L1090.5,963.3 L1091.2,965.7 L1092.0,966.8 L1092.7,965.8 L1093.5,971.8 L1094.2,972.9 L1095.0,975.3 L1095.7,975.5 L1096.5,974.0 L1097.2,976.2 L1097.9,976.2 L1098.7,985.0 L1099.4,979.0 L1100.2,982.5 L1100.9,983.9 L1101.7,983.5 L1102.4,985.6 L1103.2,987.3 L1103.9,990.7 L1104.7,987.8 L1105.4,991.6 L1106.2,993.2 L1106.6,995.2 L1107.0,995.1 L1107.4,999.6 L1107.8,1000.5 L1108.6,1000.0 L1109.4,1001.5 L1110.2,1007.8 L1111.0,1005.3 L1111.8,1006.1 L1112.5,1009.2 L1113.3,1007.6 L1114.0,1010.0 L1114.7,1011.6 L1115.5,1010.1 L1116.2,1010.1 L1117.0,1015.1 L1117.7,1011.9 L1118.5,1013.1 L1119.2,1015.8 L1120.0,1017.5 L1120.7,1017.6 L1121.5,1017.2 L1122.2,1020.6 L1123.0,1018.8 L1123.7,1020.2 L1124.5,1023.4 L1125.2,1024.9 L1125.9,1025.0 L1126.7,1026.6 L1127.4,1026.6 L1128.2,1028.7 L1129.0,1027.6 L1129.8,1028.9 L1130.6,1032.2 L1131.4,1033.8 L1132.1,1033.3 L1132.9,1034.1 L1133.7,1036.3 L1134.5,1039.6 L1135.3,1039.1 L1135.9,1040.3 L1136.6,1042.0 L1137.2,1043.3 L1137.9,1046.1 L1138.5,1046.2 L1139.2,1048.5 L1140.0,1049.0 L1140.8,1049.2 L1141.6,1051.5 L1142.3,1053.0 L1143.1,1051.7 L1143.9,1055.0 L1144.7,1056.0 L1145.5,1056.5 L1146.3,1056.1 L1147.0,1058.1 L1147.8,1061.2 L1148.6,1060.0 L1149.4,1064.3 L1150.2,1063.4 L1151.0,1065.7 L1151.7,1061.9 L1152.5,1068.8 L1153.3,1069.5 L1154.1,1068.0 L1154.9,1073.0 L1155.6,1072.0 L1156.4,1071.9 L1157.1,1076.8 L1157.9,1077.8 L1158.6,1078.2 L1159.4,1078.8 L1160.1,1079.7 L1160.9,1076.8 L1161.6,1080.4 L1162.3,1084.0 L1163.1,1083.8 L1163.8,1084.2 L1164.6,1084.7 L1165.3,1085.9 L1166.1,1086.2 L1166.8,1088.3 L1167.6,1085.2 L1168.3,1092.4 L1169.1,1091.9 L1169.8,1088.4 L1170.6,1094.1 L1171.3,1096.0 L1172.1,1097.0 L1172.9,1099.9 L1173.7,1101.6 L1174.5,1102.6 L1174.9,1101.0 L1175.3,1102.0 L1175.8,1105.9 L1176.2,1110.3 L1176.7,1107.7 L1177.1,1111.8 L1177.9,1112.7 L1178.7,1114.7 L1179.4,1113.8 L1180.2,1118.5 L1181.0,1118.6 L1181.8,1121.3 L1182.5,1121.0 L1183.2,1121.6 L1184.0,1124.2 L1184.7,1125.6 L1185.5,1125.3 L1186.2,1124.6 L1187.0,1126.9 L1187.7,1129.0 L1188.5,1129.5 L1189.2,1131.7 L1190.0,1132.0 L1190.7,1130.5 L1191.5,1134.3 L1192.2,1134.4 L1193.0,1135.7 L1193.8,1136.2 L1194.6,1135.3 L1195.4,1136.3 L1196.2,1140.9 L1197.0,1142.7 L1197.7,1145.1 L1198.5,1142.4 L1199.3,1144.9 L1199.8,1146.1 L1200.3,1149.4 L1200.9,1149.7 L1201.4,1151.5 L1201.9,1153.1 L1202.1,1152.2 L1202.3,1151.6 L1202.5,1147.4 L1202.8,1146.4 L1203.0,1146.6 L1203.2,1142.4 L1203.4,1139.1 L1203.6,1138.5 L1203.8,1138.6 L1204.0,1135.9 L1204.1,1136.6 L1204.3,1138.6 L1204.4,1142.4 L1204.6,1141.2 L1204.7,1146.0 L1204.9,1145.7 L1205.0,1148.5 L1205.1,1148.4 L1205.3,1150.3 L1205.4,1155.6 L1205.6,1154.5 L1205.7,1155.3 L1205.8,1158.5 L1206.7,1156.0 L1207.6,1154.4 L1208.4,1153.5 L1209.0,1155.2 L1209.5,1158.8 L1210.0,1157.1 L1210.5,1160.9 L1211.1,1160.8 L1211.4,1164.4 L1211.8,1165.0 L1212.2,1167.9 L1212.6,1168.7 L1212.9,1171.8 L1213.3,1173.2 L1213.7,1174.7 L1214.1,1176.7 L1214.5,1177.4 L1214.7,1175.4 L1215.0,1173.1 L1215.2,1172.7 L1215.5,1170.6 L1215.8,1168.2 L1216.0,1165.3 L1216.3,1164.6 L1216.5,1163.5 L1216.8,1162.1 L1217.1,1158.9 L1217.3,1158.7 L1217.6,1154.9 L1217.9,1154.1 L1218.1,1152.1 L1218.3,1154.9 L1218.5,1155.5 L1218.7,1157.5 L1218.9,1161.2 L1219.1,1163.0 L1219.3,1161.8 L1219.5,1166.6 L1219.7,1167.9 L1220.2,1170.0 L1220.7,1170.3 L1221.3,1174.0 L1221.8,1174.9 L1222.3,1174.5 L1222.8,1176.1 L1223.6,1177.5 L1224.3,1180.1 L1225.1,1184.1 L1225.8,1180.0 L1226.6,1182.9 L1227.3,1183.5 L1228.0,1184.4 L1228.8,1186.3 L1229.6,1188.0 L1230.4,1188.3 L1231.2,1191.4 L1232.0,1191.4 L1232.8,1193.4 L1233.5,1194.7 L1234.3,1193.7 L1235.1,1197.8 L1235.9,1196.6 L1236.6,1198.2 L1237.4,1198.5 L1238.1,1198.6 L1238.9,1200.2 L1239.6,1199.4 L1240.4,1202.4 L1241.1,1202.5 L1241.9,1202.9 L1242.6,1205.0 L1243.4,1206.3 L1244.1,1206.9 L1244.8,1206.1 L1245.6,1209.7 L1246.3,1210.6 L1247.1,1213.3 L1247.9,1214.5 L1248.7,1214.0 L1249.5,1214.1 L1250.3,1214.6 L1251.0,1214.9 L1251.8,1216.0 L1252.6,1216.5 L1253.4,1217.7 L1254.2,1218.8 L1254.9,1221.8 L1255.7,1223.3 L1256.4,1219.2 L1257.2,1223.2 L1257.9,1221.9 L1258.7,1223.5 L1259.4,1225.9 L1260.2,1226.4 L1261.0,1230.8 L1261.8,1228.1 L1262.5,1227.7 L1263.3,1227.6 L1264.1,1230.5 L1264.9,1229.7 L1265.7,1230.8 L1266.5,1230.4 L1267.2,1233.5 L1268.0,1233.7 L1268.8,1235.2 L1269.6,1233.9 L1270.4,1235.3 L1271.2,1235.4 L1271.9,1235.4 L1272.7,1237.8 L1273.5,1235.8 L1274.3,1237.7 L1275.1,1238.1 L1275.9,1239.8 L1276.7,1238.8 L1277.4,1240.9 L1278.2,1240.8 L1279.0,1241.8 L1279.8,1242.5 L1280.6,1245.8 L1281.4,1243.3 L1282.1,1246.4 L1282.9,1245.3 L1283.7,1249.5 L1284.5,1247.2 L1285.3,1248.7 L1286.1,1246.7 L1286.8,1250.6 L1287.6,1249.5 L1288.4,1249.4 L1289.2,1250.9 L1290.0,1253.3 L1290.8,1251.7 L1291.5,1253.1 L1292.3,1254.8 L1293.1,1255.3 L1293.9,1253.7 L1294.7,1253.8 L1295.5,1257.2 L1296.3,1257.3 L1297.0,1258.3 L1297.8,1259.2 L1298.6,1258.8 L1299.4,1260.0 L1300.2,1259.4 L1301.0,1260.1 L1301.7,1260.9 L1302.5,1261.0 L1303.3,1261.7 L1304.1,1263.4 L1304.9,1262.8 L1305.7,1263.9 L1306.4,1264.0 L1308.0,1264.5 L1309.6,1267.0 L1311.1,1266.7 L1312.7,1269.4 L1314.3,1270.4 L1315.9,1271.3 L1317.4,1273.5 L1319.0,1274.1 L1320.6,1276.9 L1322.1,1276.2 L1323.7,1278.9 L1325.3,1279.7 L1326.8,1280.4 L1328.4,1280.5 L1330.0,1281.7 L1331.5,1282.5 L1333.1,1285.5 L1334.7,1286.8 L1336.2,1289.0 L1337.8,1290.2 L1339.4,1291.7 L1340.9,1291.7 L1342.5,1294.1 L1344.1,1295.5 L1345.6,1297.1 L1347.2,1296.1 L1348.8,1299.4 L1350.3,1298.6 L1351.9,1300.8 L1353.5,1301.9 L1355.1,1304.4 L1356.6,1304.8 L1358.2,1305.8 L1359.8,1306.6 L1361.3,1308.0 L1362.9,1308.3 L1364.5,1309.8 L1366.0,1310.2 L1367.6,1312.2 L1369.2,1311.8 L1370.7,1313.5 L1372.3,1313.7 L1373.9,1314.1 L1375.4,1315.5 L1377.0,1315.4 L1378.6,1317.2 L1380.1,1317.8 L1381.7,1318.2 L1383.3,1319.5 L1384.8,1320.4 L1386.4,1321.5 L1388.0,1321.7 L1389.5,1322.2 L1391.1,1323.6 L1392.7,1323.3 L1394.2,1325.7 L1395.8,1325.1 L1397.4,1326.2 L1399.0,1327.5 L1400.5,1326.9 L1402.1,1327.6 L1403.7,1328.7 L1405.2,1328.7 L1406.8,1330.6 L1408.4,1329.8 L1410.1,1331.6 L1411.8,1333.4 L1413.6,1334.6 L1414.4,1337.1 L1415.2,1341.3 L1415.9,1344.2 L1416.7,1346.3 L1417.4,1343.7 L1418.1,1339.4 L1418.8,1337.5 L1420.4,1337.8 L1421.9,1338.6 L1423.5,1339.1 L1425.1,1339.4 L1426.7,1339.7 L1428.2,1339.6 L1429.8,1340.2 L1431.4,1341.3 L1432.9,1343.3 L1434.5,1343.7 L1435.8,1346.7 L1437.1,1350.2 L1438.4,1354.4 L1439.3,1351.4 L1440.2,1349.8 L1441.0,1346.1 L1442.5,1345.8 L1444.1,1345.4 L1445.6,1346.4 L1447.1,1347.3 L1448.6,1346.4 L1450.2,1347.8 L1451.7,1348.1 L1453.2,1347.2 L1454.7,1348.4 L1456.3,1347.6 L1457.8,1348.7 L1459.3,1348.6 L1460.6,1351.8 L1461.9,1353.6 L1463.6,1354.1 L1465.2,1354.8 L1466.8,1354.3 L1468.5,1354.7 L1470.0,1354.8 L1471.6,1356.2 L1473.2,1356.1 L1474.7,1356.8 L1476.3,1357.0 L1477.9,1357.2 L1479.4,1357.4 L1481.0,1357.1 L1482.6,1357.7 L1484.1,1358.2 L1485.4,1356.4 L1486.8,1355.7 L1488.1,1355.7 L1489.4,1358.6 L1490.7,1360.1 L1492.0,1361.9 L1493.5,1363.2 L1495.0,1363.3 L1496.5,1363.9 L1498.0,1363.9 L1499.4,1363.9 L1500.9,1364.5 L1502.4,1364.9 L1503.9,1365.3 L1505.4,1364.7 L1506.9,1366.2 L1508.4,1365.9 L1509.9,1366.0 L1511.4,1366.3 L1512.9,1367.2 L1514.4,1366.7 L1515.9,1367.5 L1517.4,1368.3 L1518.9,1368.9 L1520.4,1369.6 L1521.8,1369.4 L1523.3,1369.6 L1524.8,1369.7 L1526.3,1370.4 L1527.8,1370.4 L1529.3,1370.6 L1530.8,1370.4 L1532.3,1370.6 L1533.8,1370.9 L1535.3,1371.3 L1536.8,1371.6 L1538.3,1372.1 L1539.8,1372.0 L1541.3,1372.0 L1542.8,1372.6 L1544.2,1372.0 L1545.6,1368.3 L1546.9,1370.8 L1548.2,1373.1 L1549.5,1375.0 L1551.0,1374.6 L1552.5,1374.7 L1554.0,1375.4 L1555.4,1375.6 L1556.9,1374.9 L1558.4,1375.5 L1559.9,1375.8 L1561.4,1376.2 L1562.9,1376.3 L1564.4,1375.8 L1565.9,1375.7 L1567.4,1376.1 L1568.9,1376.0 L1570.4,1376.1 L1571.8,1376.7 L1573.3,1376.7 L1574.7,1376.0 L1576.2,1377.1 L1577.6,1377.5 L1579.1,1377.0 L1580.5,1378.2 L1582.0,1378.0 L1583.4,1378.1 L1584.9,1378.1 L1586.3,1378.8 L1587.8,1378.9 L1589.3,1378.4 L1590.7,1378.0 L1592.2,1379.4 L1593.6,1379.1 L1595.1,1378.6 L1596.5,1379.7 L1598.0,1378.7 L1599.4,1379.5 L1600.9,1379.3 L1602.3,1379.5 L1603.8,1380.2 L1605.2,1381.1 L1606.7,1380.1 L1608.1,1381.0 L1609.6,1380.5 L1611.0,1380.5 L1612.5,1381.1 L1613.9,1380.5 L1615.4,1381.9 L1616.8,1381.2 L1618.3,1381.1 L1619.7,1381.7 L1621.2,1381.8 L1622.6,1381.8 L1624.1,1382.3 L1625.5,1382.9 L1627.0,1382.5 L1628.5,1382.5 L1629.9,1383.2 L1631.4,1383.4 L1632.8,1383.0 L1634.3,1383.4 L1635.7,1383.4 L1637.2,1383.2 L1638.6,1384.2 L1640.1,1384.2 L1641.5,1384.7 L1643.0,1385.0 L1644.4,1383.5 L1645.9,1384.2 L1647.3,1384.7 L1648.8,1385.4 L1650.2,1385.0 L1651.7,1385.5 L1653.1,1385.0 L1654.6,1385.8 L1656.0,1386.0 L1657.5,1386.1 L1658.9,1386.0 L1660.4,1385.7 L1661.8,1386.4 L1663.3,1385.9 L1664.7,1385.9 L1666.2,1386.1 L1667.6,1386.6 L1669.1,1387.1 L1670.6,1386.8 L1672.0,1387.2 L1673.5,1387.1 L1674.9,1387.4 L1676.4,1387.4 L1677.8,1387.1 L1679.3,1388.5 L1680.7,1388.0 L1682.2,1388.2 L1683.6,1388.2 L1685.1,1387.9 L1686.5,1388.1 L1688.0,1388.5 L1689.5,1388.8 L1691.0,1388.6 L1692.5,1388.3 L1694.0,1388.5 L1695.5,1388.3 L1697.0,1388.6 L1698.5,1388.7 L1700.0,1388.7 L1701.5,1389.0 L1703.0,1389.3 L1704.5,1389.0 L1706.0,1389.0 L1707.5,1389.2 L1709.0,1389.5 L1710.5,1389.4 L1712.0,1389.7 L1713.5,1389.8 L1715.0,1389.7 L1716.5,1389.7 L1718.0,1390.0 L1719.5,1389.9 L1721.0,1390.1 L1722.5,1390.4 L1724.0,1390.3 L1725.5,1390.2 L1727.0,1390.5 L1728.5,1390.4 L1730.0,1390.9 L1731.5,1390.8 L1733.0,1390.8 L1734.5,1391.0 L1736.0,1391.0 L1737.5,1391.0 L1739.0,1391.1 L1740.5,1391.3 L1742.0,1391.3 L1743.5,1391.4 L1745.0,1391.6 L1746.5,1391.8 L1748.0,1391.7 L1749.5,1391.9 L1751.0,1391.8 L1752.5,1391.8 L1754.0,1392.3 L1755.5,1392.4 L1757.0,1392.2 L1758.5,1392.3 L1760.0,1392.4 L1763.1,1392.7 L1766.2,1393.0 L1769.2,1393.2 L1772.3,1393.2 L1775.4,1393.6 L1778.5,1393.6 L1781.5,1394.0 L1784.6,1394.3 L1787.7,1394.5 L1790.8,1394.4 L1793.8,1394.8 L1796.9,1395.1 L1800.0,1395.3 L1803.1,1395.3 L1806.2,1395.5 L1809.2,1395.7 L1812.3,1395.5 L1815.4,1395.8 L1818.5,1396.1 L1821.5,1396.0 L1824.6,1396.0 L1827.7,1396.3 L1830.8,1396.3 L1833.8,1396.3 L1836.9,1396.1 L1840.0,1396.5 L1843.0,1396.6 L1845.9,1396.7 L1848.9,1396.8 L1851.9,1396.5 L1854.9,1396.6 L1857.8,1396.8 L1860.8,1397.0 L1863.8,1396.8 L1866.8,1396.9 L1869.7,1397.1 L1872.7,1397.1 L1875.7,1397.2 L1878.6,1397.2 L1881.6,1397.3 L1884.6,1397.1 L1887.6,1397.4 L1890.5,1397.5 L1893.5,1397.4 L1896.5,1397.4 L1899.5,1397.8 L1902.4,1397.7 L1905.4,1397.7 L1908.4,1397.8 L1911.4,1398.0 L1914.3,1397.8 L1917.3,1398.1 L1920.3,1398.0 L1923.2,1398.0 L1926.2,1398.0 L1929.2,1398.3 L1932.2,1398.3 L1935.1,1398.3 L1938.1,1398.2 L1941.1,1398.3 L1944.1,1398.4 L1947.0,1398.3 L1950.0,1398.4 L1952.9,1398.5 L1955.9,1398.7 L1958.8,1398.8 L1961.8,1398.8 L1964.7,1399.0 L1967.6,1399.2 L1970.6,1399.0 L1973.5,1399.3 L1976.5,1399.2 L1979.4,1399.5 L1982.4,1399.2 L1985.3,1399.6 L1988.2,1399.4 L1991.2,1399.7 L1994.1,1399.8 L1997.1,1399.9 L2000.0,1400.1 L2003.0,1399.9 L2006.0,1400.1 L2008.9,1400.2 L2011.9,1400.2 L2014.9,1400.3 L2017.9,1400.3 L2020.9,1400.4 L2023.8,1400.3 L2026.8,1400.3 L2029.8,1400.4 L2032.8,1400.7 L2035.7,1400.7 L2038.7,1400.6 L2041.7,1400.6 L2044.7,1400.9 L2047.7,1400.9 L2050.6,1400.9 L2053.6,1401.0 L2056.6,1401.0 L2059.6,1401.2 L2062.6,1401.0 L2065.5,1401.1 L2068.5,1401.2 L2071.5,1401.3 L2074.5,1401.2 L2077.4,1401.2 L2080.4,1401.5 L2083.4,1401.6 L2086.4,1401.4 L2089.4,1401.5 L2092.3,1401.7 L2095.3,1401.6 L2098.3,1401.8 L2101.3,1401.8 L2104.3,1401.8 L2107.2,1402.1 L2110.2,1401.9 L2113.2,1401.9 L2116.2,1402.1 L2119.1,1402.2 L2122.1,1402.0 L2125.1,1402.1 L2128.1,1402.1 L2131.1,1402.3 L2134.0,1402.1 L2137.0,1402.4 L2140.0,1402.5 L2143.0,1402.4 L2146.0,1402.4 L2148.9,1402.5 L2151.9,1402.4 L2154.9,1402.6 L2157.9,1402.6 L2160.9,1402.6 L2163.9,1402.9 L2166.8,1402.7 L2169.8,1402.7 L2172.8,1402.5 L2175.8,1402.9 L2178.8,1402.9 L2181.8,1403.0 L2184.7,1402.9 L2187.7,1403.0 L2190.7,1403.0 L2193.7,1403.3 L2196.7,1403.2 L2199.6,1402.9 L2202.6,1403.4 L2205.6,1403.4 L2208.6,1403.2 L2211.6,1403.1 L2214.6,1403.2 L2217.5,1403.1 L2220.5,1403.3 L2223.5,1403.5 L2226.5,1403.5 L2229.5,1403.4 L2232.5,1403.6 L2235.4,1403.6 L2238.4,1403.6 L2241.4,1403.7 L2244.4,1403.9 L2247.4,1403.8 L2250.4,1403.9 L2253.3,1403.9 L2256.3,1403.8 L2259.3,1404.0 L2262.3,1403.9 L2265.3,1403.9 L2268.2,1404.0 L2271.2,1404.1 L2274.2,1404.2 L2277.2,1404.1 L2280.2,1404.0 L2283.2,1404.2 L2286.1,1404.2 L2289.1,1404.3 L2292.1,1404.3 L2295.1,1404.3 L2298.1,1404.4 L2301.1,1404.5 L2304.0,1404.5 L2307.0,1404.5 L2310.0,1404.5" stroke="#008080" stroke-width="3.0"/>
<path d="M487.0,1407.5 L600.0,1407.5 L614.9,1406.4 L616.4,1406.0 L617.9,1405.6 L619.4,1405.2 L620.9,1404.0 L622.3,1404.9 L623.8,1404.2 L625.3,1404.1 L627.0,1401.9 L628.6,1400.6 L630.2,1398.7 L631.9,1397.0 L633.2,1394.0 L634.5,1390.2 L635.8,1387.3 L637.1,1384.3 L637.5,1381.1 L638.0,1377.9 L638.4,1375.9 L638.8,1372.0 L639.3,1368.7 L639.7,1365.9 L640.0,1362.4 L640.4,1359.2 L640.7,1355.9 L641.0,1353.6 L641.3,1349.5 L641.7,1346.3 L642.0,1343.3 L642.3,1340.3 L642.6,1336.4 L643.0,1332.9 L643.3,1330.9 L643.6,1326.1 L643.9,1323.2 L644.3,1320.4 L644.6,1317.8 L644.9,1313.3 L645.2,1309.5 L645.5,1307.6 L645.7,1304.0 L646.0,1300.9 L646.2,1298.1 L646.5,1294.9 L646.8,1291.8 L647.0,1288.3 L647.3,1285.9 L647.5,1282.6 L647.8,1279.0 L648.0,1275.5 L648.2,1272.7 L648.4,1269.4 L648.6,1265.5 L648.8,1262.4 L649.1,1259.8 L649.3,1256.1 L649.5,1252.7 L649.7,1249.6 L649.9,1246.3 L650.2,1243.0 L650.3,1238.9 L650.5,1236.9 L650.7,1232.9 L650.9,1229.1 L651.1,1226.4 L651.3,1222.8 L651.4,1219.3 L651.6,1216.3 L651.8,1213.4 L652.0,1209.2 L652.2,1206.4 L652.3,1203.4 L652.5,1198.8 L652.7,1195.8 L652.9,1193.0 L653.0,1188.8 L653.2,1186.1 L653.4,1183.4 L653.6,1180.1 L653.7,1176.6 L653.9,1172.4 L654.1,1170.5 L654.3,1166.7 L654.5,1163.4 L654.7,1159.9 L654.9,1155.6 L655.1,1152.3 L655.3,1149.0 L655.5,1146.8 L655.7,1142.3 L656.0,1139.2 L656.2,1135.8 L656.3,1133.0 L656.5,1129.8 L656.7,1126.6 L656.9,1122.8 L657.1,1119.0 L657.3,1117.1 L657.4,1114.0 L657.6,1111.3 L657.8,1107.6 L658.0,1104.4 L658.1,1101.4 L658.3,1097.4 L658.5,1094.3 L658.6,1091.1 L658.8,1088.3 L658.9,1085.8 L659.1,1082.0 L659.2,1078.9 L659.4,1075.2 L659.5,1072.0 L659.7,1068.4 L659.8,1065.3 L660.0,1061.1 L660.1,1058.3 L660.2,1055.0 L660.3,1052.6 L660.5,1049.3 L660.6,1046.2 L660.7,1043.1 L660.9,1039.1 L661.0,1036.4 L661.1,1033.4 L661.3,1029.4 L661.4,1026.4 L661.5,1022.8 L661.7,1019.0 L661.8,1016.4 L661.9,1012.7 L662.0,1009.8 L662.2,1006.3 L662.3,1003.4 L662.4,999.4 L662.4,987.5 L662.7,985.0 L663.0,981.5 L663.2,977.5 L663.5,974.0 L663.7,971.1 L664.0,968.1 L664.3,964.8 L664.5,961.4 L664.7,957.1 L664.9,954.0 L665.1,951.6 L665.3,947.7 L665.5,943.6 L665.7,940.5 L665.9,936.8 L666.1,933.6 L666.3,931.0 L666.5,927.1 L666.7,924.2 L666.9,920.4 L667.1,916.5 L667.3,913.4 L667.4,911.4 L667.5,906.9 L667.6,903.6 L667.8,901.3 L667.9,897.6 L668.0,894.3 L668.1,891.7 L668.2,887.1 L668.4,884.8 L668.5,881.0 L668.6,877.6 L668.7,874.6 L668.9,872.2 L669.0,868.4 L669.1,864.5 L669.2,861.7 L669.5,859.4 L669.7,855.9 L669.9,851.8 L670.1,849.9 L670.4,845.5 L670.6,841.9 L670.8,839.1 L671.1,836.2 L671.3,833.3 L671.5,829.8 L671.7,825.9 L672.0,822.6 L672.2,819.0 L672.4,816.3 L672.7,812.8 L672.9,809.8 L673.1,806.1 L673.3,803.3 L673.5,800.0 L673.7,796.7 L673.9,793.6 L674.1,790.5 L674.4,787.3 L674.6,784.9 L674.8,781.6 L675.0,778.0 L675.1,775.3 L675.2,772.0 L675.3,769.2 L675.4,765.3 L675.5,762.0 L675.6,758.5 L675.7,755.6 L675.9,752.5 L676.0,749.1 L676.1,745.6 L676.2,742.7 L676.3,739.2 L676.5,736.0 L676.7,732.3 L677.0,729.5 L677.2,725.7 L677.4,722.5 L677.7,719.7 L677.9,717.2 L678.1,713.4 L678.3,709.8 L678.5,706.5 L678.7,703.7 L678.9,700.4 L678.9,678.9 L679.0,676.3 L679.1,672.6 L679.1,669.6 L679.2,666.2 L679.3,663.1 L679.4,659.8 L679.5,656.9 L679.5,652.9 L679.6,650.2 L679.7,647.7 L679.8,644.0 L680.0,641.4 L680.1,637.4 L680.3,634.6 L680.4,631.8 L680.6,628.0 L680.7,624.9 L680.8,623.0 L681.0,618.6 L681.2,615.4 L681.4,612.3 L681.5,609.4 L681.7,606.3 L681.9,603.5 L682.1,600.3 L682.3,596.7 L682.5,593.6 L682.6,590.0 L682.8,587.0 L683.1,580.3 L683.4,584.5 L683.7,578.0 L684.0,578.1 L684.3,575.5 L684.6,566.5 L684.9,571.5 L685.3,559.8 L685.7,557.8 L686.0,557.3 L686.4,563.8 L686.8,555.8 L687.2,551.2 L687.5,555.0 L687.6,560.8 L687.7,555.9 L687.8,556.7 L687.9,565.1 L688.0,566.1 L688.1,567.4 L688.2,560.2 L688.3,567.0 L688.4,569.0 L688.5,559.4 L688.6,576.3 L688.7,572.1 L688.8,571.4 L688.9,586.2 L689.0,576.9 L689.1,574.0 L689.2,578.9 L689.3,583.6 L689.4,585.1 L689.4,580.4 L689.4,574.7 L689.5,574.1 L689.5,571.9 L689.5,569.2 L689.6,572.9 L689.6,569.0 L689.7,570.2 L689.7,564.2 L689.7,562.4 L689.8,564.4 L689.8,562.0 L689.9,568.1 L689.9,556.1 L689.9,560.2 L690.0,557.4 L690.0,549.4 L690.0,558.3 L690.1,553.9 L690.1,540.8 L690.2,553.0 L690.2,553.2 L690.2,542.8 L690.3,554.0 L690.3,544.6 L690.4,536.4 L690.4,543.6 L690.4,537.3 L690.5,530.8 L690.5,525.2 L690.5,535.8 L690.6,529.3 L690.6,534.8 L690.7,531.3 L690.9,525.8 L691.1,524.2 L691.3,534.4 L691.5,532.6 L691.7,526.2 L692.0,519.0 L692.2,514.3 L692.4,515.8 L692.6,524.7 L692.8,517.1 L693.1,511.7 L693.3,507.3 L693.5,514.0 L693.7,510.1 L694.0,516.1 L694.2,521.3 L694.4,524.4 L694.7,521.1 L694.9,520.1 L695.1,524.4 L695.4,531.2 L695.5,525.1 L695.6,514.5 L695.7,528.0 L695.8,519.9 L695.9,534.8 L696.0,513.1 L696.1,513.5 L696.2,510.9 L696.4,512.8 L696.5,506.4 L696.6,500.3 L696.7,496.5 L696.8,504.1 L696.9,500.6 L697.0,498.7 L697.1,510.9 L697.2,502.6 L697.3,502.6 L697.5,493.7 L697.5,498.5 L697.6,497.5 L697.6,499.1 L697.7,505.4 L697.7,506.2 L697.8,506.3 L697.8,507.0 L697.9,500.5 L698.0,505.6 L698.0,512.8 L698.1,510.6 L698.1,510.0 L698.2,517.3 L698.2,512.3 L698.3,515.2 L698.3,524.6 L698.4,519.8 L698.4,530.5 L698.5,526.6 L698.8,530.3 L699.1,533.5 L699.4,518.2 L699.7,530.3 L700.0,525.6 L700.3,531.3 L700.6,534.8 L700.7,543.1 L700.7,538.1 L700.8,548.2 L700.9,538.8 L701.0,542.7 L701.0,545.1 L701.1,551.0 L701.2,547.5 L701.2,546.2 L701.3,549.2 L701.4,545.3 L701.5,560.4 L701.5,559.4 L701.6,559.3 L701.7,560.1 L701.8,557.2 L701.8,559.8 L701.9,567.5 L702.0,561.0 L702.1,562.6 L702.1,576.1 L702.2,577.6 L702.3,572.7 L702.3,575.5 L702.4,575.0 L702.5,580.0 L702.6,569.0 L702.7,570.1 L702.8,570.6 L702.9,573.8 L703.0,563.7 L703.1,564.6 L703.2,559.4 L703.2,557.0 L703.3,555.4 L703.4,557.6 L703.5,560.1 L703.6,550.5 L703.7,549.4 L703.8,548.8 L703.9,551.1 L704.0,551.3 L704.1,539.9 L704.2,546.4 L704.2,539.5 L705.0,545.3 L705.7,535.6 L706.4,533.7 L707.1,535.3 L707.2,539.0 L707.2,535.8 L707.3,543.4 L707.4,544.6 L707.4,545.8 L707.5,548.3 L707.5,552.8 L707.6,546.3 L707.7,551.5 L707.7,552.8 L707.8,544.2 L707.8,558.0 L707.9,553.7 L708.0,555.4 L708.0,558.3 L708.1,562.6 L708.1,565.3 L708.2,567.5 L708.2,563.2 L708.3,571.6 L708.4,571.8 L708.4,569.2 L708.5,572.6 L708.5,578.2 L708.6,577.9 L708.7,580.7 L708.7,579.3 L708.8,586.0 L708.8,592.9 L708.9,585.6 L709.0,579.2 L709.1,591.9 L709.2,578.9 L709.3,573.3 L709.5,566.8 L709.6,579.2 L709.7,581.0 L709.8,579.0 L709.9,570.5 L710.1,578.1 L710.2,568.9 L710.3,564.8 L710.4,566.5 L710.6,565.7 L710.7,563.3 L710.8,563.5 L710.9,549.0 L711.1,566.2 L711.2,554.0 L711.3,558.5 L711.4,549.7 L711.6,552.7 L711.8,552.8 L712.0,547.3 L712.2,558.6 L712.4,561.4 L712.6,554.1 L712.8,550.7 L713.0,559.5 L713.2,560.0 L713.4,566.3 L713.6,567.2 L713.8,576.8 L714.0,573.5 L714.2,570.9 L714.3,574.1 L714.3,560.4 L714.4,571.8 L714.5,573.2 L714.6,578.8 L714.7,582.4 L714.8,583.4 L714.8,588.6 L714.9,581.9 L715.0,588.4 L715.1,587.8 L715.2,590.0 L715.3,593.1 L715.3,591.5 L715.4,595.5 L715.5,595.8 L715.6,602.6 L715.7,598.4 L715.7,601.6 L716.0,614.9 L716.3,606.5 L716.5,607.4 L716.8,611.7 L717.1,602.7 L717.3,612.8 L717.6,614.4 L717.8,614.3 L718.1,617.0 L718.2,619.0 L718.4,622.5 L718.5,614.9 L718.6,621.7 L718.8,618.3 L718.9,628.7 L719.0,624.7 L719.1,619.0 L719.3,627.6 L719.4,623.5 L719.5,634.9 L719.7,629.8 L719.8,622.1 L719.9,633.1 L720.0,641.2 L720.1,639.3 L720.2,636.0 L720.2,644.0 L720.3,645.2 L720.4,651.2 L720.5,650.0 L720.6,648.9 L720.6,644.7 L720.7,651.6 L720.8,653.2 L720.9,653.4 L720.9,657.0 L721.0,650.5 L721.1,660.9 L721.2,659.6 L721.3,662.9 L721.3,662.2 L721.4,662.8 L721.5,666.7 L721.8,668.3 L722.0,661.3 L722.3,663.0 L722.5,656.1 L722.8,660.5 L723.1,657.0 L723.3,650.9 L723.4,662.7 L723.4,654.0 L723.5,660.4 L723.5,655.0 L723.6,654.5 L723.6,667.9 L723.7,659.2 L723.8,657.4 L723.8,668.2 L723.9,663.1 L723.9,671.3 L724.0,682.9 L724.0,673.4 L724.1,678.7 L724.1,681.2 L724.2,681.2 L724.2,680.9 L724.3,690.5 L724.3,684.2 L724.4,687.9 L724.5,688.2 L724.5,682.9 L724.6,692.3 L724.6,692.6 L724.7,697.0 L724.7,698.8 L724.8,704.7 L724.8,689.0 L724.9,697.2 L724.9,699.2 L725.0,698.8 L725.0,706.6 L725.1,705.7 L725.2,708.1 L725.4,701.1 L725.6,705.9 L725.8,711.8 L726.1,711.4 L726.3,712.1 L726.5,716.0 L726.7,717.2 L726.8,711.3 L726.8,723.3 L726.9,710.1 L726.9,715.2 L726.9,713.4 L727.0,713.6 L727.0,704.5 L727.1,700.8 L727.1,706.4 L727.2,704.0 L727.2,689.5 L727.3,686.7 L727.3,695.4 L727.3,694.6 L727.4,693.7 L727.4,695.5 L727.5,687.1 L727.5,703.4 L727.6,693.3 L727.6,693.7 L727.7,687.1 L727.7,673.9 L727.7,683.8 L727.8,678.4 L727.8,681.7 L727.9,677.4 L727.9,679.8 L728.0,670.6 L728.0,671.6 L728.1,671.9 L728.1,666.6 L728.2,666.5 L728.2,670.2 L728.2,675.2 L728.3,663.1 L728.3,666.7 L728.4,655.4 L728.4,657.2 L728.5,659.6 L728.5,659.3 L728.6,651.3 L728.7,659.3 L728.8,658.5 L728.9,665.8 L729.0,665.4 L729.1,664.9 L729.3,661.8 L729.4,666.5 L729.5,662.4 L729.6,664.1 L729.7,660.5 L729.9,666.6 L729.9,752.3 L729.9,773.2 L729.9,768.5 L730.0,775.8 L730.0,778.4 L730.1,772.8 L730.1,780.5 L730.2,784.6 L730.2,788.7 L730.3,785.2 L730.3,788.3 L730.4,787.0 L730.4,795.0 L730.5,784.3 L730.5,794.7 L730.6,783.7 L730.6,805.1 L730.7,802.8 L730.7,789.4 L730.8,798.8 L730.9,796.0 L730.9,795.8 L731.0,804.0 L731.0,803.3 L731.1,814.3 L731.1,808.2 L731.2,808.5 L731.3,810.4 L731.3,811.3 L731.4,811.8 L731.5,808.7 L731.6,797.3 L731.7,799.1 L731.8,800.7 L731.9,795.9 L732.0,802.2 L732.1,795.3 L732.2,795.1 L732.2,792.1 L732.3,792.6 L732.4,783.5 L732.5,799.7 L732.6,785.0 L732.7,782.7 L732.8,776.0 L732.9,782.8 L733.0,774.9 L733.1,781.7 L733.1,784.5 L733.2,780.1 L733.3,773.4 L733.4,780.3 L733.5,771.5 L733.6,770.7 L733.7,769.7 L733.8,766.3 L733.8,771.5 L733.9,764.8 L734.0,763.7 L734.0,779.8 L734.1,771.8 L734.1,775.2 L734.2,780.1 L734.3,777.7 L734.3,775.7 L734.4,782.1 L734.4,779.9 L734.5,788.8 L734.5,785.4 L734.6,787.8 L734.7,794.4 L734.7,784.5 L734.8,786.3 L734.8,798.8 L734.9,802.9 L735.0,798.7 L735.0,796.3 L735.1,807.3 L735.1,805.3 L735.2,809.3 L735.3,796.9 L735.3,806.7 L735.4,803.8 L735.4,805.0 L735.5,814.7 L735.5,817.0 L735.6,813.3 L735.7,812.1 L735.8,818.5 L735.9,813.4 L736.0,808.0 L736.1,809.6 L736.2,806.0 L736.3,797.7 L736.4,799.8 L736.5,802.2 L736.7,802.3 L736.8,791.8 L736.9,792.1 L737.0,791.6 L737.1,785.5 L737.2,795.2 L737.2,795.2 L737.3,800.9 L737.3,785.2 L737.4,793.5 L737.4,807.9 L737.5,793.6 L737.5,793.1 L737.6,804.7 L737.6,812.8 L737.7,809.8 L737.7,803.4 L737.8,812.4 L737.8,813.2 L737.9,814.0 L737.9,816.2 L738.0,819.8 L738.0,823.0 L738.1,825.6 L738.1,825.6 L738.2,821.2 L738.2,814.3 L738.3,827.6 L738.3,819.1 L738.4,839.2 L738.4,823.8 L738.5,821.9 L738.5,823.5 L738.6,836.0 L738.6,837.1 L738.7,840.3 L738.8,840.1 L738.8,836.3 L738.9,845.7 L738.9,839.8 L739.0,837.3 L739.0,849.4 L739.2,850.3 L739.4,844.6 L739.6,849.4 L739.8,857.1 L740.0,858.1 L740.2,849.7 L740.4,861.9 L740.6,845.1 L740.8,859.7 L740.9,859.7 L741.0,855.7 L741.1,855.3 L741.1,845.3 L741.2,851.0 L741.3,852.6 L741.3,844.0 L741.4,847.8 L741.5,844.7 L741.6,832.9 L741.6,839.5 L741.7,843.8 L741.8,831.8 L741.8,838.0 L741.9,838.0 L742.0,828.5 L742.1,832.1 L742.1,836.2 L742.2,833.8 L742.3,823.8 L742.3,832.2 L742.4,827.3 L742.5,824.7 L742.6,830.0 L742.6,824.7 L742.7,821.3 L742.8,822.7 L742.9,819.7 L742.9,819.3 L743.2,812.9 L743.5,803.2 L743.8,818.1 L744.1,812.9 L744.4,810.1 L744.7,806.2 L745.0,804.2 L745.1,806.5 L745.2,802.9 L745.3,812.9 L745.4,811.1 L745.6,807.5 L745.7,815.0 L745.8,813.6 L745.9,816.7 L746.0,821.0 L746.1,833.2 L746.2,816.2 L746.3,825.0 L746.4,828.0 L746.5,828.1 L746.6,834.9 L746.7,827.0 L746.8,829.5 L747.0,829.1 L747.1,820.8 L747.3,831.5 L747.5,818.4 L747.6,825.7 L747.8,827.4 L747.9,815.8 L748.1,817.6 L748.2,815.9 L748.4,823.9 L748.5,815.2 L748.7,806.3 L748.8,819.2 L749.0,820.6 L749.1,807.2 L749.2,805.2 L749.4,833.1 L749.5,822.2 L749.6,812.8 L749.8,830.1 L749.9,833.5 L750.1,816.2 L750.2,835.9 L750.3,834.7 L750.5,832.6 L750.6,830.8 L750.8,837.2 L751.0,833.4 L751.2,839.7 L751.4,839.2 L751.6,839.8 L751.9,846.2 L752.1,849.9 L752.3,850.9 L752.5,850.3 L752.7,857.9 L752.9,844.9 L753.2,853.0 L753.4,854.8 L753.6,861.8 L753.9,846.1 L754.2,856.7 L754.4,858.9 L754.7,863.0 L754.9,874.8 L755.2,866.3 L755.5,866.2 L755.7,870.4 L756.0,873.3 L756.1,870.5 L756.1,881.2 L756.2,868.4 L756.3,882.1 L756.3,881.0 L756.4,883.9 L756.4,888.2 L756.5,880.8 L756.6,885.6 L756.6,886.4 L756.7,883.6 L756.8,885.5 L757.8,886.9 L757.8,736.6 L758.6,738.0 L758.9,732.9 L759.2,737.0 L759.5,742.0 L759.8,746.7 L760.1,745.0 L760.3,750.0 L760.6,748.6 L760.9,749.2 L761.2,749.7 L762.0,752.2 L762.8,755.3 L763.6,750.9 L764.4,747.7 L765.1,750.6 L765.3,748.1 L765.5,750.4 L765.7,757.5 L765.8,757.6 L766.0,760.7 L766.2,760.7 L766.4,761.6 L766.5,764.0 L766.7,764.6 L766.9,769.6 L767.1,765.7 L767.2,766.0 L767.4,770.3 L767.6,776.2 L767.8,774.9 L767.9,772.0 L768.1,786.1 L768.3,778.8 L768.4,782.3 L768.6,785.9 L768.8,787.1 L769.0,787.6 L769.1,786.0 L769.3,792.7 L769.5,790.9 L769.7,794.5 L769.8,798.5 L770.0,797.5 L770.2,795.9 L770.4,800.9 L770.5,801.6 L770.6,800.1 L770.7,793.5 L770.8,794.9 L771.0,793.7 L771.1,793.8 L771.2,790.4 L771.3,788.0 L771.4,785.1 L771.6,785.2 L771.7,784.2 L771.8,780.2 L771.9,778.1 L772.0,781.1 L772.1,775.1 L772.3,771.5 L772.4,773.2 L772.5,766.9 L772.6,765.5 L772.7,768.5 L772.9,764.5 L773.0,764.0 L773.1,766.4 L773.3,764.5 L773.5,769.3 L773.6,769.0 L773.8,772.2 L774.0,774.1 L774.1,775.1 L774.3,774.0 L774.4,779.6 L774.6,780.7 L774.8,783.7 L774.9,781.8 L775.1,786.5 L775.3,787.4 L775.4,788.6 L775.6,791.0 L776.4,791.9 L777.2,790.3 L777.9,793.3 L778.7,794.5 L779.5,797.5 L779.9,798.1 L780.4,803.5 L780.8,803.3 L781.3,804.4 L781.7,805.9 L782.1,804.8 L782.9,807.0 L783.7,808.0 L784.5,801.6 L785.3,806.1 L786.0,802.9 L786.5,804.2 L787.0,804.2 L787.5,806.9 L788.0,806.6 L788.5,810.0 L789.0,811.8 L789.5,813.5 L790.0,813.0 L790.7,817.5 L791.5,814.2 L792.2,817.0 L792.9,817.9 L793.7,816.4 L794.4,823.0 L795.2,817.8 L795.8,820.2 L796.5,820.3 L797.1,823.3 L797.8,821.1 L798.5,827.3 L799.1,826.5 L799.8,827.8 L800.4,831.9 L801.2,831.1 L801.9,826.3 L802.7,823.2 L803.4,819.2 L804.1,819.9 L804.9,821.7 L805.6,819.9 L805.9,817.7 L806.1,822.6 L806.4,826.7 L806.6,824.2 L806.8,826.5 L807.1,827.5 L807.3,832.3 L807.5,828.7 L807.8,834.6 L808.0,837.8 L808.3,838.4 L808.9,839.0 L809.6,836.5 L810.2,832.1 L810.9,829.2 L811.5,827.3 L812.2,828.9 L812.6,829.5 L813.0,831.8 L813.5,831.1 L813.9,837.7 L814.4,838.8 L814.8,839.7 L815.6,834.6 L816.4,842.0 L817.1,836.6 L817.9,830.7 L818.7,833.6 L819.5,831.9 L820.2,830.5 L820.9,830.7 L821.7,833.9 L822.4,833.6 L823.2,833.6 L823.9,832.9 L824.7,829.4 L825.4,830.9 L826.2,828.2 L826.9,826.8 L827.7,827.2 L828.4,828.3 L829.2,821.8 L829.5,826.8 L829.8,824.6 L830.1,830.0 L830.5,831.3 L830.8,831.6 L831.1,833.8 L831.4,833.2 L831.8,836.0 L832.1,840.7 L832.4,842.0 L832.8,847.3 L833.1,842.1 L833.4,841.0 L833.7,840.7 L834.1,839.0 L834.4,836.0 L834.7,834.6 L835.0,833.7 L835.4,835.3 L835.7,830.5 L836.5,829.4 L837.3,832.4 L838.0,826.1 L838.8,830.7 L839.6,832.2 L840.0,832.3 L840.4,824.6 L840.7,827.7 L841.1,824.0 L841.5,827.2 L841.9,825.1 L842.2,820.8 L843.0,821.7 L843.7,816.9 L844.5,819.2 L845.2,818.4 L846.0,819.3 L846.7,814.9 L847.5,811.5 L847.9,815.1 L848.3,809.0 L848.8,808.5 L849.2,807.2 L849.6,810.1 L850.1,804.4 L850.5,805.5 L850.9,801.2 L851.4,797.0 L851.6,802.2 L851.9,804.2 L852.2,803.5 L852.4,803.0 L852.7,815.1 L852.9,815.3 L853.2,813.1 L853.5,815.0 L853.7,818.0 L854.0,818.6 L854.1,812.4 L854.2,810.9 L854.2,814.3 L854.3,813.8 L854.4,811.4 L854.5,809.1 L854.6,805.4 L854.7,805.9 L854.8,805.5 L854.9,801.4 L854.9,801.4 L855.0,799.5 L855.1,793.3 L855.2,796.0 L855.3,790.2 L856.1,790.9 L856.9,798.4 L857.6,792.3 L858.4,797.3 L859.2,800.8 L859.9,798.5 L860.5,794.9 L861.2,791.9 L861.8,793.5 L862.5,791.8 L863.1,788.7 L863.5,784.9 L863.8,782.2 L864.1,783.9 L864.4,782.2 L864.8,782.6 L865.1,778.3 L865.4,779.5 L865.7,773.8 L865.9,773.5 L866.1,781.4 L866.2,779.9 L866.4,780.7 L866.6,784.0 L866.7,783.2 L866.9,787.0 L867.1,786.3 L867.2,791.6 L867.4,791.6 L867.5,794.5 L867.7,796.4 L867.9,799.1 L868.0,795.8 L868.2,801.9 L868.4,802.8 L868.4,798.8 L868.5,799.2 L868.5,799.2 L868.6,797.4 L868.6,799.2 L868.7,792.1 L868.7,791.5 L868.8,793.9 L868.8,786.3 L868.9,784.1 L868.9,783.2 L869.0,781.2 L869.0,780.7 L869.1,779.4 L869.1,775.6 L869.2,773.0 L869.2,773.8 L869.3,769.3 L869.4,768.6 L869.4,769.5 L869.5,766.8 L869.5,763.0 L869.6,760.2 L869.6,759.5 L869.7,757.7 L870.5,762.9 L871.2,765.0 L872.0,765.5 L872.8,767.1 L873.6,767.1 L874.4,767.0 L875.2,765.5 L875.9,764.1 L876.7,761.6 L877.5,759.7 L878.4,763.8 L879.2,765.8 L880.1,764.8 L880.5,764.4 L880.9,763.2 L881.3,762.7 L881.7,755.9 L882.1,754.9 L882.5,753.3 L882.9,751.9 L883.3,750.5 L883.6,753.3 L884.0,747.8 L884.4,753.0 L884.7,747.0 L885.0,746.4 L885.3,743.0 L885.7,743.5 L886.0,740.7 L886.3,740.1 L886.7,737.5 L887.4,737.5 L888.2,736.4 L889.0,737.6 L889.8,734.5 L890.6,733.1 L891.0,735.9 L891.4,729.4 L891.9,729.7 L892.3,731.9 L892.7,723.8 L893.2,722.9 L893.6,720.2 L894.1,717.9 L894.5,719.3 L895.2,717.1 L896.0,717.1 L896.7,712.1 L897.5,716.4 L898.2,712.9 L899.0,709.3 L899.7,711.9 L899.8,711.1 L900.0,720.2 L900.1,714.3 L900.2,720.6 L900.4,719.2 L900.5,721.5 L900.6,722.1 L900.8,729.6 L900.9,726.0 L901.0,728.8 L901.2,732.5 L901.3,732.8 L901.4,737.0 L901.5,735.4 L901.7,735.0 L901.8,741.2 L901.9,741.5 L902.1,738.2 L902.2,733.3 L902.3,736.1 L902.5,733.5 L902.6,729.0 L902.7,729.1 L902.9,726.3 L903.0,724.8 L903.1,724.3 L903.2,723.0 L903.4,719.4 L903.5,717.6 L903.6,711.7 L903.8,712.1 L903.9,713.3 L904.0,708.7 L904.1,709.6 L904.2,706.6 L904.3,705.5 L904.4,703.8 L904.6,704.9 L904.7,701.3 L904.8,698.5 L904.9,694.0 L905.0,695.8 L905.1,690.8 L905.2,694.4 L905.4,688.2 L905.5,687.1 L906.3,688.8 L907.0,687.9 L907.8,692.5 L908.6,693.2 L909.4,692.0 L910.2,693.7 L910.7,697.1 L911.2,693.9 L911.7,690.8 L912.3,688.5 L912.8,689.6 L913.3,683.5 L913.8,682.1 L914.4,680.7 L914.9,676.9 L915.4,676.2 L916.1,683.4 L916.7,681.0 L917.4,680.2 L918.0,683.2 L918.7,684.1 L919.3,686.1 L919.6,684.9 L919.8,680.0 L920.1,677.5 L920.4,679.5 L920.6,677.7 L920.9,673.8 L921.1,674.6 L921.4,671.8 L921.7,671.9 L921.9,669.2 L922.2,670.5 L922.5,669.5 L922.7,665.6 L923.1,666.4 L923.5,670.1 L923.9,671.6 L924.3,672.8 L924.7,675.3 L925.1,674.5 L925.5,678.9 L925.9,679.8 L926.3,678.1 L926.8,675.0 L927.3,672.6 L927.8,673.1 L928.3,668.8 L928.8,665.7 L929.3,670.2 L929.8,666.5 L930.6,662.0 L931.4,666.1 L932.2,657.4 L933.0,662.7 L933.9,662.1 L934.7,660.3 L935.5,658.4 L936.3,659.3 L937.0,658.9 L937.8,654.7 L938.5,655.3 L939.3,658.9 L940.0,657.9 L940.8,653.2 L941.5,653.1 L942.3,655.3 L943.0,651.3 L943.8,650.4 L944.5,649.8 L945.3,650.4 L946.0,644.1 L946.8,648.8 L947.5,645.6 L948.2,647.5 L949.0,641.6 L949.7,641.1 L950.5,643.1 L951.2,643.2 L952.0,639.7 L952.8,637.7 L953.6,640.2 L954.3,638.3 L955.1,635.2 L955.9,632.8 L956.1,637.8 L956.3,638.2 L956.5,637.5 L956.6,643.3 L956.8,644.2 L957.0,643.8 L957.2,645.7 L957.9,645.0 L958.5,640.5 L959.2,637.0 L959.8,640.8 L960.5,632.6 L961.1,632.1 L961.9,630.0 L962.6,633.1 L963.4,633.0 L964.1,627.8 L964.9,631.0 L965.6,630.5 L966.4,627.6 L966.8,624.3 L967.3,632.0 L967.8,636.1 L968.3,630.5 L968.8,630.7 L969.3,639.1 L969.8,639.2 L970.3,639.7 L970.8,638.0 L971.3,632.6 L971.7,632.9 L972.2,633.7 L972.7,632.7 L973.2,632.1 L973.7,630.5 L974.2,625.9 L974.6,628.2 L975.0,633.4 L975.4,628.7 L975.8,634.8 L976.2,633.3 L976.6,637.5 L977.0,642.9 L977.4,641.3 L977.8,641.1 L978.2,642.2 L978.6,642.3 L979.0,647.2 L979.4,645.3 L979.8,647.1 L980.3,646.0 L980.7,641.9 L981.1,640.6 L981.5,643.5 L982.0,642.0 L982.4,642.2 L982.8,637.7 L983.6,637.7 L984.3,637.5 L985.0,642.0 L985.8,641.8 L986.5,641.7 L987.3,645.3 L988.1,642.5 L988.9,643.8 L989.7,646.4 L990.5,645.5 L991.3,645.0 L992.2,647.7 L993.0,652.2 L993.8,645.8 L994.5,647.6 L995.3,646.6 L996.0,645.6 L996.8,648.7 L997.5,644.3 L998.3,648.0 L999.0,642.1 L999.8,645.1 L1000.5,644.1 L1001.3,647.9 L1002.0,649.8 L1002.8,650.6 L1003.5,651.0 L1004.2,651.1 L1005.0,648.4 L1005.8,652.9 L1006.6,650.6 L1007.4,652.1 L1007.6,648.1 L1007.9,653.2 L1008.1,651.6 L1008.4,659.9 L1008.6,657.4 L1008.8,658.5 L1009.1,664.7 L1009.3,664.2 L1009.6,666.8 L1009.8,667.7 L1010.1,672.3 L1010.3,672.2 L1010.5,673.9 L1010.8,675.0 L1011.3,675.5 L1011.8,674.1 L1012.2,668.9 L1012.7,669.9 L1013.2,662.6 L1013.7,662.4 L1014.2,661.3 L1014.7,659.5 L1015.5,663.2 L1016.3,660.1 L1017.1,661.0 L1017.8,666.4 L1018.6,665.8 L1019.4,668.7 L1020.1,670.0 L1020.9,669.6 L1021.6,671.5 L1022.4,675.7 L1023.1,675.1 L1023.8,676.5 L1024.7,679.2 L1025.5,677.3 L1026.3,677.5 L1027.1,680.8 L1027.9,686.6 L1028.7,685.6 L1029.6,690.7 L1030.4,688.4 L1031.0,690.7 L1031.5,689.2 L1032.1,688.2 L1032.7,688.9 L1033.3,695.9 L1033.9,694.7 L1034.4,696.3 L1035.0,702.0 L1035.6,703.0 L1036.4,700.3 L1037.2,704.7 L1038.1,708.1 L1038.9,707.9 L1039.7,705.0 L1040.5,709.6 L1041.3,703.6 L1042.1,708.5 L1042.6,709.6 L1043.0,715.1 L1043.4,711.1 L1043.9,713.3 L1044.3,716.3 L1044.8,720.5 L1045.2,717.1 L1045.6,722.5 L1046.1,723.0 L1046.8,724.0 L1047.6,723.6 L1048.3,729.0 L1049.0,729.9 L1049.8,732.0 L1050.5,732.9 L1051.3,733.8 L1052.0,732.3 L1052.8,734.7 L1053.5,737.0 L1054.3,735.8 L1055.0,737.1 L1055.8,738.3 L1056.5,737.2 L1057.1,737.7 L1057.6,737.7 L1058.2,744.6 L1058.8,743.0 L1059.3,744.6 L1059.9,746.9 L1060.4,749.7 L1061.2,751.9 L1062.1,749.7 L1062.9,752.6 L1063.7,757.0 L1064.5,754.3 L1065.3,757.3 L1066.1,756.7 L1067.0,757.8 L1067.3,758.8 L1067.6,763.8 L1067.9,765.8 L1068.3,760.7 L1068.6,767.7 L1068.9,769.4 L1069.3,768.0 L1069.6,773.1 L1069.9,769.7 L1070.2,773.0 L1070.5,765.9 L1070.8,769.0 L1071.1,762.2 L1071.4,760.8 L1071.7,764.9 L1072.0,758.2 L1072.4,757.3 L1072.7,752.9 L1073.0,755.2 L1073.2,759.9 L1073.5,757.7 L1073.8,759.5 L1074.0,761.9 L1074.3,761.9 L1074.5,762.4 L1074.8,767.2 L1075.1,768.1 L1075.3,766.5 L1075.6,766.7 L1075.8,775.2 L1076.1,773.7 L1076.8,778.6 L1077.4,781.4 L1078.1,780.9 L1078.7,781.4 L1079.4,778.6 L1080.0,788.7 L1080.8,789.8 L1081.5,787.5 L1082.3,788.3 L1083.0,793.4 L1083.8,789.1 L1084.5,796.9 L1085.3,798.2 L1085.9,795.6 L1086.6,797.7 L1087.2,806.1 L1087.9,802.5 L1088.5,805.8 L1089.2,806.6 L1089.7,804.1 L1090.3,812.9 L1090.9,816.0 L1091.4,812.5 L1092.0,813.5 L1092.5,820.8 L1093.1,816.5 L1093.6,820.0 L1094.1,819.4 L1094.6,820.6 L1095.1,824.7 L1095.5,821.7 L1096.0,826.9 L1096.5,831.6 L1097.0,832.1 L1097.8,831.2 L1098.6,840.1 L1099.4,836.7 L1100.2,834.6 L1100.9,837.1 L1101.4,838.6 L1101.8,839.6 L1102.2,842.3 L1102.7,842.3 L1103.1,843.7 L1103.5,849.1 L1104.0,848.2 L1104.4,852.2 L1104.9,849.4 L1105.6,851.7 L1106.4,853.3 L1107.2,856.5 L1108.0,857.8 L1108.8,860.5 L1109.4,862.0 L1110.1,862.9 L1110.7,865.5 L1111.4,867.5 L1112.0,868.6 L1112.7,867.2 L1113.3,870.9 L1114.0,874.3 L1114.7,874.5 L1115.3,879.0 L1116.0,877.8 L1116.6,880.4 L1117.4,880.2 L1118.1,882.4 L1118.9,885.4 L1119.6,887.0 L1120.3,887.3 L1121.1,888.1 L1121.8,888.3 L1122.6,887.3 L1123.3,891.4 L1124.1,890.5 L1124.8,893.1 L1125.6,893.6 L1126.3,896.2 L1127.1,895.3 L1127.6,898.9 L1128.2,899.4 L1128.7,903.6 L1129.3,902.5 L1129.9,904.2 L1130.4,903.2 L1131.0,908.7 L1131.8,908.6 L1132.6,905.9 L1133.3,910.9 L1134.1,911.6 L1134.9,911.3 L1135.4,915.3 L1135.9,914.8 L1136.4,916.3 L1136.9,918.8 L1137.4,918.1 L1137.8,922.3 L1138.3,921.8 L1138.8,925.0 L1139.6,927.6 L1140.3,926.4 L1141.1,927.1 L1141.8,931.8 L1142.6,930.4 L1143.3,933.1 L1144.1,933.2 L1144.8,934.8 L1145.5,937.8 L1146.3,937.0 L1147.0,936.2 L1147.8,939.7 L1148.5,940.6 L1149.3,941.8 L1150.0,943.7 L1150.8,946.3 L1151.5,947.7 L1152.3,948.4 L1153.0,949.4 L1153.8,951.0 L1154.5,951.7 L1155.0,952.6 L1155.5,955.8 L1156.0,958.7 L1156.5,958.0 L1157.1,960.8 L1157.6,963.6 L1158.1,962.7 L1158.6,966.5 L1159.1,967.9 L1159.6,971.0 L1160.1,970.1 L1160.9,972.0 L1161.7,976.7 L1162.5,979.0 L1163.2,978.3 L1164.0,980.4 L1164.8,979.6 L1165.6,983.7 L1166.4,984.1 L1167.2,986.3 L1167.9,985.5 L1168.4,988.8 L1168.8,991.4 L1169.3,993.8 L1169.7,994.5 L1170.1,996.2 L1170.6,998.3 L1171.3,1001.6 L1172.1,998.4 L1172.8,999.4 L1173.6,1004.0 L1174.3,1008.1 L1175.1,1010.0 L1175.8,1010.0 L1176.6,1009.5 L1176.6,1013.3 L1176.7,1013.3 L1176.8,1017.5 L1176.9,1017.7 L1176.9,1022.5 L1177.0,1020.3 L1177.1,1025.2 L1177.9,1023.8 L1178.7,1027.3 L1179.4,1028.0 L1180.2,1026.8 L1181.0,1028.0 L1181.8,1031.2 L1182.6,1032.3 L1183.4,1033.1 L1184.1,1036.5 L1184.9,1037.0 L1185.7,1039.2 L1186.5,1038.2 L1187.3,1041.1 L1188.1,1042.7 L1188.8,1045.6 L1189.6,1047.8 L1190.4,1046.3 L1191.2,1048.4 L1192.0,1045.9 L1192.8,1053.2 L1193.4,1053.1 L1194.1,1054.9 L1194.7,1056.1 L1195.4,1056.9 L1196.0,1055.9 L1196.7,1059.1 L1197.6,1060.6 L1198.4,1063.3 L1199.3,1064.2 L1199.7,1064.1 L1200.1,1062.9 L1200.6,1060.9 L1201.0,1059.3 L1201.4,1059.3 L1201.5,1058.4 L1201.6,1060.2 L1201.7,1063.5 L1201.8,1064.0 L1201.9,1067.9 L1202.0,1067.1 L1202.1,1069.5 L1202.2,1073.0 L1202.3,1071.2 L1202.4,1075.7 L1202.5,1076.6 L1202.6,1078.3 L1202.7,1080.8 L1202.8,1077.3 L1203.0,1076.8 L1203.1,1073.8 L1203.3,1073.9 L1203.4,1069.4 L1203.5,1068.8 L1203.7,1066.5 L1203.8,1064.1 L1204.0,1064.5 L1204.1,1061.2 L1204.2,1060.5 L1204.4,1055.5 L1204.5,1055.4 L1204.7,1056.9 L1204.9,1060.2 L1205.1,1059.8 L1205.3,1063.7 L1205.5,1066.2 L1205.7,1067.0 L1205.9,1068.8 L1206.0,1070.1 L1206.2,1071.3 L1206.4,1074.0 L1206.6,1076.0 L1207.5,1078.3 L1208.4,1077.8 L1209.2,1077.9 L1209.6,1080.9 L1210.0,1080.6 L1210.4,1081.2 L1210.8,1084.7 L1211.2,1085.8 L1211.6,1088.9 L1212.0,1089.8 L1212.4,1090.5 L1212.6,1092.5 L1212.8,1094.5 L1213.1,1099.1 L1213.3,1097.3 L1213.6,1099.3 L1213.8,1103.5 L1214.0,1105.5 L1214.3,1105.4 L1214.5,1109.0 L1214.7,1109.2 L1215.0,1110.4 L1215.1,1109.2 L1215.3,1108.4 L1215.5,1107.3 L1215.6,1103.7 L1215.8,1100.7 L1216.0,1100.5 L1216.1,1098.0 L1216.3,1096.2 L1216.5,1095.4 L1216.7,1093.3 L1216.9,1090.0 L1217.1,1088.8 L1217.3,1089.2 L1217.5,1085.7 L1217.7,1086.0 L1217.9,1079.7 L1218.1,1079.7 L1218.3,1082.3 L1218.4,1082.9 L1218.6,1085.9 L1218.7,1087.6 L1218.9,1087.8 L1219.1,1093.0 L1219.2,1094.7 L1219.4,1092.7 L1219.5,1095.9 L1219.7,1097.0 L1220.1,1099.2 L1220.6,1100.9 L1221.0,1102.8 L1221.5,1105.9 L1221.9,1107.7 L1222.4,1107.7 L1222.8,1110.1 L1223.5,1112.1 L1224.1,1111.3 L1224.8,1114.7 L1225.4,1115.5 L1226.2,1119.1 L1227.0,1120.8 L1227.8,1121.3 L1228.6,1124.2 L1229.4,1123.9 L1229.9,1125.1 L1230.4,1129.3 L1230.9,1129.6 L1231.4,1131.8 L1232.0,1132.3 L1232.8,1135.6 L1233.5,1136.3 L1234.3,1137.8 L1235.1,1138.4 L1235.9,1140.5 L1236.6,1141.8 L1237.4,1143.5 L1238.1,1145.9 L1238.9,1143.7 L1239.6,1145.2 L1240.4,1146.8 L1241.1,1148.4 L1241.9,1149.6 L1242.7,1150.8 L1243.5,1152.9 L1244.2,1155.7 L1245.0,1156.5 L1245.8,1157.4 L1246.6,1160.6 L1247.4,1161.7 L1248.2,1162.0 L1249.0,1165.5 L1249.7,1164.7 L1250.4,1165.1 L1251.2,1167.3 L1251.9,1166.7 L1252.7,1167.3 L1253.4,1170.6 L1254.2,1169.5 L1254.9,1169.9 L1255.7,1172.3 L1256.4,1173.1 L1257.2,1172.2 L1257.9,1175.0 L1258.7,1177.1 L1259.4,1177.4 L1260.2,1179.3 L1260.9,1178.7 L1261.6,1182.0 L1262.4,1181.8 L1263.1,1182.5 L1263.9,1183.1 L1264.6,1186.2 L1265.4,1186.6 L1266.1,1187.3 L1266.9,1189.3 L1267.6,1189.8 L1268.4,1190.8 L1269.1,1192.6 L1269.9,1193.0 L1270.7,1195.2 L1271.5,1197.5 L1272.3,1194.0 L1273.1,1196.7 L1273.9,1197.0 L1274.8,1199.0 L1275.6,1197.0 L1276.4,1201.5 L1277.2,1201.7 L1278.0,1204.1 L1278.8,1204.1 L1279.7,1202.7 L1280.5,1204.6 L1281.3,1207.6 L1282.1,1208.0 L1282.9,1207.2 L1283.7,1209.0 L1284.6,1211.2 L1285.4,1212.1 L1286.2,1211.3 L1287.0,1213.1 L1287.8,1214.2 L1288.6,1214.4 L1289.5,1215.4 L1290.3,1217.6 L1291.1,1217.6 L1291.9,1218.5 L1292.7,1220.8 L1293.5,1221.8 L1294.4,1222.1 L1295.2,1222.0 L1296.0,1222.8 L1296.8,1223.1 L1297.6,1224.4 L1298.4,1226.2 L1299.3,1225.3 L1300.1,1227.0 L1300.9,1227.7 L1301.7,1229.3 L1302.5,1229.8 L1304.2,1232.8 L1305.8,1234.7 L1307.4,1235.9 L1309.1,1237.8 L1310.7,1240.4 L1312.3,1241.2 L1314.0,1244.3 L1315.6,1245.1 L1317.2,1247.1 L1318.9,1249.1 L1320.5,1250.6 L1322.1,1251.5 L1323.8,1253.3 L1325.4,1255.5 L1327.0,1256.2 L1328.7,1259.5 L1330.3,1260.3 L1331.9,1262.7 L1333.6,1266.2 L1335.2,1266.4 L1336.8,1268.4 L1338.5,1270.2 L1340.1,1271.4 L1341.7,1272.7 L1343.4,1274.1 L1345.0,1277.1 L1346.6,1278.8 L1348.3,1281.5 L1349.9,1282.3 L1351.5,1283.9 L1353.2,1284.2 L1354.8,1286.0 L1356.4,1288.0 L1358.1,1289.2 L1359.7,1291.5 L1361.3,1292.5 L1363.0,1294.2 L1364.6,1296.2 L1366.2,1296.9 L1367.9,1300.3 L1369.5,1299.8 L1371.1,1302.7 L1372.8,1304.0 L1374.4,1304.3 L1376.0,1305.7 L1377.7,1307.0 L1379.3,1307.6 L1380.9,1308.6 L1382.6,1309.2 L1384.2,1310.6 L1385.8,1311.0 L1387.5,1311.8 L1389.1,1312.8 L1390.7,1314.0 L1392.4,1314.4 L1394.0,1315.1 L1395.6,1315.7 L1397.3,1316.9 L1398.9,1317.4 L1400.5,1318.8 L1402.2,1319.9 L1403.8,1320.3 L1405.4,1322.6 L1407.1,1321.9 L1408.8,1324.4 L1410.5,1325.2 L1412.3,1327.1 L1413.2,1329.0 L1414.0,1332.4 L1414.9,1334.2 L1415.2,1330.9 L1415.4,1328.1 L1415.7,1325.1 L1415.9,1321.4 L1416.2,1319.3 L1416.4,1321.7 L1416.6,1325.6 L1416.9,1329.3 L1417.1,1332.7 L1417.3,1336.9 L1417.5,1339.3 L1418.4,1337.2 L1419.2,1334.3 L1420.1,1330.6 L1421.8,1332.7 L1423.4,1331.6 L1425.0,1333.2 L1426.7,1333.9 L1428.3,1333.3 L1429.9,1334.4 L1431.6,1336.6 L1433.2,1336.7 L1434.5,1335.2 L1435.8,1336.3 L1437.1,1335.3 L1437.5,1338.6 L1438.0,1341.6 L1438.4,1345.5 L1439.7,1342.2 L1441.0,1342.4 L1442.3,1342.4 L1443.9,1341.5 L1445.5,1342.2 L1447.0,1342.5 L1448.6,1343.6 L1450.2,1343.8 L1451.7,1344.4 L1453.2,1343.8 L1454.7,1344.9 L1456.3,1345.7 L1457.8,1345.8 L1459.3,1346.5 L1461.0,1347.8 L1462.6,1349.0 L1464.2,1349.3 L1465.9,1350.4 L1467.4,1350.7 L1469.0,1351.5 L1470.6,1353.0 L1472.1,1352.6 L1473.7,1354.6 L1475.3,1353.7 L1476.8,1354.6 L1478.4,1354.4 L1480.0,1354.6 L1481.5,1355.6 L1483.3,1355.2 L1485.0,1358.0 L1486.8,1357.3 L1488.5,1359.7 L1490.2,1360.5 L1492.0,1361.8 L1493.5,1362.5 L1495.0,1363.4 L1496.5,1363.2 L1498.0,1363.0 L1499.4,1363.8 L1500.9,1364.5 L1502.4,1364.3 L1503.9,1365.2 L1505.4,1366.1 L1506.9,1366.0 L1508.4,1366.7 L1509.9,1367.7 L1511.4,1367.7 L1512.9,1368.5 L1514.4,1368.6 L1515.9,1368.9 L1517.4,1368.6 L1518.9,1368.6 L1520.4,1369.8 L1521.8,1369.3 L1523.3,1369.5 L1524.8,1370.4 L1526.3,1370.3 L1527.8,1370.8 L1529.3,1370.9 L1530.8,1371.5 L1532.3,1372.1 L1533.8,1372.6 L1535.4,1372.9 L1536.9,1372.5 L1538.5,1373.0 L1540.1,1373.7 L1541.6,1373.5 L1542.9,1372.1 L1544.2,1371.0 L1545.6,1370.0 L1546.9,1372.0 L1548.2,1375.3 L1549.5,1377.8 L1551.0,1377.4 L1552.5,1377.2 L1554.0,1377.5 L1555.4,1377.5 L1556.9,1377.4 L1558.4,1377.6 L1559.9,1378.2 L1561.4,1377.9 L1562.9,1378.0 L1564.4,1377.6 L1565.9,1378.0 L1567.4,1377.4 L1568.9,1377.7 L1570.4,1377.9 L1571.8,1378.7 L1573.3,1378.4 L1574.7,1378.5 L1576.2,1378.7 L1577.6,1378.7 L1579.1,1379.6 L1580.5,1380.2 L1582.0,1380.2 L1583.4,1380.2 L1584.9,1380.3 L1586.3,1380.3 L1587.8,1381.3 L1589.3,1381.0 L1590.7,1381.6 L1592.2,1381.1 L1593.6,1381.9 L1595.1,1382.1 L1596.5,1382.0 L1598.0,1382.0 L1599.4,1383.3 L1600.9,1383.1 L1602.3,1383.2 L1603.8,1382.7 L1605.2,1383.6 L1606.7,1383.5 L1608.1,1384.1 L1609.6,1383.6 L1611.0,1383.7 L1612.5,1383.7 L1613.9,1383.7 L1615.4,1383.8 L1616.8,1384.5 L1618.3,1384.8 L1619.7,1385.6 L1621.2,1385.9 L1622.6,1385.3 L1624.1,1384.8 L1625.5,1385.8 L1627.0,1386.0 L1628.5,1385.9 L1629.9,1385.8 L1631.4,1386.1 L1632.8,1386.5 L1634.3,1386.7 L1635.7,1386.3 L1637.2,1386.9 L1638.6,1386.8 L1640.1,1387.0 L1641.5,1387.6 L1643.0,1387.5 L1644.4,1388.0 L1645.9,1387.3 L1647.3,1388.6 L1648.8,1388.6 L1650.2,1388.5 L1651.7,1388.4 L1653.1,1388.3 L1654.6,1388.5 L1656.0,1389.6 L1657.5,1389.2 L1658.9,1389.1 L1660.4,1389.0 L1661.8,1389.2 L1663.3,1389.1 L1664.7,1389.8 L1666.2,1390.1 L1667.6,1389.6 L1669.1,1390.3 L1670.6,1390.1 L1672.0,1390.5 L1673.5,1390.2 L1674.9,1390.9 L1676.4,1391.3 L1677.8,1390.6 L1679.3,1390.8 L1680.7,1391.3 L1682.2,1390.9 L1683.6,1390.7 L1685.1,1390.4 L1686.5,1391.2 L1688.0,1391.7 L1689.5,1391.3 L1691.0,1391.5 L1692.5,1390.8 L1694.0,1391.5 L1695.5,1391.7 L1697.0,1391.6 L1698.5,1391.7 L1700.0,1391.7 L1701.5,1391.9 L1703.0,1392.3 L1704.5,1392.1 L1706.0,1392.5 L1707.5,1392.2 L1709.0,1392.6 L1710.5,1392.6 L1712.0,1392.7 L1713.5,1392.7 L1715.0,1392.9 L1716.5,1393.2 L1718.0,1392.7 L1719.5,1393.0 L1721.0,1393.2 L1722.5,1393.4 L1724.0,1393.2 L1725.5,1393.4 L1727.0,1393.6 L1728.5,1393.5 L1730.0,1393.7 L1731.5,1393.8 L1733.0,1394.0 L1734.5,1394.0 L1736.0,1394.1 L1737.5,1394.0 L1739.0,1394.1 L1740.5,1394.6 L1742.0,1394.2 L1743.5,1394.4 L1745.0,1394.5 L1746.5,1394.6 L1748.0,1394.6 L1749.5,1394.9 L1751.0,1394.8 L1752.5,1394.9 L1754.0,1394.9 L1755.5,1395.1 L1757.0,1395.0 L1758.5,1395.3 L1760.0,1395.4 L1763.1,1395.4 L1766.2,1396.0 L1769.2,1396.0 L1772.3,1396.2 L1775.4,1396.3 L1778.5,1396.6 L1781.5,1396.7 L1784.6,1396.8 L1787.7,1397.1 L1790.8,1397.3 L1793.8,1397.3 L1796.9,1397.8 L1800.0,1397.7 L1803.1,1397.9 L1806.2,1397.8 L1809.2,1398.0 L1812.3,1398.0 L1815.4,1398.1 L1818.5,1398.3 L1821.5,1398.1 L1824.6,1398.3 L1827.7,1398.3 L1830.8,1398.4 L1833.8,1398.3 L1836.9,1398.4 L1840.0,1398.4 L1843.0,1398.7 L1845.9,1398.8 L1848.9,1398.8 L1851.9,1398.9 L1854.9,1398.9 L1857.8,1398.8 L1860.8,1399.0 L1863.8,1399.3 L1866.8,1399.2 L1869.7,1399.2 L1872.7,1399.0 L1875.7,1399.6 L1878.6,1399.8 L1881.6,1399.8 L1884.6,1400.0 L1887.6,1399.5 L1890.5,1399.9 L1893.5,1400.0 L1896.5,1400.0 L1899.5,1400.1 L1902.4,1400.3 L1905.4,1400.2 L1908.4,1400.4 L1911.4,1400.3 L1914.3,1400.2 L1917.3,1400.6 L1920.3,1400.7 L1923.2,1400.8 L1926.2,1401.0 L1929.2,1400.8 L1932.2,1401.1 L1935.1,1400.7 L1938.1,1401.2 L1941.1,1401.1 L1944.1,1401.3 L1947.0,1401.3 L1950.0,1401.5 L1952.9,1401.7 L1955.9,1401.7 L1958.8,1401.6 L1961.8,1401.9 L1964.7,1401.8 L1967.6,1402.0 L1970.6,1401.9 L1973.5,1401.8 L1976.5,1402.0 L1979.4,1402.0 L1982.4,1402.0 L1985.3,1401.9 L1988.2,1402.3 L1991.2,1402.5 L1994.1,1402.2 L1997.1,1402.4 L2000.0,1402.4 L2003.0,1402.6 L2006.0,1402.7 L2008.9,1402.6 L2011.9,1402.8 L2014.9,1402.8 L2017.9,1402.7 L2020.9,1402.9 L2023.8,1402.6 L2026.8,1402.9 L2029.8,1402.9 L2032.8,1403.0 L2035.7,1403.2 L2038.7,1403.0 L2041.7,1403.0 L2044.7,1403.1 L2047.7,1403.1 L2050.6,1403.1 L2053.6,1403.1 L2056.6,1403.3 L2059.6,1403.2 L2062.6,1403.4 L2065.5,1403.4 L2068.5,1403.5 L2071.5,1403.6 L2074.5,1403.6 L2077.4,1403.6 L2080.4,1403.8 L2083.4,1403.6 L2086.4,1403.6 L2089.4,1403.7 L2092.3,1403.9 L2095.3,1403.7 L2098.3,1403.8 L2101.3,1404.0 L2104.3,1404.3 L2107.2,1404.0 L2110.2,1404.2 L2113.2,1404.3 L2116.2,1404.1 L2119.1,1404.1 L2122.1,1404.2 L2125.1,1404.2 L2128.1,1404.3 L2131.1,1404.2 L2134.0,1404.4 L2137.0,1404.4 L2140.0,1404.7 L2143.0,1404.4 L2146.0,1404.6 L2148.9,1404.5 L2151.9,1404.6 L2154.9,1404.6 L2157.9,1404.6 L2160.9,1404.7 L2163.9,1404.6 L2166.8,1404.8 L2169.8,1404.9 L2172.8,1404.9 L2175.8,1404.9 L2178.8,1405.0 L2181.8,1404.9 L2184.7,1405.0 L2187.7,1405.3 L2190.7,1405.1 L2193.7,1405.3 L2196.7,1405.2 L2199.6,1405.0 L2202.6,1405.2 L2205.6,1405.0 L2208.6,1405.2 L2211.6,1405.4 L2214.6,1405.3 L2217.5,1405.4 L2220.5,1405.3 L2223.5,1405.3 L2226.5,1405.1 L2229.5,1405.4 L2232.5,1405.5 L2235.4,1405.6 L2238.4,1405.5 L2241.4,1405.6 L2244.4,1405.6 L2247.4,1405.6 L2250.4,1405.5 L2253.3,1405.5 L2256.3,1405.4 L2259.3,1405.6 L2262.3,1405.7 L2265.3,1405.6 L2268.2,1405.8 L2271.2,1405.6 L2274.2,1405.9 L2277.2,1406.1 L2280.2,1405.9 L2283.2,1405.7 L2286.1,1405.9 L2289.1,1405.9 L2292.1,1406.0 L2295.1,1406.0 L2298.1,1406.0 L2301.1,1406.1 L2304.0,1406.3 L2307.0,1406.1 L2310.0,1406.2" stroke="#f0f" stroke-width="3"/>
</g>
<g font-family="'Liberation Serif',serif" font-size="84" fill="#000" stroke="#000" stroke-width="0.5" style="font-kerning:none">
<text y="1428.8"><tspan x="197.00" textLength="222.22" lengthAdjust="spacingAndGlyphs">0.0000</tspan><tspan x="419.22" textLength="40.40" lengthAdjust="spacingAndGlyphs">0</tspan></text>
<text y="1202.8"><tspan x="197.00" textLength="222.22" lengthAdjust="spacingAndGlyphs">0.0000</tspan><tspan x="423.70" textLength="31.08" lengthAdjust="spacingAndGlyphs">1</tspan></text>
<text y="976.8"><tspan x="197.00" textLength="222.22" lengthAdjust="spacingAndGlyphs">0.0000</tspan><tspan x="419.22" textLength="40.40" lengthAdjust="spacingAndGlyphs">2</tspan></text>
<text y="750.8"><tspan x="197.00" textLength="222.22" lengthAdjust="spacingAndGlyphs">0.0000</tspan><tspan x="419.22" textLength="40.40" lengthAdjust="spacingAndGlyphs">3</tspan></text>
<text y="524.8"><tspan x="197.00" textLength="222.22" lengthAdjust="spacingAndGlyphs">0.0000</tspan><tspan x="419.22" textLength="40.40" lengthAdjust="spacingAndGlyphs">4</tspan></text>
<text y="298.8"><tspan x="197.00" textLength="222.22" lengthAdjust="spacingAndGlyphs">0.0000</tspan><tspan x="419.22" textLength="40.40" lengthAdjust="spacingAndGlyphs">5</tspan></text>
<text y="72.8"><tspan x="197.00" textLength="222.22" lengthAdjust="spacingAndGlyphs">0.0000</tspan><tspan x="419.22" textLength="40.40" lengthAdjust="spacingAndGlyphs">6</tspan></text>
<text y="1496"><tspan x="560.20" textLength="40.61" lengthAdjust="spacingAndGlyphs">5</tspan><tspan x="602.30" textLength="81.23" lengthAdjust="spacingAndGlyphs">00</tspan></text>
<text y="1496"><tspan x="883.10" textLength="31.37" lengthAdjust="spacingAndGlyphs">1</tspan><tspan x="918.75" textLength="121.84" lengthAdjust="spacingAndGlyphs">000</tspan></text>
<text y="1496"><tspan x="1220.70" textLength="31.37" lengthAdjust="spacingAndGlyphs">1</tspan><tspan x="1256.35" textLength="121.84" lengthAdjust="spacingAndGlyphs">500</tspan></text>
<text y="1496"><tspan x="1550.20" textLength="47.04" lengthAdjust="spacingAndGlyphs">2</tspan><tspan x="1593.95" textLength="121.84" lengthAdjust="spacingAndGlyphs">000</tspan></text>
<text y="1496"><tspan x="1887.80" textLength="47.04" lengthAdjust="spacingAndGlyphs">2</tspan><tspan x="1931.55" textLength="121.84" lengthAdjust="spacingAndGlyphs">500</tspan></text>
<text y="1496"><tspan x="2228.40" textLength="37.34" lengthAdjust="spacingAndGlyphs">3</tspan><tspan x="2269.15" textLength="121.84" lengthAdjust="spacingAndGlyphs">000</tspan></text>
</g>
<text transform="translate(1400.4,1649.6) scale(0.9458,1)" text-anchor="middle" fill="#000" stroke="#000" stroke-width="0.6" style="font-kerning:none" font-family="'Liberation Serif',serif" font-size="109">Wavelength (nm)</text>
<text transform="translate(116,1000) rotate(-90)" font-family="'Liberation Serif',serif" font-size="108" fill="#000" stroke="#000" stroke-width="0.6" style="font-kerning:none"><tspan x="6.4">FOM </tspan><tspan x="265.7">(</tspan><tspan x="301.4" font-size="97">Ω</tspan><tspan x="375.2" dy="-57" font-size="63">-</tspan><tspan x="394.1" font-size="63">1</tspan><tspan x="427.1" dy="57">)</tspan></text>
<g font-family="'Liberation Sans',sans-serif" font-size="64.25" fill="#000">
<line x1="1188.7" x2="1332.3" y1="146.5" y2="146.5" stroke="#000" stroke-width="3" stroke-linecap="round"/>
<text x="1348" y="167.2" stroke="#000" stroke-width="0.4">ZnO/Cu<tspan font-size="38" dy="24">2</tspan><tspan dy="-24">S/ZnO 0/60/60nm</tspan></text>
<line x1="1188.7" x2="1332.3" y1="246" y2="246" stroke="#f00" stroke-width="4" stroke-linecap="round"/>
<text x="1348" y="266.9" stroke="#000" stroke-width="0.4">ZnO/Cu<tspan font-size="38" dy="24">2</tspan><tspan dy="-24">S/ZnO 15/60/60nm</tspan></text>
<line x1="1188.7" x2="1332.3" y1="345.9" y2="345.9" stroke="#00f" stroke-width="4" stroke-linecap="round"/>
<text x="1348" y="366.6" stroke="#000" stroke-width="0.4">ZnO/Cu<tspan font-size="38" dy="24">2</tspan><tspan dy="-24">S/ZnO 30/60/60nm</tspan></text>
<line x1="1188.7" x2="1332.3" y1="445.3" y2="445.3" stroke="#008080" stroke-width="3" stroke-linecap="round"/>
<text x="1348" y="466.3" stroke="#000" stroke-width="0.4">ZnO/Cu<tspan font-size="38" dy="24">2</tspan><tspan dy="-24">S/ZnO 45/60/60nm</tspan></text>
<line x1="1188.7" x2="1332.3" y1="545.3" y2="545.3" stroke="#f0f" stroke-width="3" stroke-linecap="round"/>
<text x="1348" y="566.0" stroke="#000" stroke-width="0.4">ZnO/Cu<tspan font-size="38" dy="24">2</tspan><tspan dy="-24">S/ZnO 60/60/60nm</tspan></text>
</g>
</svg>
</body></html>
